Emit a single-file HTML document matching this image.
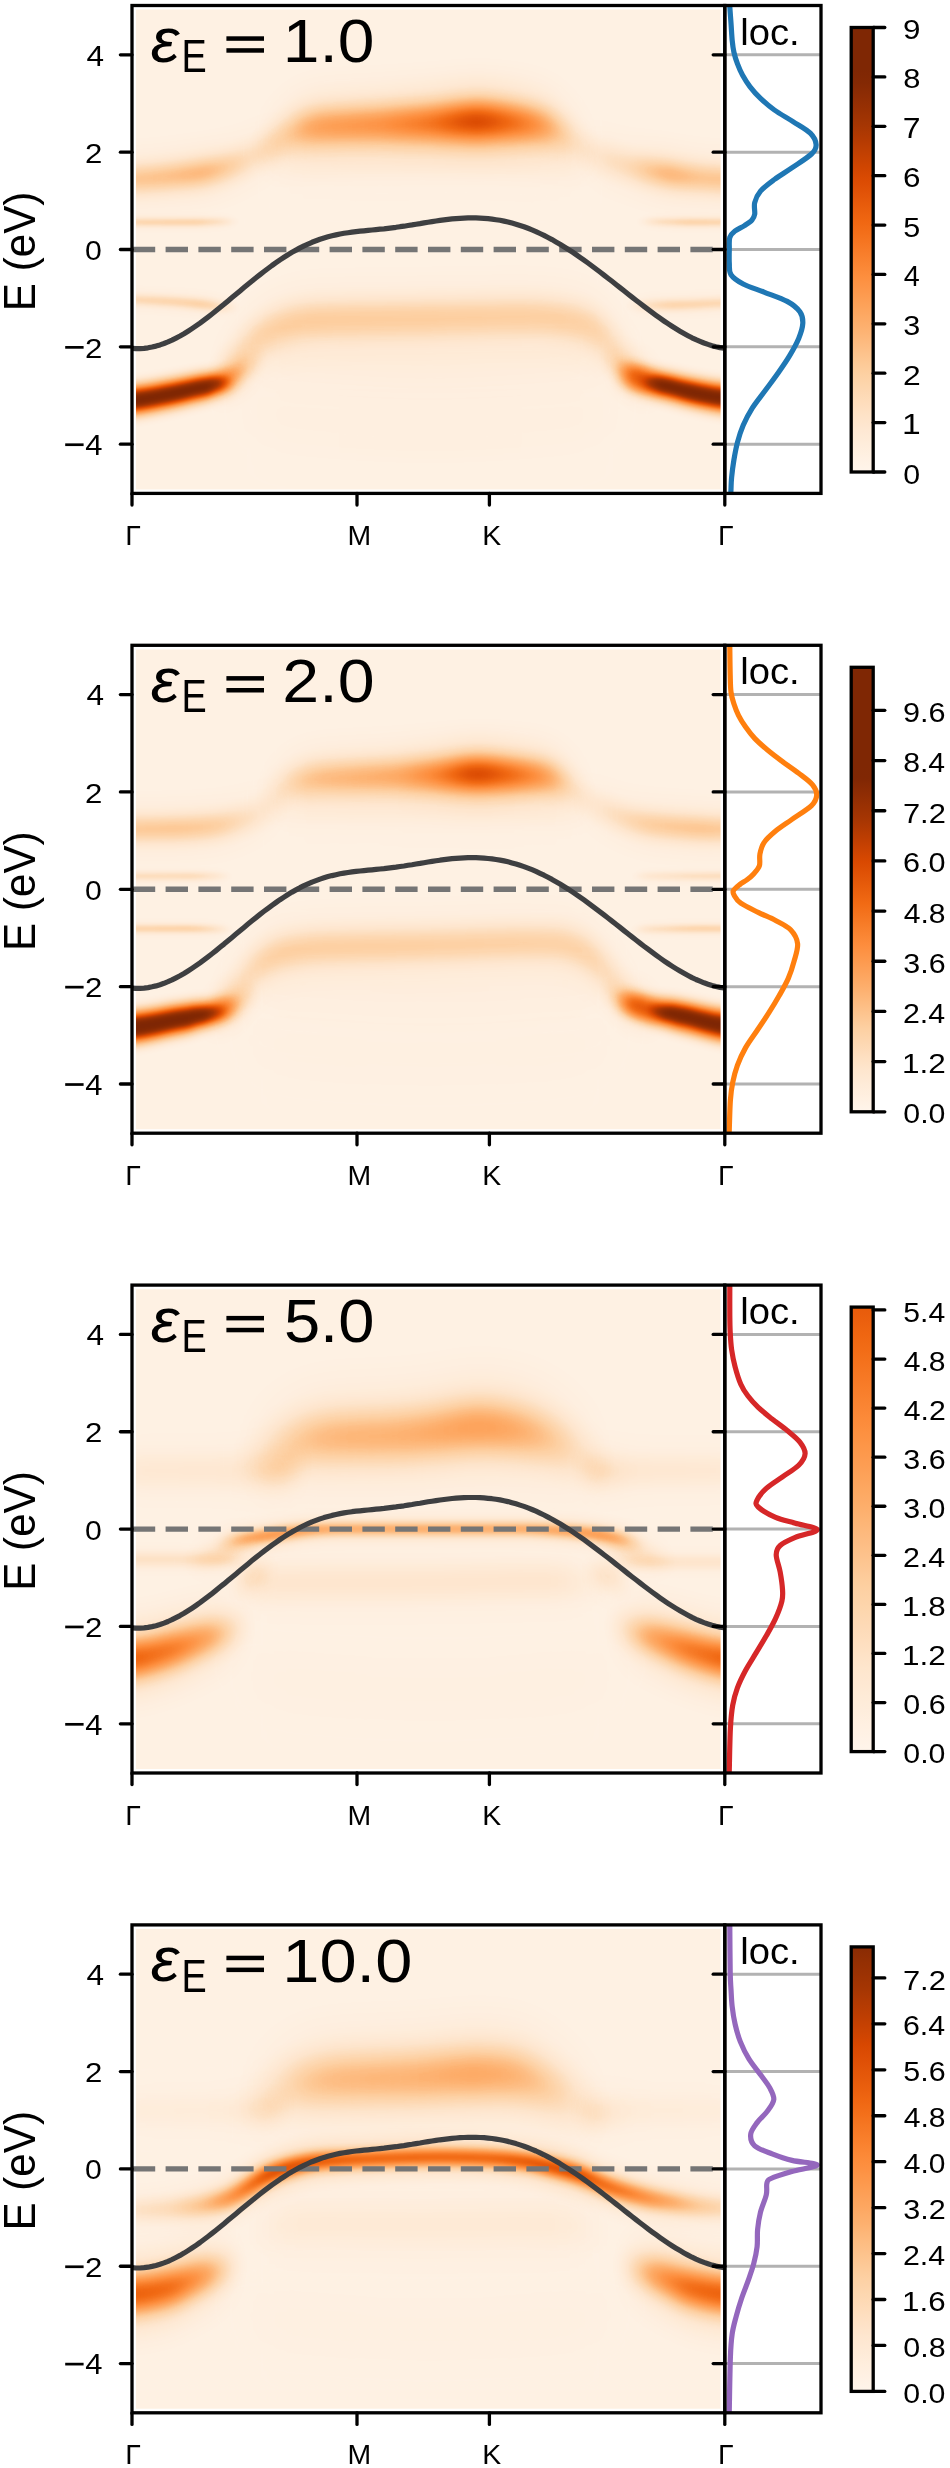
<!DOCTYPE html>
<html><head><meta charset="utf-8"><style>
html,body{margin:0;padding:0;background:#fff;}
svg{display:block;}
.w stop{stop-color:#fff;}
text{opacity:0.999;font-family:"Liberation Sans",sans-serif;fill:#000;font-kerning:none;}
</style></head><body>
<svg width="950" height="2468" viewBox="0 0 950 2468">
<defs><linearGradient class="w" id="g1" gradientUnits="userSpaceOnUse" x1="250" x2="610"><stop offset="0%" stop-opacity="0.000"/><stop offset="13.89%" stop-opacity="0.025"/><stop offset="63.89%" stop-opacity="0.029"/><stop offset="86.11%" stop-opacity="0.025"/><stop offset="100%" stop-opacity="0.000"/></linearGradient>
<linearGradient class="w" id="g2" gradientUnits="userSpaceOnUse" x1="250" x2="610"><stop offset="0%" stop-opacity="0.000"/><stop offset="13.89%" stop-opacity="0.050"/><stop offset="63.89%" stop-opacity="0.057"/><stop offset="86.11%" stop-opacity="0.050"/><stop offset="100%" stop-opacity="0.000"/></linearGradient>
<linearGradient class="w" id="g3" gradientUnits="userSpaceOnUse" x1="215" x2="645"><stop offset="0%" stop-opacity="0.000"/><stop offset="12.79%" stop-opacity="0.010"/><stop offset="50%" stop-opacity="0.010"/><stop offset="87.21%" stop-opacity="0.010"/><stop offset="100%" stop-opacity="0.000"/></linearGradient>
<linearGradient class="w" id="g4" gradientUnits="userSpaceOnUse" x1="215" x2="645"><stop offset="0%" stop-opacity="0.000"/><stop offset="12.79%" stop-opacity="0.020"/><stop offset="50%" stop-opacity="0.019"/><stop offset="87.21%" stop-opacity="0.020"/><stop offset="100%" stop-opacity="0.000"/></linearGradient>
<linearGradient class="w" id="g5" gradientUnits="userSpaceOnUse" x1="100" x2="292"><stop offset="0%" stop-opacity="0.163"/><stop offset="16.67%" stop-opacity="0.163"/><stop offset="36.46%" stop-opacity="0.177"/><stop offset="53.65%" stop-opacity="0.206"/><stop offset="66.67%" stop-opacity="0.137"/><stop offset="76.04%" stop-opacity="0.084"/><stop offset="88.54%" stop-opacity="0.049"/><stop offset="100%" stop-opacity="0.000"/></linearGradient>
<linearGradient class="w" id="g6" gradientUnits="userSpaceOnUse" x1="100" x2="292"><stop offset="0%" stop-opacity="0.310"/><stop offset="16.67%" stop-opacity="0.310"/><stop offset="36.46%" stop-opacity="0.336"/><stop offset="53.65%" stop-opacity="0.390"/><stop offset="66.67%" stop-opacity="0.263"/><stop offset="76.04%" stop-opacity="0.164"/><stop offset="88.54%" stop-opacity="0.098"/><stop offset="100%" stop-opacity="0.000"/></linearGradient>
<linearGradient class="w" id="g7" gradientUnits="userSpaceOnUse" x1="573" x2="760"><stop offset="0%" stop-opacity="0.000"/><stop offset="14.44%" stop-opacity="0.049"/><stop offset="30.48%" stop-opacity="0.085"/><stop offset="51.34%" stop-opacity="0.208"/><stop offset="67.91%" stop-opacity="0.165"/><stop offset="81.18%" stop-opacity="0.165"/><stop offset="100%" stop-opacity="0.165"/></linearGradient>
<linearGradient class="w" id="g8" gradientUnits="userSpaceOnUse" x1="573" x2="760"><stop offset="0%" stop-opacity="0.000"/><stop offset="14.44%" stop-opacity="0.099"/><stop offset="30.48%" stop-opacity="0.165"/><stop offset="51.34%" stop-opacity="0.393"/><stop offset="67.91%" stop-opacity="0.312"/><stop offset="81.18%" stop-opacity="0.312"/><stop offset="100%" stop-opacity="0.312"/></linearGradient>
<linearGradient class="w" id="g9" gradientUnits="userSpaceOnUse" x1="255" x2="595"><stop offset="0%" stop-opacity="0.000"/><stop offset="5.88%" stop-opacity="0.064"/><stop offset="11.76%" stop-opacity="0.146"/><stop offset="17.65%" stop-opacity="0.206"/><stop offset="36.76%" stop-opacity="0.237"/><stop offset="51.47%" stop-opacity="0.303"/><stop offset="65.29%" stop-opacity="0.444"/><stop offset="75%" stop-opacity="0.338"/><stop offset="83.82%" stop-opacity="0.244"/><stop offset="88.53%" stop-opacity="0.154"/><stop offset="94.12%" stop-opacity="0.068"/><stop offset="100%" stop-opacity="0.000"/></linearGradient>
<linearGradient class="w" id="g10" gradientUnits="userSpaceOnUse" x1="255" x2="595"><stop offset="0%" stop-opacity="0.000"/><stop offset="5.88%" stop-opacity="0.125"/><stop offset="11.76%" stop-opacity="0.286"/><stop offset="17.65%" stop-opacity="0.403"/><stop offset="36.76%" stop-opacity="0.464"/><stop offset="51.47%" stop-opacity="0.593"/><stop offset="65.29%" stop-opacity="0.868"/><stop offset="75%" stop-opacity="0.661"/><stop offset="83.82%" stop-opacity="0.474"/><stop offset="88.53%" stop-opacity="0.299"/><stop offset="94.12%" stop-opacity="0.131"/><stop offset="100%" stop-opacity="0.000"/></linearGradient>
<linearGradient class="w" id="g11" gradientUnits="userSpaceOnUse" x1="100" x2="238"><stop offset="0%" stop-opacity="0.099"/><stop offset="23.19%" stop-opacity="0.099"/><stop offset="68.84%" stop-opacity="0.110"/><stop offset="88.41%" stop-opacity="0.065"/><stop offset="100%" stop-opacity="0.000"/></linearGradient>
<linearGradient class="w" id="g12" gradientUnits="userSpaceOnUse" x1="100" x2="238"><stop offset="0%" stop-opacity="0.191"/><stop offset="23.19%" stop-opacity="0.191"/><stop offset="68.84%" stop-opacity="0.213"/><stop offset="88.41%" stop-opacity="0.126"/><stop offset="100%" stop-opacity="0.000"/></linearGradient>
<linearGradient class="w" id="g13" gradientUnits="userSpaceOnUse" x1="638" x2="760"><stop offset="0%" stop-opacity="0.000"/><stop offset="13.93%" stop-opacity="0.065"/><stop offset="42.62%" stop-opacity="0.110"/><stop offset="71.15%" stop-opacity="0.099"/><stop offset="100%" stop-opacity="0.099"/></linearGradient>
<linearGradient class="w" id="g14" gradientUnits="userSpaceOnUse" x1="638" x2="760"><stop offset="0%" stop-opacity="0.000"/><stop offset="13.93%" stop-opacity="0.126"/><stop offset="42.62%" stop-opacity="0.213"/><stop offset="71.15%" stop-opacity="0.191"/><stop offset="100%" stop-opacity="0.191"/></linearGradient>
<linearGradient class="w" id="g15" gradientUnits="userSpaceOnUse" x1="100" x2="238"><stop offset="0%" stop-opacity="0.098"/><stop offset="23.19%" stop-opacity="0.098"/><stop offset="57.97%" stop-opacity="0.106"/><stop offset="76.09%" stop-opacity="0.111"/><stop offset="88.41%" stop-opacity="0.067"/><stop offset="100%" stop-opacity="0.000"/></linearGradient>
<linearGradient class="w" id="g16" gradientUnits="userSpaceOnUse" x1="100" x2="238"><stop offset="0%" stop-opacity="0.188"/><stop offset="23.19%" stop-opacity="0.188"/><stop offset="57.97%" stop-opacity="0.204"/><stop offset="76.09%" stop-opacity="0.217"/><stop offset="88.41%" stop-opacity="0.132"/><stop offset="100%" stop-opacity="0.000"/></linearGradient>
<linearGradient class="w" id="g17" gradientUnits="userSpaceOnUse" x1="628" x2="760"><stop offset="0%" stop-opacity="0.000"/><stop offset="12.88%" stop-opacity="0.062"/><stop offset="31.82%" stop-opacity="0.100"/><stop offset="46.97%" stop-opacity="0.100"/><stop offset="73.33%" stop-opacity="0.098"/><stop offset="100%" stop-opacity="0.098"/></linearGradient>
<linearGradient class="w" id="g18" gradientUnits="userSpaceOnUse" x1="628" x2="760"><stop offset="0%" stop-opacity="0.000"/><stop offset="12.88%" stop-opacity="0.121"/><stop offset="31.82%" stop-opacity="0.195"/><stop offset="46.97%" stop-opacity="0.193"/><stop offset="73.33%" stop-opacity="0.188"/><stop offset="100%" stop-opacity="0.188"/></linearGradient>
<linearGradient class="w" id="g19" gradientUnits="userSpaceOnUse" x1="214" x2="645"><stop offset="0%" stop-opacity="0.000"/><stop offset="3.25%" stop-opacity="0.070"/><stop offset="6.03%" stop-opacity="0.095"/><stop offset="9.51%" stop-opacity="0.101"/><stop offset="15.31%" stop-opacity="0.112"/><stop offset="22.27%" stop-opacity="0.117"/><stop offset="47.8%" stop-opacity="0.117"/><stop offset="75.64%" stop-opacity="0.112"/><stop offset="84.92%" stop-opacity="0.106"/><stop offset="89.56%" stop-opacity="0.096"/><stop offset="93.04%" stop-opacity="0.090"/><stop offset="96.52%" stop-opacity="0.070"/><stop offset="100%" stop-opacity="0.000"/></linearGradient>
<linearGradient class="w" id="g20" gradientUnits="userSpaceOnUse" x1="214" x2="645"><stop offset="0%" stop-opacity="0.000"/><stop offset="3.25%" stop-opacity="0.134"/><stop offset="6.03%" stop-opacity="0.185"/><stop offset="9.51%" stop-opacity="0.196"/><stop offset="15.31%" stop-opacity="0.217"/><stop offset="22.27%" stop-opacity="0.228"/><stop offset="47.8%" stop-opacity="0.228"/><stop offset="75.64%" stop-opacity="0.217"/><stop offset="84.92%" stop-opacity="0.206"/><stop offset="89.56%" stop-opacity="0.188"/><stop offset="93.04%" stop-opacity="0.174"/><stop offset="96.52%" stop-opacity="0.134"/><stop offset="100%" stop-opacity="0.000"/></linearGradient>
<linearGradient class="w" id="g21" gradientUnits="userSpaceOnUse" x1="230" x2="630"><stop offset="0%" stop-opacity="0.000"/><stop offset="10%" stop-opacity="0.020"/><stop offset="50%" stop-opacity="0.019"/><stop offset="90%" stop-opacity="0.020"/><stop offset="100%" stop-opacity="0.000"/></linearGradient>
<linearGradient class="w" id="g22" gradientUnits="userSpaceOnUse" x1="230" x2="630"><stop offset="0%" stop-opacity="0.000"/><stop offset="10%" stop-opacity="0.040"/><stop offset="50%" stop-opacity="0.038"/><stop offset="90%" stop-opacity="0.040"/><stop offset="100%" stop-opacity="0.000"/></linearGradient>
<linearGradient class="w" id="g23" gradientUnits="userSpaceOnUse" x1="212" x2="262"><stop offset="0%" stop-opacity="0.000"/><stop offset="36%" stop-opacity="0.222"/><stop offset="72%" stop-opacity="0.078"/><stop offset="100%" stop-opacity="0.000"/></linearGradient>
<linearGradient class="w" id="g24" gradientUnits="userSpaceOnUse" x1="212" x2="262"><stop offset="0%" stop-opacity="0.000"/><stop offset="36%" stop-opacity="0.428"/><stop offset="72%" stop-opacity="0.153"/><stop offset="100%" stop-opacity="0.000"/></linearGradient>
<linearGradient class="w" id="g25" gradientUnits="userSpaceOnUse" x1="605" x2="658"><stop offset="0%" stop-opacity="0.000"/><stop offset="28.3%" stop-opacity="0.089"/><stop offset="66.04%" stop-opacity="0.256"/><stop offset="100%" stop-opacity="0.000"/></linearGradient>
<linearGradient class="w" id="g26" gradientUnits="userSpaceOnUse" x1="605" x2="658"><stop offset="0%" stop-opacity="0.000"/><stop offset="28.3%" stop-opacity="0.174"/><stop offset="66.04%" stop-opacity="0.492"/><stop offset="100%" stop-opacity="0.000"/></linearGradient>
<linearGradient class="w" id="g27" gradientUnits="userSpaceOnUse" x1="100" x2="240"><stop offset="0%" stop-opacity="0.593"/><stop offset="22.86%" stop-opacity="0.593"/><stop offset="50%" stop-opacity="0.595"/><stop offset="77.14%" stop-opacity="0.599"/><stop offset="87.14%" stop-opacity="0.454"/><stop offset="100%" stop-opacity="0.000"/></linearGradient>
<linearGradient class="w" id="g28" gradientUnits="userSpaceOnUse" x1="615" x2="760"><stop offset="0%" stop-opacity="0.000"/><stop offset="11.72%" stop-opacity="0.454"/><stop offset="27.59%" stop-opacity="0.599"/><stop offset="55.86%" stop-opacity="0.595"/><stop offset="75.72%" stop-opacity="0.593"/><stop offset="100%" stop-opacity="0.593"/></linearGradient>
<linearGradient class="w" id="g29" gradientUnits="userSpaceOnUse" x1="100" x2="232"><stop offset="0%" stop-opacity="1.000"/><stop offset="24.24%" stop-opacity="1.000"/><stop offset="53.03%" stop-opacity="1.000"/><stop offset="81.82%" stop-opacity="1.000"/><stop offset="90.91%" stop-opacity="0.735"/><stop offset="100%" stop-opacity="0.000"/></linearGradient>
<linearGradient class="w" id="g30" gradientUnits="userSpaceOnUse" x1="640" x2="760"><stop offset="0%" stop-opacity="0.000"/><stop offset="8.33%" stop-opacity="0.735"/><stop offset="16.67%" stop-opacity="1.000"/><stop offset="46.67%" stop-opacity="1.000"/><stop offset="70.67%" stop-opacity="1.000"/><stop offset="100%" stop-opacity="1.000"/></linearGradient>
<linearGradient class="w" id="g31" gradientUnits="userSpaceOnUse" x1="250" x2="610"><stop offset="0%" stop-opacity="0.000"/><stop offset="13.89%" stop-opacity="0.020"/><stop offset="63.89%" stop-opacity="0.024"/><stop offset="86.11%" stop-opacity="0.020"/><stop offset="100%" stop-opacity="0.000"/></linearGradient>
<linearGradient class="w" id="g32" gradientUnits="userSpaceOnUse" x1="250" x2="610"><stop offset="0%" stop-opacity="0.000"/><stop offset="13.89%" stop-opacity="0.040"/><stop offset="63.89%" stop-opacity="0.047"/><stop offset="86.11%" stop-opacity="0.040"/><stop offset="100%" stop-opacity="0.000"/></linearGradient>
<linearGradient class="w" id="g33" gradientUnits="userSpaceOnUse" x1="215" x2="645"><stop offset="0%" stop-opacity="0.000"/><stop offset="12.79%" stop-opacity="0.008"/><stop offset="50%" stop-opacity="0.007"/><stop offset="87.21%" stop-opacity="0.008"/><stop offset="100%" stop-opacity="0.000"/></linearGradient>
<linearGradient class="w" id="g34" gradientUnits="userSpaceOnUse" x1="215" x2="645"><stop offset="0%" stop-opacity="0.000"/><stop offset="12.79%" stop-opacity="0.015"/><stop offset="50%" stop-opacity="0.014"/><stop offset="87.21%" stop-opacity="0.015"/><stop offset="100%" stop-opacity="0.000"/></linearGradient>
<linearGradient class="w" id="g35" gradientUnits="userSpaceOnUse" x1="100" x2="292"><stop offset="0%" stop-opacity="0.151"/><stop offset="16.67%" stop-opacity="0.151"/><stop offset="41.67%" stop-opacity="0.158"/><stop offset="59.9%" stop-opacity="0.138"/><stop offset="72.92%" stop-opacity="0.079"/><stop offset="85.94%" stop-opacity="0.040"/><stop offset="100%" stop-opacity="0.000"/></linearGradient>
<linearGradient class="w" id="g36" gradientUnits="userSpaceOnUse" x1="100" x2="292"><stop offset="0%" stop-opacity="0.285"/><stop offset="16.67%" stop-opacity="0.285"/><stop offset="41.67%" stop-opacity="0.298"/><stop offset="59.9%" stop-opacity="0.261"/><stop offset="72.92%" stop-opacity="0.153"/><stop offset="85.94%" stop-opacity="0.081"/><stop offset="100%" stop-opacity="0.000"/></linearGradient>
<linearGradient class="w" id="g37" gradientUnits="userSpaceOnUse" x1="570" x2="760"><stop offset="0%" stop-opacity="0.000"/><stop offset="14.74%" stop-opacity="0.047"/><stop offset="28.95%" stop-opacity="0.086"/><stop offset="42.11%" stop-opacity="0.130"/><stop offset="68.42%" stop-opacity="0.163"/><stop offset="81.47%" stop-opacity="0.149"/><stop offset="100%" stop-opacity="0.149"/></linearGradient>
<linearGradient class="w" id="g38" gradientUnits="userSpaceOnUse" x1="570" x2="760"><stop offset="0%" stop-opacity="0.000"/><stop offset="14.74%" stop-opacity="0.093"/><stop offset="28.95%" stop-opacity="0.167"/><stop offset="42.11%" stop-opacity="0.249"/><stop offset="68.42%" stop-opacity="0.308"/><stop offset="81.47%" stop-opacity="0.282"/><stop offset="100%" stop-opacity="0.282"/></linearGradient>
<linearGradient class="w" id="g39" gradientUnits="userSpaceOnUse" x1="258" x2="590"><stop offset="0%" stop-opacity="0.000"/><stop offset="7.23%" stop-opacity="0.058"/><stop offset="12.65%" stop-opacity="0.120"/><stop offset="18.07%" stop-opacity="0.149"/><stop offset="42.77%" stop-opacity="0.192"/><stop offset="54.82%" stop-opacity="0.289"/><stop offset="65.66%" stop-opacity="0.461"/><stop offset="77.41%" stop-opacity="0.330"/><stop offset="87.95%" stop-opacity="0.210"/><stop offset="93.98%" stop-opacity="0.083"/><stop offset="100%" stop-opacity="0.000"/></linearGradient>
<linearGradient class="w" id="g40" gradientUnits="userSpaceOnUse" x1="258" x2="590"><stop offset="0%" stop-opacity="0.000"/><stop offset="7.23%" stop-opacity="0.114"/><stop offset="12.65%" stop-opacity="0.234"/><stop offset="18.07%" stop-opacity="0.291"/><stop offset="42.77%" stop-opacity="0.373"/><stop offset="54.82%" stop-opacity="0.562"/><stop offset="65.66%" stop-opacity="0.899"/><stop offset="77.41%" stop-opacity="0.644"/><stop offset="87.95%" stop-opacity="0.410"/><stop offset="93.98%" stop-opacity="0.161"/><stop offset="100%" stop-opacity="0.000"/></linearGradient>
<linearGradient class="w" id="g41" gradientUnits="userSpaceOnUse" x1="100" x2="232"><stop offset="0%" stop-opacity="0.076"/><stop offset="24.24%" stop-opacity="0.076"/><stop offset="71.97%" stop-opacity="0.082"/><stop offset="89.39%" stop-opacity="0.043"/><stop offset="100%" stop-opacity="0.000"/></linearGradient>
<linearGradient class="w" id="g42" gradientUnits="userSpaceOnUse" x1="100" x2="232"><stop offset="0%" stop-opacity="0.147"/><stop offset="24.24%" stop-opacity="0.147"/><stop offset="71.97%" stop-opacity="0.158"/><stop offset="89.39%" stop-opacity="0.083"/><stop offset="100%" stop-opacity="0.000"/></linearGradient>
<linearGradient class="w" id="g43" gradientUnits="userSpaceOnUse" x1="632" x2="760"><stop offset="0%" stop-opacity="0.000"/><stop offset="10.94%" stop-opacity="0.043"/><stop offset="45.31%" stop-opacity="0.070"/><stop offset="72.5%" stop-opacity="0.076"/><stop offset="100%" stop-opacity="0.076"/></linearGradient>
<linearGradient class="w" id="g44" gradientUnits="userSpaceOnUse" x1="632" x2="760"><stop offset="0%" stop-opacity="0.000"/><stop offset="10.94%" stop-opacity="0.083"/><stop offset="45.31%" stop-opacity="0.136"/><stop offset="72.5%" stop-opacity="0.147"/><stop offset="100%" stop-opacity="0.147"/></linearGradient>
<linearGradient class="w" id="g45" gradientUnits="userSpaceOnUse" x1="100" x2="232"><stop offset="0%" stop-opacity="0.104"/><stop offset="24.24%" stop-opacity="0.104"/><stop offset="71.97%" stop-opacity="0.110"/><stop offset="89.39%" stop-opacity="0.059"/><stop offset="100%" stop-opacity="0.000"/></linearGradient>
<linearGradient class="w" id="g46" gradientUnits="userSpaceOnUse" x1="100" x2="232"><stop offset="0%" stop-opacity="0.202"/><stop offset="24.24%" stop-opacity="0.202"/><stop offset="71.97%" stop-opacity="0.213"/><stop offset="89.39%" stop-opacity="0.115"/><stop offset="100%" stop-opacity="0.000"/></linearGradient>
<linearGradient class="w" id="g47" gradientUnits="userSpaceOnUse" x1="632" x2="760"><stop offset="0%" stop-opacity="0.000"/><stop offset="10.94%" stop-opacity="0.059"/><stop offset="45.31%" stop-opacity="0.104"/><stop offset="72.5%" stop-opacity="0.104"/><stop offset="100%" stop-opacity="0.104"/></linearGradient>
<linearGradient class="w" id="g48" gradientUnits="userSpaceOnUse" x1="632" x2="760"><stop offset="0%" stop-opacity="0.000"/><stop offset="10.94%" stop-opacity="0.115"/><stop offset="45.31%" stop-opacity="0.202"/><stop offset="72.5%" stop-opacity="0.202"/><stop offset="100%" stop-opacity="0.202"/></linearGradient>
<linearGradient class="w" id="g49" gradientUnits="userSpaceOnUse" x1="212" x2="640"><stop offset="0%" stop-opacity="0.000"/><stop offset="3.27%" stop-opacity="0.067"/><stop offset="6.54%" stop-opacity="0.090"/><stop offset="10.05%" stop-opacity="0.101"/><stop offset="14.72%" stop-opacity="0.112"/><stop offset="22.9%" stop-opacity="0.112"/><stop offset="48.6%" stop-opacity="0.112"/><stop offset="81.31%" stop-opacity="0.107"/><stop offset="88.32%" stop-opacity="0.107"/><stop offset="92.52%" stop-opacity="0.090"/><stop offset="95.79%" stop-opacity="0.072"/><stop offset="100%" stop-opacity="0.000"/></linearGradient>
<linearGradient class="w" id="g50" gradientUnits="userSpaceOnUse" x1="212" x2="640"><stop offset="0%" stop-opacity="0.000"/><stop offset="3.27%" stop-opacity="0.129"/><stop offset="6.54%" stop-opacity="0.176"/><stop offset="10.05%" stop-opacity="0.197"/><stop offset="14.72%" stop-opacity="0.219"/><stop offset="22.9%" stop-opacity="0.219"/><stop offset="48.6%" stop-opacity="0.219"/><stop offset="81.31%" stop-opacity="0.208"/><stop offset="88.32%" stop-opacity="0.208"/><stop offset="92.52%" stop-opacity="0.176"/><stop offset="95.79%" stop-opacity="0.140"/><stop offset="100%" stop-opacity="0.000"/></linearGradient>
<linearGradient class="w" id="g51" gradientUnits="userSpaceOnUse" x1="230" x2="630"><stop offset="0%" stop-opacity="0.000"/><stop offset="10%" stop-opacity="0.015"/><stop offset="50%" stop-opacity="0.014"/><stop offset="90%" stop-opacity="0.015"/><stop offset="100%" stop-opacity="0.000"/></linearGradient>
<linearGradient class="w" id="g52" gradientUnits="userSpaceOnUse" x1="230" x2="630"><stop offset="0%" stop-opacity="0.000"/><stop offset="10%" stop-opacity="0.030"/><stop offset="50%" stop-opacity="0.028"/><stop offset="90%" stop-opacity="0.030"/><stop offset="100%" stop-opacity="0.000"/></linearGradient>
<linearGradient class="w" id="g53" gradientUnits="userSpaceOnUse" x1="205" x2="256"><stop offset="0%" stop-opacity="0.000"/><stop offset="33.33%" stop-opacity="0.235"/><stop offset="68.63%" stop-opacity="0.089"/><stop offset="100%" stop-opacity="0.000"/></linearGradient>
<linearGradient class="w" id="g54" gradientUnits="userSpaceOnUse" x1="205" x2="256"><stop offset="0%" stop-opacity="0.000"/><stop offset="33.33%" stop-opacity="0.453"/><stop offset="68.63%" stop-opacity="0.174"/><stop offset="100%" stop-opacity="0.000"/></linearGradient>
<linearGradient class="w" id="g55" gradientUnits="userSpaceOnUse" x1="606" x2="660"><stop offset="0%" stop-opacity="0.000"/><stop offset="27.78%" stop-opacity="0.117"/><stop offset="62.96%" stop-opacity="0.256"/><stop offset="100%" stop-opacity="0.000"/></linearGradient>
<linearGradient class="w" id="g56" gradientUnits="userSpaceOnUse" x1="606" x2="660"><stop offset="0%" stop-opacity="0.000"/><stop offset="27.78%" stop-opacity="0.228"/><stop offset="62.96%" stop-opacity="0.492"/><stop offset="100%" stop-opacity="0.000"/></linearGradient>
<linearGradient class="w" id="g57" gradientUnits="userSpaceOnUse" x1="100" x2="240"><stop offset="0%" stop-opacity="0.611"/><stop offset="22.86%" stop-opacity="0.611"/><stop offset="63.57%" stop-opacity="0.614"/><stop offset="77.14%" stop-opacity="0.560"/><stop offset="87.14%" stop-opacity="0.409"/><stop offset="100%" stop-opacity="0.000"/></linearGradient>
<linearGradient class="w" id="g58" gradientUnits="userSpaceOnUse" x1="615" x2="760"><stop offset="0%" stop-opacity="0.000"/><stop offset="10.34%" stop-opacity="0.431"/><stop offset="27.59%" stop-opacity="0.581"/><stop offset="40.69%" stop-opacity="0.614"/><stop offset="75.72%" stop-opacity="0.611"/><stop offset="100%" stop-opacity="0.611"/></linearGradient>
<linearGradient class="w" id="g59" gradientUnits="userSpaceOnUse" x1="100" x2="228"><stop offset="0%" stop-opacity="1.000"/><stop offset="25%" stop-opacity="1.000"/><stop offset="69.53%" stop-opacity="1.000"/><stop offset="82.81%" stop-opacity="0.976"/><stop offset="90.62%" stop-opacity="0.643"/><stop offset="100%" stop-opacity="0.000"/></linearGradient>
<linearGradient class="w" id="g60" gradientUnits="userSpaceOnUse" x1="645" x2="760"><stop offset="0%" stop-opacity="0.000"/><stop offset="8.7%" stop-opacity="0.643"/><stop offset="17.39%" stop-opacity="0.976"/><stop offset="26.96%" stop-opacity="1.000"/><stop offset="69.39%" stop-opacity="1.000"/><stop offset="100%" stop-opacity="1.000"/></linearGradient>
<linearGradient class="w" id="g61" gradientUnits="userSpaceOnUse" x1="215" x2="645"><stop offset="0%" stop-opacity="0.000"/><stop offset="12.79%" stop-opacity="0.008"/><stop offset="50%" stop-opacity="0.007"/><stop offset="87.21%" stop-opacity="0.008"/><stop offset="100%" stop-opacity="0.000"/></linearGradient>
<linearGradient class="w" id="g62" gradientUnits="userSpaceOnUse" x1="215" x2="645"><stop offset="0%" stop-opacity="0.000"/><stop offset="12.79%" stop-opacity="0.015"/><stop offset="50%" stop-opacity="0.014"/><stop offset="87.21%" stop-opacity="0.015"/><stop offset="100%" stop-opacity="0.000"/></linearGradient>
<linearGradient class="w" id="g63" gradientUnits="userSpaceOnUse" x1="100" x2="305"><stop offset="0%" stop-opacity="0.037"/><stop offset="15.61%" stop-opacity="0.037"/><stop offset="68.29%" stop-opacity="0.043"/><stop offset="88.78%" stop-opacity="0.093"/><stop offset="100%" stop-opacity="0.000"/></linearGradient>
<linearGradient class="w" id="g64" gradientUnits="userSpaceOnUse" x1="100" x2="305"><stop offset="0%" stop-opacity="0.072"/><stop offset="15.61%" stop-opacity="0.072"/><stop offset="68.29%" stop-opacity="0.083"/><stop offset="88.78%" stop-opacity="0.180"/><stop offset="100%" stop-opacity="0.000"/></linearGradient>
<linearGradient class="w" id="g65" gradientUnits="userSpaceOnUse" x1="578" x2="760"><stop offset="0%" stop-opacity="0.000"/><stop offset="9.34%" stop-opacity="0.087"/><stop offset="28.57%" stop-opacity="0.043"/><stop offset="80.66%" stop-opacity="0.037"/><stop offset="100%" stop-opacity="0.037"/></linearGradient>
<linearGradient class="w" id="g66" gradientUnits="userSpaceOnUse" x1="578" x2="760"><stop offset="0%" stop-opacity="0.000"/><stop offset="9.34%" stop-opacity="0.170"/><stop offset="28.57%" stop-opacity="0.083"/><stop offset="80.66%" stop-opacity="0.073"/><stop offset="100%" stop-opacity="0.073"/></linearGradient>
<linearGradient class="w" id="g67" gradientUnits="userSpaceOnUse" x1="240" x2="605"><stop offset="0%" stop-opacity="0.000"/><stop offset="8.77%" stop-opacity="0.067"/><stop offset="16.44%" stop-opacity="0.138"/><stop offset="24.66%" stop-opacity="0.161"/><stop offset="43.84%" stop-opacity="0.173"/><stop offset="54.79%" stop-opacity="0.191"/><stop offset="64.38%" stop-opacity="0.215"/><stop offset="73.97%" stop-opacity="0.197"/><stop offset="82.19%" stop-opacity="0.161"/><stop offset="87.67%" stop-opacity="0.125"/><stop offset="93.7%" stop-opacity="0.069"/><stop offset="100%" stop-opacity="0.000"/></linearGradient>
<linearGradient class="w" id="g68" gradientUnits="userSpaceOnUse" x1="240" x2="605"><stop offset="0%" stop-opacity="0.000"/><stop offset="8.77%" stop-opacity="0.128"/><stop offset="16.44%" stop-opacity="0.267"/><stop offset="24.66%" stop-opacity="0.315"/><stop offset="43.84%" stop-opacity="0.338"/><stop offset="54.79%" stop-opacity="0.373"/><stop offset="64.38%" stop-opacity="0.420"/><stop offset="73.97%" stop-opacity="0.385"/><stop offset="82.19%" stop-opacity="0.313"/><stop offset="87.67%" stop-opacity="0.241"/><stop offset="93.7%" stop-opacity="0.133"/><stop offset="100%" stop-opacity="0.000"/></linearGradient>
<linearGradient class="w" id="g69" gradientUnits="userSpaceOnUse" x1="220" x2="640"><stop offset="0%" stop-opacity="0.000"/><stop offset="4.76%" stop-opacity="0.138"/><stop offset="10.71%" stop-opacity="0.239"/><stop offset="19.05%" stop-opacity="0.223"/><stop offset="26.19%" stop-opacity="0.213"/><stop offset="47.62%" stop-opacity="0.213"/><stop offset="73.81%" stop-opacity="0.213"/><stop offset="85.71%" stop-opacity="0.223"/><stop offset="90.48%" stop-opacity="0.239"/><stop offset="95.71%" stop-opacity="0.138"/><stop offset="100%" stop-opacity="0.000"/></linearGradient>
<linearGradient class="w" id="g70" gradientUnits="userSpaceOnUse" x1="220" x2="640"><stop offset="0%" stop-opacity="0.000"/><stop offset="4.76%" stop-opacity="0.275"/><stop offset="10.71%" stop-opacity="0.469"/><stop offset="19.05%" stop-opacity="0.432"/><stop offset="26.19%" stop-opacity="0.408"/><stop offset="47.62%" stop-opacity="0.408"/><stop offset="73.81%" stop-opacity="0.408"/><stop offset="85.71%" stop-opacity="0.432"/><stop offset="90.48%" stop-opacity="0.469"/><stop offset="95.71%" stop-opacity="0.275"/><stop offset="100%" stop-opacity="0.000"/></linearGradient>
<linearGradient class="w" id="g71" gradientUnits="userSpaceOnUse" x1="185" x2="258"><stop offset="0%" stop-opacity="0.000"/><stop offset="36.99%" stop-opacity="0.056"/><stop offset="72.6%" stop-opacity="0.084"/><stop offset="100%" stop-opacity="0.000"/></linearGradient>
<linearGradient class="w" id="g72" gradientUnits="userSpaceOnUse" x1="185" x2="258"><stop offset="0%" stop-opacity="0.000"/><stop offset="36.99%" stop-opacity="0.109"/><stop offset="72.6%" stop-opacity="0.161"/><stop offset="100%" stop-opacity="0.000"/></linearGradient>
<linearGradient class="w" id="g73" gradientUnits="userSpaceOnUse" x1="602" x2="675"><stop offset="0%" stop-opacity="0.000"/><stop offset="27.4%" stop-opacity="0.084"/><stop offset="63.01%" stop-opacity="0.056"/><stop offset="100%" stop-opacity="0.000"/></linearGradient>
<linearGradient class="w" id="g74" gradientUnits="userSpaceOnUse" x1="602" x2="675"><stop offset="0%" stop-opacity="0.000"/><stop offset="27.4%" stop-opacity="0.161"/><stop offset="63.01%" stop-opacity="0.109"/><stop offset="100%" stop-opacity="0.000"/></linearGradient>
<linearGradient class="w" id="g75" gradientUnits="userSpaceOnUse" x1="100" x2="246"><stop offset="0%" stop-opacity="0.065"/><stop offset="21.92%" stop-opacity="0.065"/><stop offset="87.67%" stop-opacity="0.065"/><stop offset="100%" stop-opacity="0.000"/></linearGradient>
<linearGradient class="w" id="g76" gradientUnits="userSpaceOnUse" x1="100" x2="246"><stop offset="0%" stop-opacity="0.125"/><stop offset="21.92%" stop-opacity="0.125"/><stop offset="87.67%" stop-opacity="0.125"/><stop offset="100%" stop-opacity="0.000"/></linearGradient>
<linearGradient class="w" id="g77" gradientUnits="userSpaceOnUse" x1="612" x2="760"><stop offset="0%" stop-opacity="0.000"/><stop offset="12.16%" stop-opacity="0.054"/><stop offset="76.22%" stop-opacity="0.054"/><stop offset="100%" stop-opacity="0.054"/></linearGradient>
<linearGradient class="w" id="g78" gradientUnits="userSpaceOnUse" x1="612" x2="760"><stop offset="0%" stop-opacity="0.000"/><stop offset="12.16%" stop-opacity="0.104"/><stop offset="76.22%" stop-opacity="0.104"/><stop offset="100%" stop-opacity="0.104"/></linearGradient>
<linearGradient class="w" id="g79" gradientUnits="userSpaceOnUse" x1="232" x2="272"><stop offset="0%" stop-opacity="0.000"/><stop offset="50%" stop-opacity="0.093"/><stop offset="100%" stop-opacity="0.000"/></linearGradient>
<linearGradient class="w" id="g80" gradientUnits="userSpaceOnUse" x1="232" x2="272"><stop offset="0%" stop-opacity="0.000"/><stop offset="50%" stop-opacity="0.179"/><stop offset="100%" stop-opacity="0.000"/></linearGradient>
<linearGradient class="w" id="g81" gradientUnits="userSpaceOnUse" x1="588" x2="628"><stop offset="0%" stop-opacity="0.000"/><stop offset="50%" stop-opacity="0.093"/><stop offset="100%" stop-opacity="0.000"/></linearGradient>
<linearGradient class="w" id="g82" gradientUnits="userSpaceOnUse" x1="588" x2="628"><stop offset="0%" stop-opacity="0.000"/><stop offset="50%" stop-opacity="0.179"/><stop offset="100%" stop-opacity="0.000"/></linearGradient>
<linearGradient class="w" id="g83" gradientUnits="userSpaceOnUse" x1="238" x2="612"><stop offset="0%" stop-opacity="0.000"/><stop offset="6.42%" stop-opacity="0.046"/><stop offset="48.66%" stop-opacity="0.046"/><stop offset="86.1%" stop-opacity="0.046"/><stop offset="100%" stop-opacity="0.000"/></linearGradient>
<linearGradient class="w" id="g84" gradientUnits="userSpaceOnUse" x1="238" x2="612"><stop offset="0%" stop-opacity="0.000"/><stop offset="6.42%" stop-opacity="0.090"/><stop offset="48.66%" stop-opacity="0.090"/><stop offset="86.1%" stop-opacity="0.090"/><stop offset="100%" stop-opacity="0.000"/></linearGradient>
<linearGradient class="w" id="g85" gradientUnits="userSpaceOnUse" x1="100" x2="250"><stop offset="0%" stop-opacity="0.348"/><stop offset="23.33%" stop-opacity="0.348"/><stop offset="50.67%" stop-opacity="0.294"/><stop offset="75.33%" stop-opacity="0.204"/><stop offset="86.67%" stop-opacity="0.100"/><stop offset="100%" stop-opacity="0.000"/></linearGradient>
<linearGradient class="w" id="g86" gradientUnits="userSpaceOnUse" x1="100" x2="250"><stop offset="0%" stop-opacity="0.683"/><stop offset="23.33%" stop-opacity="0.683"/><stop offset="50.67%" stop-opacity="0.576"/><stop offset="75.33%" stop-opacity="0.393"/><stop offset="86.67%" stop-opacity="0.192"/><stop offset="100%" stop-opacity="0.000"/></linearGradient>
<linearGradient class="w" id="g87" gradientUnits="userSpaceOnUse" x1="610" x2="760"><stop offset="0%" stop-opacity="0.000"/><stop offset="13.33%" stop-opacity="0.100"/><stop offset="24.67%" stop-opacity="0.204"/><stop offset="49.33%" stop-opacity="0.294"/><stop offset="76.53%" stop-opacity="0.348"/><stop offset="100%" stop-opacity="0.348"/></linearGradient>
<linearGradient class="w" id="g88" gradientUnits="userSpaceOnUse" x1="610" x2="760"><stop offset="0%" stop-opacity="0.000"/><stop offset="13.33%" stop-opacity="0.192"/><stop offset="24.67%" stop-opacity="0.393"/><stop offset="49.33%" stop-opacity="0.576"/><stop offset="76.53%" stop-opacity="0.683"/><stop offset="100%" stop-opacity="0.683"/></linearGradient>
<linearGradient class="w" id="g89" gradientUnits="userSpaceOnUse" x1="215" x2="645"><stop offset="0%" stop-opacity="0.000"/><stop offset="12.79%" stop-opacity="0.008"/><stop offset="50%" stop-opacity="0.007"/><stop offset="87.21%" stop-opacity="0.008"/><stop offset="100%" stop-opacity="0.000"/></linearGradient>
<linearGradient class="w" id="g90" gradientUnits="userSpaceOnUse" x1="215" x2="645"><stop offset="0%" stop-opacity="0.000"/><stop offset="12.79%" stop-opacity="0.015"/><stop offset="50%" stop-opacity="0.014"/><stop offset="87.21%" stop-opacity="0.015"/><stop offset="100%" stop-opacity="0.000"/></linearGradient>
<linearGradient class="w" id="g91" gradientUnits="userSpaceOnUse" x1="100" x2="292"><stop offset="0%" stop-opacity="0.021"/><stop offset="16.67%" stop-opacity="0.021"/><stop offset="67.71%" stop-opacity="0.027"/><stop offset="88.54%" stop-opacity="0.065"/><stop offset="100%" stop-opacity="0.000"/></linearGradient>
<linearGradient class="w" id="g92" gradientUnits="userSpaceOnUse" x1="100" x2="292"><stop offset="0%" stop-opacity="0.041"/><stop offset="16.67%" stop-opacity="0.041"/><stop offset="67.71%" stop-opacity="0.052"/><stop offset="88.54%" stop-opacity="0.126"/><stop offset="100%" stop-opacity="0.000"/></linearGradient>
<linearGradient class="w" id="g93" gradientUnits="userSpaceOnUse" x1="575" x2="760"><stop offset="0%" stop-opacity="0.000"/><stop offset="9.19%" stop-opacity="0.065"/><stop offset="29.73%" stop-opacity="0.027"/><stop offset="80.97%" stop-opacity="0.021"/><stop offset="100%" stop-opacity="0.021"/></linearGradient>
<linearGradient class="w" id="g94" gradientUnits="userSpaceOnUse" x1="575" x2="760"><stop offset="0%" stop-opacity="0.000"/><stop offset="9.19%" stop-opacity="0.126"/><stop offset="29.73%" stop-opacity="0.052"/><stop offset="80.97%" stop-opacity="0.041"/><stop offset="100%" stop-opacity="0.041"/></linearGradient>
<linearGradient class="w" id="g95" gradientUnits="userSpaceOnUse" x1="240" x2="605"><stop offset="0%" stop-opacity="0.000"/><stop offset="9.59%" stop-opacity="0.060"/><stop offset="16.44%" stop-opacity="0.124"/><stop offset="24.66%" stop-opacity="0.156"/><stop offset="49.32%" stop-opacity="0.174"/><stop offset="64.38%" stop-opacity="0.198"/><stop offset="76.71%" stop-opacity="0.174"/><stop offset="86.3%" stop-opacity="0.118"/><stop offset="93.15%" stop-opacity="0.057"/><stop offset="100%" stop-opacity="0.000"/></linearGradient>
<linearGradient class="w" id="g96" gradientUnits="userSpaceOnUse" x1="240" x2="605"><stop offset="0%" stop-opacity="0.000"/><stop offset="9.59%" stop-opacity="0.116"/><stop offset="16.44%" stop-opacity="0.242"/><stop offset="24.66%" stop-opacity="0.305"/><stop offset="49.32%" stop-opacity="0.339"/><stop offset="64.38%" stop-opacity="0.385"/><stop offset="76.71%" stop-opacity="0.339"/><stop offset="86.3%" stop-opacity="0.227"/><stop offset="93.15%" stop-opacity="0.109"/><stop offset="100%" stop-opacity="0.000"/></linearGradient>
<linearGradient class="w" id="g97" gradientUnits="userSpaceOnUse" x1="100" x2="760"><stop offset="0%" stop-opacity="0.050"/><stop offset="4.85%" stop-opacity="0.050"/><stop offset="10.61%" stop-opacity="0.065"/><stop offset="15.91%" stop-opacity="0.120"/><stop offset="19.7%" stop-opacity="0.213"/><stop offset="22.73%" stop-opacity="0.364"/><stop offset="25.15%" stop-opacity="0.567"/><stop offset="28.79%" stop-opacity="0.565"/><stop offset="32.58%" stop-opacity="0.545"/><stop offset="39.39%" stop-opacity="0.482"/><stop offset="50%" stop-opacity="0.482"/><stop offset="59.09%" stop-opacity="0.482"/><stop offset="65.15%" stop-opacity="0.545"/><stop offset="69.7%" stop-opacity="0.608"/><stop offset="72.73%" stop-opacity="0.527"/><stop offset="75.76%" stop-opacity="0.384"/><stop offset="78.79%" stop-opacity="0.306"/><stop offset="83.48%" stop-opacity="0.215"/><stop offset="90.61%" stop-opacity="0.108"/><stop offset="94.67%" stop-opacity="0.078"/><stop offset="100%" stop-opacity="0.078"/></linearGradient>
<linearGradient class="w" id="g98" gradientUnits="userSpaceOnUse" x1="100" x2="760"><stop offset="0%" stop-opacity="0.100"/><stop offset="4.85%" stop-opacity="0.100"/><stop offset="10.61%" stop-opacity="0.132"/><stop offset="15.91%" stop-opacity="0.244"/><stop offset="19.7%" stop-opacity="0.426"/><stop offset="22.73%" stop-opacity="0.706"/><stop offset="25.15%" stop-opacity="1.000"/><stop offset="28.79%" stop-opacity="1.000"/><stop offset="32.58%" stop-opacity="1.000"/><stop offset="39.39%" stop-opacity="0.901"/><stop offset="50%" stop-opacity="0.901"/><stop offset="59.09%" stop-opacity="0.901"/><stop offset="65.15%" stop-opacity="1.000"/><stop offset="69.7%" stop-opacity="1.000"/><stop offset="72.73%" stop-opacity="0.998"/><stop offset="75.76%" stop-opacity="0.738"/><stop offset="78.79%" stop-opacity="0.597"/><stop offset="83.48%" stop-opacity="0.427"/><stop offset="90.61%" stop-opacity="0.216"/><stop offset="94.67%" stop-opacity="0.157"/><stop offset="100%" stop-opacity="0.157"/></linearGradient>
<linearGradient class="w" id="g99" gradientUnits="userSpaceOnUse" x1="250" x2="610"><stop offset="0%" stop-opacity="0.000"/><stop offset="8.33%" stop-opacity="0.031"/><stop offset="47.22%" stop-opacity="0.031"/><stop offset="88.89%" stop-opacity="0.031"/><stop offset="100%" stop-opacity="0.000"/></linearGradient>
<linearGradient class="w" id="g100" gradientUnits="userSpaceOnUse" x1="250" x2="610"><stop offset="0%" stop-opacity="0.000"/><stop offset="8.33%" stop-opacity="0.060"/><stop offset="47.22%" stop-opacity="0.060"/><stop offset="88.89%" stop-opacity="0.060"/><stop offset="100%" stop-opacity="0.000"/></linearGradient>
<linearGradient class="w" id="g101" gradientUnits="userSpaceOnUse" x1="100" x2="240"><stop offset="0%" stop-opacity="0.353"/><stop offset="25%" stop-opacity="0.353"/><stop offset="52.14%" stop-opacity="0.325"/><stop offset="75.71%" stop-opacity="0.227"/><stop offset="87.14%" stop-opacity="0.128"/><stop offset="100%" stop-opacity="0.000"/></linearGradient>
<linearGradient class="w" id="g102" gradientUnits="userSpaceOnUse" x1="100" x2="240"><stop offset="0%" stop-opacity="0.691"/><stop offset="25%" stop-opacity="0.691"/><stop offset="52.14%" stop-opacity="0.637"/><stop offset="75.71%" stop-opacity="0.438"/><stop offset="87.14%" stop-opacity="0.243"/><stop offset="100%" stop-opacity="0.000"/></linearGradient>
<linearGradient class="w" id="g103" gradientUnits="userSpaceOnUse" x1="620" x2="760"><stop offset="0%" stop-opacity="0.000"/><stop offset="12.86%" stop-opacity="0.128"/><stop offset="24.29%" stop-opacity="0.227"/><stop offset="47.86%" stop-opacity="0.325"/><stop offset="74.86%" stop-opacity="0.353"/><stop offset="100%" stop-opacity="0.353"/></linearGradient>
<linearGradient class="w" id="g104" gradientUnits="userSpaceOnUse" x1="620" x2="760"><stop offset="0%" stop-opacity="0.000"/><stop offset="12.86%" stop-opacity="0.243"/><stop offset="24.29%" stop-opacity="0.438"/><stop offset="47.86%" stop-opacity="0.637"/><stop offset="74.86%" stop-opacity="0.691"/><stop offset="100%" stop-opacity="0.691"/></linearGradient>
<linearGradient id="cb0" x1="0" y1="1" x2="0" y2="0"><stop offset="0%" stop-color="#fff5eb"/><stop offset="3.12%" stop-color="#fff1e3"/><stop offset="6.25%" stop-color="#feeddb"/><stop offset="9.38%" stop-color="#fee8d3"/><stop offset="12.5%" stop-color="#fee3c8"/><stop offset="15.62%" stop-color="#feddbc"/><stop offset="18.75%" stop-color="#fdd7b0"/><stop offset="21.88%" stop-color="#fdd1a3"/><stop offset="25%" stop-color="#fdc894"/><stop offset="28.12%" stop-color="#fdbe85"/><stop offset="31.25%" stop-color="#fdb475"/><stop offset="34.38%" stop-color="#fdab67"/><stop offset="37.5%" stop-color="#fda259"/><stop offset="40.62%" stop-color="#fd984c"/><stop offset="43.75%" stop-color="#fd8f3f"/><stop offset="46.88%" stop-color="#fa8533"/><stop offset="50%" stop-color="#f77b28"/><stop offset="53.12%" stop-color="#f4711c"/><stop offset="56.25%" stop-color="#f06712"/><stop offset="59.38%" stop-color="#e95e0d"/><stop offset="62.5%" stop-color="#e25408"/><stop offset="65.62%" stop-color="#db4b03"/><stop offset="68.75%" stop-color="#cf4501"/><stop offset="71.88%" stop-color="#c14002"/><stop offset="75%" stop-color="#b33a02"/><stop offset="78.12%" stop-color="#a53603"/><stop offset="81.25%" stop-color="#9a3103"/><stop offset="84.38%" stop-color="#8f2d04"/><stop offset="87.5%" stop-color="#842904"/><stop offset="90.62%" stop-color="#7f2704"/><stop offset="93.75%" stop-color="#7f2704"/><stop offset="96.88%" stop-color="#7f2704"/><stop offset="100%" stop-color="#7f2704"/></linearGradient>
<linearGradient id="cb1" x1="0" y1="1" x2="0" y2="0"><stop offset="0%" stop-color="#fff5eb"/><stop offset="3.12%" stop-color="#fff0e1"/><stop offset="6.25%" stop-color="#feebd8"/><stop offset="9.38%" stop-color="#fee6ce"/><stop offset="12.5%" stop-color="#fedfc0"/><stop offset="15.62%" stop-color="#fdd7b1"/><stop offset="18.75%" stop-color="#fdd0a2"/><stop offset="21.88%" stop-color="#fdc590"/><stop offset="25%" stop-color="#fdba7e"/><stop offset="28.12%" stop-color="#fdae6c"/><stop offset="31.25%" stop-color="#fda35c"/><stop offset="34.38%" stop-color="#fd984c"/><stop offset="37.5%" stop-color="#fd8d3d"/><stop offset="40.62%" stop-color="#f9822f"/><stop offset="43.75%" stop-color="#f57621"/><stop offset="46.88%" stop-color="#f16a14"/><stop offset="50%" stop-color="#e95f0d"/><stop offset="53.12%" stop-color="#e15407"/><stop offset="56.25%" stop-color="#d94901"/><stop offset="59.38%" stop-color="#c94202"/><stop offset="62.5%" stop-color="#b83c02"/><stop offset="65.62%" stop-color="#a73603"/><stop offset="68.75%" stop-color="#9a3103"/><stop offset="71.88%" stop-color="#8d2c04"/><stop offset="75%" stop-color="#802704"/><stop offset="78.12%" stop-color="#7f2704"/><stop offset="81.25%" stop-color="#7f2704"/><stop offset="84.38%" stop-color="#7f2704"/><stop offset="87.5%" stop-color="#7f2704"/><stop offset="90.62%" stop-color="#7f2704"/><stop offset="93.75%" stop-color="#7f2704"/><stop offset="96.88%" stop-color="#7f2704"/><stop offset="100%" stop-color="#7f2704"/></linearGradient>
<linearGradient id="cb2" x1="0" y1="1" x2="0" y2="0"><stop offset="0%" stop-color="#fff5eb"/><stop offset="3.12%" stop-color="#fff2e6"/><stop offset="6.25%" stop-color="#fff0e1"/><stop offset="9.38%" stop-color="#feeddc"/><stop offset="12.5%" stop-color="#feebd7"/><stop offset="15.62%" stop-color="#fee8d2"/><stop offset="18.75%" stop-color="#fee6cd"/><stop offset="21.88%" stop-color="#fee2c6"/><stop offset="25%" stop-color="#fedebe"/><stop offset="28.12%" stop-color="#fddab7"/><stop offset="31.25%" stop-color="#fdd7af"/><stop offset="34.38%" stop-color="#fdd3a8"/><stop offset="37.5%" stop-color="#fdcfa0"/><stop offset="40.62%" stop-color="#fdc997"/><stop offset="43.75%" stop-color="#fdc38d"/><stop offset="46.88%" stop-color="#fdbd84"/><stop offset="50%" stop-color="#fdb87b"/><stop offset="53.12%" stop-color="#fdb271"/><stop offset="56.25%" stop-color="#fdac68"/><stop offset="59.38%" stop-color="#fda760"/><stop offset="62.5%" stop-color="#fda158"/><stop offset="65.62%" stop-color="#fd9b50"/><stop offset="68.75%" stop-color="#fd9648"/><stop offset="71.88%" stop-color="#fd9040"/><stop offset="75%" stop-color="#fc8a39"/><stop offset="78.12%" stop-color="#fa8432"/><stop offset="81.25%" stop-color="#f87e2b"/><stop offset="84.38%" stop-color="#f67824"/><stop offset="87.5%" stop-color="#f4721d"/><stop offset="90.62%" stop-color="#f26c16"/><stop offset="93.75%" stop-color="#ef6611"/><stop offset="96.88%" stop-color="#eb600e"/><stop offset="100%" stop-color="#e75b0b"/></linearGradient>
<linearGradient id="cb3" x1="0" y1="1" x2="0" y2="0"><stop offset="0%" stop-color="#fff5eb"/><stop offset="3.12%" stop-color="#fff1e4"/><stop offset="6.25%" stop-color="#ffeedd"/><stop offset="9.38%" stop-color="#feead6"/><stop offset="12.5%" stop-color="#fee6cf"/><stop offset="15.62%" stop-color="#fee1c5"/><stop offset="18.75%" stop-color="#fedcba"/><stop offset="21.88%" stop-color="#fdd7b0"/><stop offset="25%" stop-color="#fdd1a5"/><stop offset="28.12%" stop-color="#fdca98"/><stop offset="31.25%" stop-color="#fdc28b"/><stop offset="34.38%" stop-color="#fdba7e"/><stop offset="37.5%" stop-color="#fdb170"/><stop offset="40.62%" stop-color="#fda964"/><stop offset="43.75%" stop-color="#fda159"/><stop offset="46.88%" stop-color="#fd994d"/><stop offset="50%" stop-color="#fd9142"/><stop offset="53.12%" stop-color="#fc8937"/><stop offset="56.25%" stop-color="#f9802d"/><stop offset="59.38%" stop-color="#f67824"/><stop offset="62.5%" stop-color="#f36f1a"/><stop offset="65.62%" stop-color="#ef6612"/><stop offset="68.75%" stop-color="#e95e0d"/><stop offset="71.88%" stop-color="#e35609"/><stop offset="75%" stop-color="#de4e05"/><stop offset="78.12%" stop-color="#d74701"/><stop offset="81.25%" stop-color="#ca4302"/><stop offset="84.38%" stop-color="#be3e02"/><stop offset="87.5%" stop-color="#b23a03"/><stop offset="90.62%" stop-color="#a53603"/><stop offset="93.75%" stop-color="#9c3203"/><stop offset="96.88%" stop-color="#932f03"/><stop offset="100%" stop-color="#892b04"/></linearGradient>
<filter id="cmap" filterUnits="userSpaceOnUse" x="128" y="1.5" width="600.8" height="495.9" color-interpolation-filters="sRGB"><feComponentTransfer><feFuncR type="table" tableValues="1.0000 0.9961 0.9922 0.9922 0.9922 0.9451 0.8510 0.6510 0.4980"/><feFuncG type="table" tableValues="0.9608 0.9020 0.8157 0.6824 0.5529 0.4118 0.2824 0.2118 0.1529"/><feFuncB type="table" tableValues="0.9216 0.8078 0.6353 0.4196 0.2353 0.0745 0.0039 0.0118 0.0157"/></feComponentTransfer></filter>
<clipPath id="clipAx"><rect x="136" y="9.6" width="584.6" height="479.8"/></clipPath>
<clipPath id="clipLoc"><rect x="724.8" y="5.5" width="96.2" height="487.9"/></clipPath>
<filter id="b18p2_31p2" filterUnits="userSpaceOnUse" x="40" y="-120" width="820" height="740" color-interpolation-filters="sRGB"><feGaussianBlur stdDeviation="18.2 31.2"/></filter>
<filter id="b14_15p6" filterUnits="userSpaceOnUse" x="40" y="-120" width="820" height="740" color-interpolation-filters="sRGB"><feGaussianBlur stdDeviation="14 15.6"/></filter>
<filter id="b26_46p2" filterUnits="userSpaceOnUse" x="40" y="-120" width="820" height="740" color-interpolation-filters="sRGB"><feGaussianBlur stdDeviation="26 46.2"/></filter>
<filter id="b20_23p1" filterUnits="userSpaceOnUse" x="40" y="-120" width="820" height="740" color-interpolation-filters="sRGB"><feGaussianBlur stdDeviation="20 23.1"/></filter>
<filter id="b10p4_17p2" filterUnits="userSpaceOnUse" x="40" y="-120" width="820" height="740" color-interpolation-filters="sRGB"><feGaussianBlur stdDeviation="10.4 17.2"/></filter>
<filter id="b8_8p6" filterUnits="userSpaceOnUse" x="40" y="-120" width="820" height="740" color-interpolation-filters="sRGB"><feGaussianBlur stdDeviation="8 8.6"/></filter>
<filter id="b9p1_17p4" filterUnits="userSpaceOnUse" x="40" y="-120" width="820" height="740" color-interpolation-filters="sRGB"><feGaussianBlur stdDeviation="9.1 17.4"/></filter>
<filter id="b7_8p7" filterUnits="userSpaceOnUse" x="40" y="-120" width="820" height="740" color-interpolation-filters="sRGB"><feGaussianBlur stdDeviation="7 8.7"/></filter>
<filter id="b11p7_22p3" filterUnits="userSpaceOnUse" x="40" y="-120" width="820" height="740" color-interpolation-filters="sRGB"><feGaussianBlur stdDeviation="11.7 22.3"/></filter>
<filter id="b9_11p2" filterUnits="userSpaceOnUse" x="40" y="-120" width="820" height="740" color-interpolation-filters="sRGB"><feGaussianBlur stdDeviation="9 11.2"/></filter>
<filter id="b6p5_4p8" filterUnits="userSpaceOnUse" x="40" y="-120" width="820" height="740" color-interpolation-filters="sRGB"><feGaussianBlur stdDeviation="6.5 4.8"/></filter>
<filter id="b5_2p4" filterUnits="userSpaceOnUse" x="40" y="-120" width="820" height="740" color-interpolation-filters="sRGB"><feGaussianBlur stdDeviation="5 2.4"/></filter>
<filter id="b7p8_6p4" filterUnits="userSpaceOnUse" x="40" y="-120" width="820" height="740" color-interpolation-filters="sRGB"><feGaussianBlur stdDeviation="7.8 6.4"/></filter>
<filter id="b6_3p2" filterUnits="userSpaceOnUse" x="40" y="-120" width="820" height="740" color-interpolation-filters="sRGB"><feGaussianBlur stdDeviation="6 3.2"/></filter>
<filter id="b11p7_21p5" filterUnits="userSpaceOnUse" x="40" y="-120" width="820" height="740" color-interpolation-filters="sRGB"><feGaussianBlur stdDeviation="11.7 21.5"/></filter>
<filter id="b9_10p7" filterUnits="userSpaceOnUse" x="40" y="-120" width="820" height="740" color-interpolation-filters="sRGB"><feGaussianBlur stdDeviation="9 10.7"/></filter>
<filter id="b20p8_37p2" filterUnits="userSpaceOnUse" x="40" y="-120" width="820" height="740" color-interpolation-filters="sRGB"><feGaussianBlur stdDeviation="20.8 37.2"/></filter>
<filter id="b16_18p6" filterUnits="userSpaceOnUse" x="40" y="-120" width="820" height="740" color-interpolation-filters="sRGB"><feGaussianBlur stdDeviation="16 18.6"/></filter>
<filter id="b9p1_14p2" filterUnits="userSpaceOnUse" x="40" y="-120" width="820" height="740" color-interpolation-filters="sRGB"><feGaussianBlur stdDeviation="9.1 14.2"/></filter>
<filter id="b7_7p1" filterUnits="userSpaceOnUse" x="40" y="-120" width="820" height="740" color-interpolation-filters="sRGB"><feGaussianBlur stdDeviation="7 7.1"/></filter>
<filter id="b6_6" filterUnits="userSpaceOnUse" x="40" y="-120" width="820" height="740" color-interpolation-filters="sRGB"><feGaussianBlur stdDeviation="6 6"/></filter>
<filter id="b3p5_3p2" filterUnits="userSpaceOnUse" x="40" y="-120" width="820" height="740" color-interpolation-filters="sRGB"><feGaussianBlur stdDeviation="3.5 3.2"/></filter>
<filter id="b10p4_16p5" filterUnits="userSpaceOnUse" x="40" y="-120" width="820" height="740" color-interpolation-filters="sRGB"><feGaussianBlur stdDeviation="10.4 16.5"/></filter>
<filter id="b8_8p2" filterUnits="userSpaceOnUse" x="40" y="-120" width="820" height="740" color-interpolation-filters="sRGB"><feGaussianBlur stdDeviation="8 8.2"/></filter>
<filter id="b9p1_16p3" filterUnits="userSpaceOnUse" x="40" y="-120" width="820" height="740" color-interpolation-filters="sRGB"><feGaussianBlur stdDeviation="9.1 16.3"/></filter>
<filter id="b7_8p1" filterUnits="userSpaceOnUse" x="40" y="-120" width="820" height="740" color-interpolation-filters="sRGB"><feGaussianBlur stdDeviation="7 8.1"/></filter>
<filter id="b11p7_19p9" filterUnits="userSpaceOnUse" x="40" y="-120" width="820" height="740" color-interpolation-filters="sRGB"><feGaussianBlur stdDeviation="11.7 19.9"/></filter>
<filter id="b9_10" filterUnits="userSpaceOnUse" x="40" y="-120" width="820" height="740" color-interpolation-filters="sRGB"><feGaussianBlur stdDeviation="9 10"/></filter>
<filter id="b11p7_20p2" filterUnits="userSpaceOnUse" x="40" y="-120" width="820" height="740" color-interpolation-filters="sRGB"><feGaussianBlur stdDeviation="11.7 20.2"/></filter>
<filter id="b9_10p1" filterUnits="userSpaceOnUse" x="40" y="-120" width="820" height="740" color-interpolation-filters="sRGB"><feGaussianBlur stdDeviation="9 10.1"/></filter>
<filter id="b13_21" filterUnits="userSpaceOnUse" x="40" y="-120" width="820" height="740" color-interpolation-filters="sRGB"><feGaussianBlur stdDeviation="13 21"/></filter>
<filter id="b10_10p5" filterUnits="userSpaceOnUse" x="40" y="-120" width="820" height="740" color-interpolation-filters="sRGB"><feGaussianBlur stdDeviation="10 10.5"/></filter>
<filter id="b11p7_19p5" filterUnits="userSpaceOnUse" x="40" y="-120" width="820" height="740" color-interpolation-filters="sRGB"><feGaussianBlur stdDeviation="11.7 19.5"/></filter>
<filter id="b9_9p8" filterUnits="userSpaceOnUse" x="40" y="-120" width="820" height="740" color-interpolation-filters="sRGB"><feGaussianBlur stdDeviation="9 9.8"/></filter>
<filter id="b16p9_31" filterUnits="userSpaceOnUse" x="40" y="-120" width="820" height="740" color-interpolation-filters="sRGB"><feGaussianBlur stdDeviation="16.9 31"/></filter>
<filter id="b13_15p5" filterUnits="userSpaceOnUse" x="40" y="-120" width="820" height="740" color-interpolation-filters="sRGB"><feGaussianBlur stdDeviation="13 15.5"/></filter>
<filter id="b10p4_8p7" filterUnits="userSpaceOnUse" x="40" y="-120" width="820" height="740" color-interpolation-filters="sRGB"><feGaussianBlur stdDeviation="10.4 8.7"/></filter>
<filter id="b8_4p4" filterUnits="userSpaceOnUse" x="40" y="-120" width="820" height="740" color-interpolation-filters="sRGB"><feGaussianBlur stdDeviation="8 4.4"/></filter>
<filter id="b11p7_13p9" filterUnits="userSpaceOnUse" x="40" y="-120" width="820" height="740" color-interpolation-filters="sRGB"><feGaussianBlur stdDeviation="11.7 13.9"/></filter>
<filter id="b9_6p9" filterUnits="userSpaceOnUse" x="40" y="-120" width="820" height="740" color-interpolation-filters="sRGB"><feGaussianBlur stdDeviation="9 6.9"/></filter>
<filter id="b9p1_8p2" filterUnits="userSpaceOnUse" x="40" y="-120" width="820" height="740" color-interpolation-filters="sRGB"><feGaussianBlur stdDeviation="9.1 8.2"/></filter>
<filter id="b7_4p1" filterUnits="userSpaceOnUse" x="40" y="-120" width="820" height="740" color-interpolation-filters="sRGB"><feGaussianBlur stdDeviation="7 4.1"/></filter>
<filter id="b11p7_16p5" filterUnits="userSpaceOnUse" x="40" y="-120" width="820" height="740" color-interpolation-filters="sRGB"><feGaussianBlur stdDeviation="11.7 16.5"/></filter>
<filter id="b9_8p2" filterUnits="userSpaceOnUse" x="40" y="-120" width="820" height="740" color-interpolation-filters="sRGB"><feGaussianBlur stdDeviation="9 8.2"/></filter>
<filter id="b14p3_21p3" filterUnits="userSpaceOnUse" x="40" y="-120" width="820" height="740" color-interpolation-filters="sRGB"><feGaussianBlur stdDeviation="14.3 21.3"/></filter>
<filter id="b11_10p6" filterUnits="userSpaceOnUse" x="40" y="-120" width="820" height="740" color-interpolation-filters="sRGB"><feGaussianBlur stdDeviation="11 10.6"/></filter>
<filter id="b10p4_21p4" filterUnits="userSpaceOnUse" x="40" y="-120" width="820" height="740" color-interpolation-filters="sRGB"><feGaussianBlur stdDeviation="10.4 21.4"/></filter>
<filter id="b8_10p7" filterUnits="userSpaceOnUse" x="40" y="-120" width="820" height="740" color-interpolation-filters="sRGB"><feGaussianBlur stdDeviation="8 10.7"/></filter>
<filter id="b16p9_30p5" filterUnits="userSpaceOnUse" x="40" y="-120" width="820" height="740" color-interpolation-filters="sRGB"><feGaussianBlur stdDeviation="16.9 30.5"/></filter>
<filter id="b13_15p2" filterUnits="userSpaceOnUse" x="40" y="-120" width="820" height="740" color-interpolation-filters="sRGB"><feGaussianBlur stdDeviation="13 15.2"/></filter>
<filter id="b9p1_12" filterUnits="userSpaceOnUse" x="40" y="-120" width="820" height="740" color-interpolation-filters="sRGB"><feGaussianBlur stdDeviation="9.1 12"/></filter>
<filter id="b7_6" filterUnits="userSpaceOnUse" x="40" y="-120" width="820" height="740" color-interpolation-filters="sRGB"><feGaussianBlur stdDeviation="7 6"/></filter>
<filter id="b18p2_28p8" filterUnits="userSpaceOnUse" x="40" y="-120" width="820" height="740" color-interpolation-filters="sRGB"><feGaussianBlur stdDeviation="18.2 28.8"/></filter>
<filter id="b14_14p4" filterUnits="userSpaceOnUse" x="40" y="-120" width="820" height="740" color-interpolation-filters="sRGB"><feGaussianBlur stdDeviation="14 14.4"/></filter>
<filter id="b10p4_21p9" filterUnits="userSpaceOnUse" x="40" y="-120" width="820" height="740" color-interpolation-filters="sRGB"><feGaussianBlur stdDeviation="10.4 21.9"/></filter>
<filter id="b8_10p9" filterUnits="userSpaceOnUse" x="40" y="-120" width="820" height="740" color-interpolation-filters="sRGB"><feGaussianBlur stdDeviation="8 10.9"/></filter></defs>
<rect width="950" height="2468" fill="#fff"/>
<g transform="translate(0,0)">
<g clip-path="url(#clipAx)"><g filter="url(#cmap)">
<rect x="92" y="-34.5" width="672.8" height="567.9" fill="rgb(8,8,8)"/>
<path d="M250.0,135.4 254.0,134.8 258.0,134.1 262.0,133.4 266.0,132.7 270.0,131.9 274.0,131.1 278.0,130.3 282.0,129.4 286.0,128.6 290.0,127.8 294.0,126.9 298.0,126.1 302.0,125.7 306.0,125.5 310.0,125.3 314.0,125.1 318.0,125.0 322.0,124.8 326.0,124.6 330.0,124.4 334.0,124.2 338.0,124.0 342.0,123.8 346.0,123.6 350.0,123.4 354.0,123.2 358.0,123.0 362.0,122.8 366.0,122.6 370.0,122.4 374.0,122.1 378.0,121.9 382.0,121.7 386.0,121.5 390.0,121.3 394.0,121.2 398.0,121.0 402.0,120.8 406.0,120.6 410.0,120.4 414.0,120.2 418.0,120.1 422.0,119.9 426.0,119.8 430.0,119.6 434.0,119.5 438.0,119.3 442.0,119.2 446.0,119.1 450.0,119.0 454.0,118.9 458.0,118.8 462.0,118.7 466.0,118.6 470.0,118.6 474.0,118.5 478.0,118.5 482.0,118.6 486.0,118.8 490.0,119.1 494.0,119.4 498.0,119.7 502.0,120.1 506.0,120.6 510.0,121.0 514.0,121.5 518.0,122.0 522.0,122.5 526.0,123.1 530.0,123.6 534.0,124.2 538.0,124.8 542.0,125.4 546.0,126.0 550.0,126.6 554.0,127.3 558.0,127.9 562.0,128.8 566.0,130.1 570.0,131.5 574.0,132.9 578.0,134.4 582.0,136.0 586.0,137.5 590.0,139.0 594.0,140.4 598.0,141.8 602.0,143.1 606.0,144.2 610.0,145.1 610.0,188.3 606.0,188.2 602.0,187.8 598.0,187.3 594.0,186.7 590.0,186.0 586.0,185.3 582.0,184.5 578.0,183.8 574.0,183.0 570.0,182.3 566.0,181.7 562.0,181.2 558.0,180.8 554.0,180.4 550.0,180.0 546.0,179.7 542.0,179.3 538.0,178.9 534.0,178.6 530.0,178.2 526.0,177.9 522.0,177.6 518.0,177.3 514.0,177.0 510.0,176.8 506.0,176.6 502.0,176.4 498.0,176.3 494.0,176.1 490.0,176.1 486.0,176.0 482.0,176.0 478.0,176.0 474.0,176.0 470.0,175.9 466.0,175.9 462.0,175.8 458.0,175.8 454.0,175.8 450.0,175.8 446.0,175.8 442.0,175.8 438.0,175.8 434.0,175.8 430.0,175.9 426.0,175.9 422.0,176.0 418.0,176.0 414.0,176.1 410.0,176.1 406.0,176.2 402.0,176.3 398.0,176.4 394.0,176.5 390.0,176.5 386.0,176.6 382.0,176.7 378.0,176.8 374.0,176.9 370.0,177.0 366.0,177.1 362.0,177.2 358.0,177.3 354.0,177.4 350.0,177.5 346.0,177.6 342.0,177.7 338.0,177.8 334.0,177.9 330.0,178.0 326.0,178.1 322.0,178.2 318.0,178.2 314.0,178.3 310.0,178.4 306.0,178.5 302.0,178.5 298.0,178.5 294.0,178.6 290.0,178.6 286.0,178.7 282.0,178.8 278.0,178.8 274.0,178.9 270.0,178.9 266.0,178.9 262.0,178.9 258.0,178.9 254.0,178.8 250.0,178.6Z" fill="url(#g1)" filter="url(#b18p2_31p2)"/><path d="M250.0,142.6 254.0,142.1 258.0,141.6 262.0,141.0 266.0,140.4 270.0,139.7 274.0,139.1 278.0,138.4 282.0,137.6 286.0,136.9 290.0,136.2 294.0,135.5 298.0,134.9 302.0,134.5 306.0,134.3 310.0,134.2 314.0,134.0 318.0,133.8 322.0,133.7 326.0,133.5 330.0,133.3 334.0,133.1 338.0,133.0 342.0,132.8 346.0,132.6 350.0,132.4 354.0,132.2 358.0,132.0 362.0,131.8 366.0,131.7 370.0,131.5 374.0,131.3 378.0,131.1 382.0,130.9 386.0,130.7 390.0,130.5 394.0,130.4 398.0,130.2 402.0,130.0 406.0,129.9 410.0,129.7 414.0,129.5 418.0,129.4 422.0,129.3 426.0,129.1 430.0,129.0 434.0,128.9 438.0,128.7 442.0,128.6 446.0,128.5 450.0,128.4 454.0,128.4 458.0,128.3 462.0,128.2 466.0,128.2 470.0,128.1 474.0,128.1 478.0,128.1 482.0,128.1 486.0,128.3 490.0,128.6 494.0,128.8 498.0,129.2 502.0,129.5 506.0,129.9 510.0,130.3 514.0,130.7 518.0,131.2 522.0,131.7 526.0,132.2 530.0,132.7 534.0,133.3 538.0,133.8 542.0,134.4 546.0,135.0 550.0,135.5 554.0,136.1 558.0,136.7 562.0,137.5 566.0,138.7 570.0,139.9 574.0,141.3 578.0,142.7 582.0,144.1 586.0,145.5 590.0,146.8 594.0,148.2 598.0,149.4 602.0,150.5 606.0,151.5 610.0,152.3 610.0,181.1 606.0,180.8 602.0,180.3 598.0,179.7 594.0,179.0 590.0,178.2 586.0,177.3 582.0,176.4 578.0,175.5 574.0,174.7 570.0,173.9 566.0,173.1 562.0,172.5 558.0,172.0 554.0,171.6 550.0,171.1 546.0,170.7 542.0,170.3 538.0,169.9 534.0,169.5 530.0,169.1 526.0,168.8 522.0,168.4 518.0,168.1 514.0,167.8 510.0,167.5 506.0,167.3 502.0,167.0 498.0,166.8 494.0,166.7 490.0,166.6 486.0,166.5 482.0,166.5 478.0,166.4 474.0,166.4 470.0,166.4 466.0,166.3 462.0,166.3 458.0,166.3 454.0,166.3 450.0,166.3 446.0,166.3 442.0,166.4 438.0,166.4 434.0,166.4 430.0,166.5 426.0,166.6 422.0,166.6 418.0,166.7 414.0,166.8 410.0,166.9 406.0,166.9 402.0,167.0 398.0,167.1 394.0,167.2 390.0,167.3 386.0,167.5 382.0,167.6 378.0,167.7 374.0,167.8 370.0,167.9 366.0,168.0 362.0,168.1 358.0,168.3 354.0,168.4 350.0,168.5 346.0,168.6 342.0,168.7 338.0,168.8 334.0,168.9 330.0,169.1 326.0,169.2 322.0,169.3 318.0,169.4 314.0,169.5 310.0,169.5 306.0,169.6 302.0,169.7 298.0,169.8 294.0,170.0 290.0,170.2 286.0,170.3 282.0,170.5 278.0,170.7 274.0,170.9 270.0,171.1 266.0,171.2 262.0,171.3 258.0,171.4 254.0,171.4 250.0,171.4Z" fill="url(#g2)" filter="url(#b14_15p6)"/>
<path d="M215.0,357.1 219.0,357.8 223.0,358.7 226.9,360.0 230.9,361.4 234.9,363.0 238.9,364.6 242.9,366.4 246.9,368.2 250.8,369.9 254.8,371.6 258.8,373.2 262.8,374.6 266.8,375.8 270.7,376.7 274.7,377.0 278.7,377.4 282.7,377.7 286.7,378.1 290.6,378.4 294.6,378.7 298.6,379.1 302.6,379.4 306.6,379.7 310.6,380.0 314.5,380.3 318.5,380.5 322.5,380.8 326.5,381.1 330.5,381.3 334.4,381.6 338.4,381.8 342.4,382.0 346.4,382.2 350.4,382.4 354.4,382.6 358.3,382.8 362.3,383.0 366.3,383.1 370.3,383.3 374.3,383.4 378.2,383.5 382.2,383.6 386.2,383.7 390.2,383.8 394.2,383.9 398.1,384.0 402.1,384.0 406.1,384.0 410.1,384.1 414.1,384.1 418.1,384.1 422.0,384.0 426.0,384.0 430.0,383.9 434.0,384.0 438.0,384.0 441.9,384.1 445.9,384.1 449.9,384.1 453.9,384.0 457.9,384.0 461.9,384.0 465.8,383.9 469.8,383.8 473.8,383.7 477.8,383.6 481.8,383.5 485.7,383.4 489.7,383.3 493.7,383.1 497.7,383.0 501.7,382.8 505.6,382.6 509.6,382.4 513.6,382.2 517.6,382.0 521.6,381.8 525.6,381.6 529.5,381.3 533.5,381.1 537.5,380.8 541.5,380.5 545.5,380.3 549.4,380.0 553.4,379.7 557.4,379.4 561.4,379.1 565.4,378.7 569.4,378.4 573.3,378.1 577.3,377.7 581.3,377.4 585.3,377.0 589.3,376.7 593.2,375.8 597.2,374.6 601.2,373.2 605.2,371.6 609.2,369.9 613.1,368.2 617.1,366.4 621.1,364.6 625.1,363.0 629.1,361.4 633.1,360.0 637.0,358.7 641.0,357.8 645.0,357.1 645.0,424.3 641.0,425.7 637.0,427.3 633.1,429.3 629.1,431.4 625.1,433.6 621.1,436.0 617.1,438.5 613.1,440.9 609.2,443.4 605.2,445.8 601.2,448.0 597.2,450.1 593.2,452.0 589.3,453.5 585.3,454.0 581.3,454.5 577.3,454.9 573.3,455.4 569.4,455.8 565.4,456.3 561.4,456.7 557.4,457.1 553.4,457.6 549.4,458.0 545.5,458.4 541.5,458.8 537.5,459.2 533.5,459.6 529.5,459.9 525.6,460.3 521.6,460.6 517.6,461.0 513.6,461.3 509.6,461.6 505.6,462.0 501.7,462.3 497.7,462.5 493.7,462.8 489.7,463.1 485.7,463.3 481.8,463.6 477.8,463.8 473.8,464.0 469.8,464.2 465.8,464.4 461.9,464.6 457.9,464.8 453.9,464.9 449.9,465.1 445.9,465.2 441.9,465.3 438.0,465.4 434.0,465.5 430.0,465.5 426.0,465.5 422.0,465.4 418.1,465.3 414.1,465.2 410.1,465.1 406.1,464.9 402.1,464.8 398.1,464.6 394.2,464.4 390.2,464.2 386.2,464.0 382.2,463.8 378.2,463.6 374.3,463.3 370.3,463.1 366.3,462.8 362.3,462.5 358.3,462.3 354.4,462.0 350.4,461.6 346.4,461.3 342.4,461.0 338.4,460.6 334.4,460.3 330.5,459.9 326.5,459.6 322.5,459.2 318.5,458.8 314.5,458.4 310.6,458.0 306.6,457.6 302.6,457.1 298.6,456.7 294.6,456.3 290.6,455.8 286.7,455.4 282.7,454.9 278.7,454.5 274.7,454.0 270.7,453.5 266.8,452.0 262.8,450.1 258.8,448.0 254.8,445.8 250.8,443.4 246.9,440.9 242.9,438.5 238.9,436.0 234.9,433.6 230.9,431.4 226.9,429.3 223.0,427.3 219.0,425.7 215.0,424.3Z" fill="url(#g3)" filter="url(#b26_46p2)"/><path d="M215.0,368.3 219.0,369.1 223.0,370.2 226.9,371.5 230.9,373.0 234.9,374.7 238.9,376.5 242.9,378.4 246.9,380.3 250.8,382.2 254.8,384.0 258.8,385.6 262.8,387.2 266.8,388.5 270.7,389.5 274.7,389.9 278.7,390.2 282.7,390.6 286.7,391.0 290.6,391.3 294.6,391.7 298.6,392.0 302.6,392.3 306.6,392.7 310.6,393.0 314.5,393.3 318.5,393.6 322.5,393.9 326.5,394.1 330.5,394.4 334.4,394.7 338.4,394.9 342.4,395.2 346.4,395.4 350.4,395.6 354.4,395.8 358.3,396.0 362.3,396.2 366.3,396.4 370.3,396.6 374.3,396.7 378.2,396.9 382.2,397.0 386.2,397.1 390.2,397.2 394.2,397.3 398.1,397.4 402.1,397.5 406.1,397.5 410.1,397.6 414.1,397.6 418.1,397.6 422.0,397.6 426.0,397.6 430.0,397.5 434.0,397.6 438.0,397.6 441.9,397.6 445.9,397.6 449.9,397.6 453.9,397.5 457.9,397.5 461.9,397.4 465.8,397.3 469.8,397.2 473.8,397.1 477.8,397.0 481.8,396.9 485.7,396.7 489.7,396.6 493.7,396.4 497.7,396.2 501.7,396.0 505.6,395.8 509.6,395.6 513.6,395.4 517.6,395.2 521.6,394.9 525.6,394.7 529.5,394.4 533.5,394.1 537.5,393.9 541.5,393.6 545.5,393.3 549.4,393.0 553.4,392.7 557.4,392.3 561.4,392.0 565.4,391.7 569.4,391.3 573.3,391.0 577.3,390.6 581.3,390.2 585.3,389.9 589.3,389.5 593.2,388.5 597.2,387.2 601.2,385.6 605.2,384.0 609.2,382.2 613.1,380.3 617.1,378.4 621.1,376.5 625.1,374.7 629.1,373.0 633.1,371.5 637.0,370.2 641.0,369.1 645.0,368.3 645.0,413.1 641.0,414.3 637.0,415.9 633.1,417.7 629.1,419.7 625.1,421.9 621.1,424.1 617.1,426.5 613.1,428.8 609.2,431.1 605.2,433.4 601.2,435.5 597.2,437.5 593.2,439.3 589.3,440.7 585.3,441.2 581.3,441.6 577.3,442.1 573.3,442.5 569.4,442.9 565.4,443.4 561.4,443.8 557.4,444.2 553.4,444.6 549.4,445.0 545.5,445.4 541.5,445.7 537.5,446.1 533.5,446.5 529.5,446.8 525.6,447.2 521.6,447.5 517.6,447.8 513.6,448.1 509.6,448.4 505.6,448.7 501.7,449.0 497.7,449.3 493.7,449.5 489.7,449.8 485.7,450.0 481.8,450.2 477.8,450.4 473.8,450.6 469.8,450.8 465.8,451.0 461.9,451.2 457.9,451.3 453.9,451.4 449.9,451.6 445.9,451.7 441.9,451.8 438.0,451.8 434.0,451.9 430.0,451.9 426.0,451.9 422.0,451.8 418.1,451.8 414.1,451.7 410.1,451.6 406.1,451.4 402.1,451.3 398.1,451.2 394.2,451.0 390.2,450.8 386.2,450.6 382.2,450.4 378.2,450.2 374.3,450.0 370.3,449.8 366.3,449.5 362.3,449.3 358.3,449.0 354.4,448.7 350.4,448.4 346.4,448.1 342.4,447.8 338.4,447.5 334.4,447.2 330.5,446.8 326.5,446.5 322.5,446.1 318.5,445.7 314.5,445.4 310.6,445.0 306.6,444.6 302.6,444.2 298.6,443.8 294.6,443.4 290.6,442.9 286.7,442.5 282.7,442.1 278.7,441.6 274.7,441.2 270.7,440.7 266.8,439.3 262.8,437.5 258.8,435.5 254.8,433.4 250.8,431.1 246.9,428.8 242.9,426.5 238.9,424.1 234.9,421.9 230.9,419.7 226.9,417.7 223.0,415.9 219.0,414.3 215.0,413.1Z" fill="url(#g4)" filter="url(#b20_23p1)"/>
<path d="M100.0,168.0 104.0,168.0 108.0,168.1 112.0,168.1 116.0,168.2 120.0,168.2 124.0,168.2 128.0,168.1 132.0,168.0 136.0,167.8 140.0,167.6 144.0,167.3 148.0,167.0 152.0,166.7 156.0,166.4 160.0,166.0 164.0,165.6 168.0,165.3 172.0,164.9 176.0,164.5 180.0,164.0 184.0,163.6 188.0,163.1 192.0,162.7 196.0,162.2 200.0,161.6 204.0,160.9 208.0,159.9 212.0,158.9 216.0,157.7 220.0,156.6 224.0,155.4 228.0,154.1 232.0,152.3 236.0,150.5 240.0,148.5 244.0,146.3 248.0,143.9 252.0,141.4 256.0,138.8 260.0,136.1 264.0,133.3 268.0,130.6 272.0,128.0 276.0,125.3 280.0,122.5 284.0,119.9 288.0,117.6 292.0,115.9 292.0,154.3 288.0,155.6 284.0,157.4 280.0,159.6 276.0,162.0 272.0,164.2 268.0,166.0 264.0,167.5 260.0,169.1 256.0,170.6 252.0,172.0 248.0,173.3 244.0,174.7 240.0,176.1 236.0,177.3 232.0,178.3 228.0,179.3 224.0,180.2 220.0,181.0 216.0,181.8 212.0,182.5 208.0,183.2 204.0,183.8 200.0,184.4 196.0,185.0 192.0,185.5 188.0,185.9 184.0,186.4 180.0,186.8 176.0,187.3 172.0,187.7 168.0,188.1 164.0,188.4 160.0,188.8 156.0,189.2 152.0,189.5 148.0,189.8 144.0,190.1 140.0,190.4 136.0,190.6 132.0,190.8 128.0,190.9 124.0,191.0 120.0,191.0 116.0,191.0 112.0,190.9 108.0,190.9 104.0,190.8 100.0,190.8Z" fill="url(#g5)" filter="url(#b10p4_17p2)"/><path d="M100.0,171.8 104.0,171.8 108.0,171.9 112.0,171.9 116.0,172.0 120.0,172.0 124.0,172.0 128.0,171.9 132.0,171.8 136.0,171.6 140.0,171.4 144.0,171.1 148.0,170.8 152.0,170.5 156.0,170.2 160.0,169.8 164.0,169.4 168.0,169.1 172.0,168.7 176.0,168.3 180.0,167.8 184.0,167.4 188.0,166.9 192.0,166.5 196.0,166.0 200.0,165.4 204.0,164.8 208.0,163.8 212.0,162.8 216.0,161.7 220.0,160.6 224.0,159.5 228.0,158.3 232.0,156.6 236.0,154.9 240.0,153.1 244.0,151.0 248.0,148.8 252.0,146.5 256.0,144.1 260.0,141.6 264.0,139.0 268.0,136.5 272.0,134.0 276.0,131.4 280.0,128.7 284.0,126.1 288.0,123.9 292.0,122.3 292.0,147.9 288.0,149.2 284.0,151.1 280.0,153.4 276.0,155.8 272.0,158.2 268.0,160.1 264.0,161.8 260.0,163.6 256.0,165.3 252.0,166.9 248.0,168.4 244.0,169.9 240.0,171.5 236.0,172.8 232.0,174.0 228.0,175.1 224.0,176.1 220.0,176.9 216.0,177.8 212.0,178.6 208.0,179.3 204.0,180.0 200.0,180.6 196.0,181.2 192.0,181.7 188.0,182.1 184.0,182.6 180.0,183.0 176.0,183.5 172.0,183.9 168.0,184.3 164.0,184.6 160.0,185.0 156.0,185.4 152.0,185.7 148.0,186.0 144.0,186.3 140.0,186.6 136.0,186.8 132.0,187.0 128.0,187.1 124.0,187.2 120.0,187.2 116.0,187.2 112.0,187.1 108.0,187.1 104.0,187.0 100.0,187.0Z" fill="url(#g6)" filter="url(#b8_8p6)"/>
<path d="M573.0,125.6 577.0,127.0 581.0,128.8 584.9,130.8 588.9,133.1 592.9,135.4 596.9,137.5 600.9,139.4 604.8,141.3 608.8,143.2 612.8,145.0 616.8,146.8 620.7,148.5 624.7,150.2 628.7,151.8 632.7,153.1 636.7,154.3 640.6,155.4 644.6,156.5 648.6,157.6 652.6,158.7 656.6,159.7 660.5,160.7 664.5,161.6 668.5,162.5 672.5,163.2 676.4,163.9 680.4,164.4 684.4,164.9 688.4,165.4 692.4,165.8 696.3,166.2 700.3,166.6 704.3,167.0 708.3,167.3 712.3,167.5 716.2,167.7 720.2,167.9 724.2,168.0 728.2,168.1 732.1,168.1 736.1,168.1 740.1,168.1 744.1,168.1 748.1,168.1 752.0,168.0 756.0,168.0 760.0,168.0 760.0,190.8 756.0,190.8 752.0,190.8 748.1,190.9 744.1,190.9 740.1,190.9 736.1,190.9 732.1,190.9 728.2,190.9 724.2,190.8 720.2,190.7 716.2,190.5 712.3,190.3 708.3,190.1 704.3,189.8 700.3,189.4 696.3,189.0 692.4,188.6 688.4,188.2 684.4,187.7 680.4,187.2 676.4,186.7 672.5,186.0 668.5,185.4 664.5,185.1 660.5,184.8 656.6,184.4 652.6,184.0 648.6,183.6 644.6,183.1 640.6,182.6 636.7,182.1 632.7,181.5 628.7,180.9 624.7,180.2 620.7,179.5 616.8,178.7 612.8,177.9 608.8,177.1 604.8,176.2 600.9,175.2 596.9,173.8 592.9,172.0 588.9,170.1 584.9,168.2 581.0,166.5 577.0,165.0 573.0,164.0Z" fill="url(#g7)" filter="url(#b9p1_17p4)"/><path d="M573.0,132.0 577.0,133.3 581.0,135.0 584.9,137.1 588.9,139.3 592.9,141.5 596.9,143.5 600.9,145.4 604.8,147.1 608.8,148.8 612.8,150.5 616.8,152.1 620.7,153.7 624.7,155.2 628.7,156.7 632.7,157.9 636.7,158.9 640.6,159.9 644.6,161.0 648.6,161.9 652.6,162.9 656.6,163.8 660.5,164.7 664.5,165.5 668.5,166.3 672.5,167.0 676.4,167.7 680.4,168.2 684.4,168.7 688.4,169.2 692.4,169.6 696.3,170.0 700.3,170.4 704.3,170.8 708.3,171.1 712.3,171.3 716.2,171.5 720.2,171.7 724.2,171.8 728.2,171.9 732.1,171.9 736.1,171.9 740.1,171.9 744.1,171.9 748.1,171.9 752.0,171.8 756.0,171.8 760.0,171.8 760.0,187.0 756.0,187.0 752.0,187.0 748.1,187.1 744.1,187.1 740.1,187.1 736.1,187.1 732.1,187.1 728.2,187.1 724.2,187.0 720.2,186.9 716.2,186.7 712.3,186.5 708.3,186.3 704.3,186.0 700.3,185.6 696.3,185.2 692.4,184.8 688.4,184.4 684.4,183.9 680.4,183.4 676.4,182.9 672.5,182.2 668.5,181.6 664.5,181.2 660.5,180.8 656.6,180.3 652.6,179.8 648.6,179.2 644.6,178.7 640.6,178.1 636.7,177.4 632.7,176.8 628.7,176.1 624.7,175.2 620.7,174.3 616.8,173.4 612.8,172.4 608.8,171.4 604.8,170.4 600.9,169.2 596.9,167.7 592.9,165.9 588.9,163.9 584.9,162.0 581.0,160.2 577.0,158.7 573.0,157.6Z" fill="url(#g8)" filter="url(#b7_8p7)"/>
<path d="M255.0,135.3 259.0,133.6 263.0,131.3 267.0,128.6 271.0,125.9 275.0,123.4 279.0,121.2 283.0,119.0 287.0,116.8 291.0,114.8 295.0,113.1 299.0,111.8 303.0,110.7 307.0,109.8 311.0,109.0 315.0,108.2 319.0,108.0 323.0,107.8 327.0,107.6 331.0,107.4 335.0,107.3 339.0,107.1 343.0,107.0 347.0,106.8 351.0,106.7 355.0,106.5 359.0,106.4 363.0,106.3 367.0,106.2 371.0,106.1 375.0,105.9 379.0,105.8 383.0,105.7 387.0,105.5 391.0,105.4 395.0,105.3 399.0,105.2 403.0,105.1 407.0,104.9 411.0,104.8 415.0,104.7 419.0,104.6 423.0,104.5 427.0,104.4 431.0,104.3 435.0,104.2 439.0,104.0 443.0,103.9 447.0,103.7 451.0,103.5 455.0,103.4 459.0,103.3 463.0,103.1 467.0,103.0 471.0,102.9 475.0,102.9 479.0,102.9 483.0,102.9 487.0,102.9 491.0,103.0 495.0,103.1 499.0,103.3 503.0,103.5 507.0,103.7 511.0,103.9 515.0,104.3 519.0,104.7 523.0,105.1 527.0,105.6 531.0,106.1 535.0,106.6 539.0,107.2 543.0,108.2 547.0,109.2 551.0,110.5 555.0,112.3 559.0,114.5 563.0,117.1 567.0,120.0 571.0,122.9 575.0,125.6 579.0,128.1 583.0,130.6 587.0,133.0 591.0,135.0 595.0,136.5 595.0,167.7 591.0,166.7 587.0,165.1 583.0,163.3 579.0,161.2 575.0,159.2 571.0,156.8 567.0,154.1 563.0,151.5 559.0,149.1 555.0,147.2 551.0,145.7 547.0,144.7 543.0,143.9 539.0,143.3 535.0,142.8 531.0,142.5 527.0,142.1 523.0,141.8 519.0,141.5 515.0,141.3 511.0,141.1 507.0,140.9 503.0,140.7 499.0,140.5 495.0,140.3 491.0,140.2 487.0,140.1 483.0,140.1 479.0,140.1 475.0,140.1 471.0,140.1 467.0,140.2 463.0,140.3 459.0,140.5 455.0,140.6 451.0,140.7 447.0,140.9 443.0,141.1 439.0,141.2 435.0,141.4 431.0,141.5 427.0,141.6 423.0,141.7 419.0,141.8 415.0,141.9 411.0,142.0 407.0,142.1 403.0,142.3 399.0,142.4 395.0,142.5 391.0,142.6 387.0,142.7 383.0,142.9 379.0,143.0 375.0,143.1 371.0,143.3 367.0,143.4 363.0,143.5 359.0,143.6 355.0,143.7 351.0,143.9 347.0,144.0 343.0,144.2 339.0,144.3 335.0,144.5 331.0,144.6 327.0,144.8 323.0,145.0 319.0,145.2 315.0,145.4 311.0,146.2 307.0,147.0 303.0,147.9 299.0,149.0 295.0,150.3 291.0,151.8 287.0,153.6 283.0,155.5 279.0,157.5 275.0,159.4 271.0,161.4 267.0,163.7 263.0,165.9 259.0,167.7 255.0,168.9Z" fill="url(#g9)" filter="url(#b11p7_22p3)"/><path d="M255.0,140.9 259.0,139.3 263.0,137.1 267.0,134.5 271.0,131.8 275.0,129.4 279.0,127.3 283.0,125.1 287.0,123.0 291.0,121.0 295.0,119.3 299.0,118.0 303.0,116.9 307.0,116.0 311.0,115.2 315.0,114.4 319.0,114.2 323.0,114.0 327.0,113.8 331.0,113.6 335.0,113.5 339.0,113.3 343.0,113.2 347.0,113.0 351.0,112.9 355.0,112.7 359.0,112.6 363.0,112.5 367.0,112.4 371.0,112.3 375.0,112.1 379.0,112.0 383.0,111.9 387.0,111.7 391.0,111.6 395.0,111.5 399.0,111.4 403.0,111.3 407.0,111.1 411.0,111.0 415.0,110.9 419.0,110.8 423.0,110.7 427.0,110.6 431.0,110.5 435.0,110.4 439.0,110.2 443.0,110.1 447.0,109.9 451.0,109.7 455.0,109.6 459.0,109.5 463.0,109.3 467.0,109.2 471.0,109.1 475.0,109.1 479.0,109.1 483.0,109.1 487.0,109.1 491.0,109.2 495.0,109.3 499.0,109.5 503.0,109.7 507.0,109.9 511.0,110.1 515.0,110.5 519.0,110.8 523.0,111.2 527.0,111.7 531.0,112.2 535.0,112.7 539.0,113.2 543.0,114.1 547.0,115.1 551.0,116.4 555.0,118.1 559.0,120.2 563.0,122.8 567.0,125.7 571.0,128.6 575.0,131.2 579.0,133.6 583.0,136.1 587.0,138.3 591.0,140.3 595.0,141.7 595.0,162.5 591.0,161.4 587.0,159.8 583.0,157.8 579.0,155.7 575.0,153.6 571.0,151.2 567.0,148.4 563.0,145.7 559.0,143.3 555.0,141.4 551.0,139.8 547.0,138.8 543.0,138.0 539.0,137.3 535.0,136.8 531.0,136.4 527.0,136.0 523.0,135.7 519.0,135.4 515.0,135.1 511.0,134.9 507.0,134.7 503.0,134.5 499.0,134.3 495.0,134.1 491.0,134.0 487.0,133.9 483.0,133.9 479.0,133.9 475.0,133.9 471.0,133.9 467.0,134.0 463.0,134.1 459.0,134.3 455.0,134.4 451.0,134.5 447.0,134.7 443.0,134.9 439.0,135.0 435.0,135.2 431.0,135.3 427.0,135.4 423.0,135.5 419.0,135.6 415.0,135.7 411.0,135.8 407.0,135.9 403.0,136.1 399.0,136.2 395.0,136.3 391.0,136.4 387.0,136.5 383.0,136.7 379.0,136.8 375.0,136.9 371.0,137.1 367.0,137.2 363.0,137.3 359.0,137.4 355.0,137.5 351.0,137.7 347.0,137.8 343.0,138.0 339.0,138.1 335.0,138.3 331.0,138.4 327.0,138.6 323.0,138.8 319.0,139.0 315.0,139.2 311.0,140.0 307.0,140.8 303.0,141.7 299.0,142.8 295.0,144.1 291.0,145.6 287.0,147.4 283.0,149.4 279.0,151.4 275.0,153.4 271.0,155.5 267.0,157.8 263.0,160.1 259.0,162.0 255.0,163.3Z" fill="url(#g10)" filter="url(#b9_11p2)"/>
<path d="M100.0,218.4 103.9,218.4 107.9,218.4 111.8,218.4 115.8,218.4 119.7,218.4 123.7,218.4 127.6,218.4 131.5,218.4 135.5,218.4 139.4,218.4 143.4,218.4 147.3,218.4 151.3,218.4 155.2,218.4 159.1,218.4 163.1,218.4 167.0,218.4 171.0,218.4 174.9,218.4 178.9,218.4 182.8,218.4 186.7,218.4 190.7,218.4 194.6,218.4 198.6,218.4 202.5,218.3 206.5,218.2 210.4,218.1 214.3,218.0 218.3,218.0 222.2,217.9 226.2,217.9 230.1,217.9 234.1,217.9 238.0,217.9 238.0,225.6 234.1,225.6 230.1,225.6 226.2,225.6 222.2,225.6 218.3,225.6 214.3,225.7 210.4,225.8 206.5,225.9 202.5,226.0 198.6,226.0 194.6,226.1 190.7,226.1 186.7,226.1 182.8,226.1 178.9,226.1 174.9,226.1 171.0,226.1 167.0,226.1 163.1,226.1 159.1,226.1 155.2,226.1 151.3,226.1 147.3,226.1 143.4,226.1 139.4,226.1 135.5,226.1 131.5,226.1 127.6,226.1 123.7,226.1 119.7,226.1 115.8,226.1 111.8,226.1 107.9,226.1 103.9,226.1 100.0,226.1Z" fill="url(#g11)" filter="url(#b6p5_4p8)"/><path d="M100.0,219.7 103.9,219.7 107.9,219.7 111.8,219.7 115.8,219.7 119.7,219.7 123.7,219.7 127.6,219.7 131.5,219.7 135.5,219.7 139.4,219.7 143.4,219.7 147.3,219.7 151.3,219.7 155.2,219.7 159.1,219.7 163.1,219.7 167.0,219.7 171.0,219.7 174.9,219.7 178.9,219.7 182.8,219.7 186.7,219.7 190.7,219.7 194.6,219.7 198.6,219.6 202.5,219.6 206.5,219.5 210.4,219.4 214.3,219.3 218.3,219.2 222.2,219.2 226.2,219.2 230.1,219.2 234.1,219.2 238.0,219.2 238.0,224.3 234.1,224.3 230.1,224.3 226.2,224.3 222.2,224.3 218.3,224.4 214.3,224.4 210.4,224.5 206.5,224.6 202.5,224.7 198.6,224.8 194.6,224.8 190.7,224.8 186.7,224.8 182.8,224.8 178.9,224.8 174.9,224.8 171.0,224.8 167.0,224.8 163.1,224.8 159.1,224.8 155.2,224.8 151.3,224.8 147.3,224.8 143.4,224.8 139.4,224.8 135.5,224.8 131.5,224.8 127.6,224.8 123.7,224.8 119.7,224.8 115.8,224.8 111.8,224.8 107.9,224.8 103.9,224.8 100.0,224.8Z" fill="url(#g12)" filter="url(#b5_2p4)"/>
<path d="M638.0,217.9 641.9,217.9 645.9,217.9 649.8,217.9 653.7,217.9 657.7,217.9 661.6,218.0 665.5,218.0 669.5,218.1 673.4,218.2 677.4,218.2 681.3,218.3 685.2,218.4 689.2,218.4 693.1,218.4 697.0,218.4 701.0,218.4 704.9,218.4 708.8,218.4 712.8,218.4 716.7,218.4 720.6,218.4 724.6,218.4 728.5,218.4 732.5,218.4 736.4,218.4 740.3,218.4 744.3,218.4 748.2,218.4 752.1,218.4 756.1,218.4 760.0,218.4 760.0,226.1 756.1,226.1 752.1,226.1 748.2,226.1 744.3,226.1 740.3,226.1 736.4,226.1 732.5,226.1 728.5,226.1 724.6,226.1 720.6,226.1 716.7,226.1 712.8,226.1 708.8,226.1 704.9,226.1 701.0,226.1 697.0,226.1 693.1,226.1 689.2,226.1 685.2,226.0 681.3,226.0 677.4,225.9 673.4,225.9 669.5,225.8 665.5,225.7 661.6,225.7 657.7,225.6 653.7,225.6 649.8,225.6 645.9,225.6 641.9,225.6 638.0,225.6Z" fill="url(#g13)" filter="url(#b6p5_4p8)"/><path d="M638.0,219.2 641.9,219.2 645.9,219.2 649.8,219.2 653.7,219.2 657.7,219.2 661.6,219.3 665.5,219.3 669.5,219.4 673.4,219.5 677.4,219.5 681.3,219.6 685.2,219.6 689.2,219.7 693.1,219.7 697.0,219.7 701.0,219.7 704.9,219.7 708.8,219.7 712.8,219.7 716.7,219.7 720.6,219.7 724.6,219.7 728.5,219.7 732.5,219.7 736.4,219.7 740.3,219.7 744.3,219.7 748.2,219.7 752.1,219.7 756.1,219.7 760.0,219.7 760.0,224.8 756.1,224.8 752.1,224.8 748.2,224.8 744.3,224.8 740.3,224.8 736.4,224.8 732.5,224.8 728.5,224.8 724.6,224.8 720.6,224.8 716.7,224.8 712.8,224.8 708.8,224.8 704.9,224.8 701.0,224.8 697.0,224.8 693.1,224.8 689.2,224.8 685.2,224.8 681.3,224.7 677.4,224.6 673.4,224.6 669.5,224.5 665.5,224.4 661.6,224.4 657.7,224.3 653.7,224.3 649.8,224.3 645.9,224.3 641.9,224.3 638.0,224.3Z" fill="url(#g14)" filter="url(#b5_2p4)"/>
<path d="M100.0,294.8 103.9,294.8 107.9,294.8 111.8,294.7 115.8,294.7 119.7,294.7 123.7,294.7 127.6,294.7 131.5,294.8 135.5,294.9 139.4,295.0 143.4,295.2 147.3,295.4 151.3,295.5 155.2,295.7 159.1,296.0 163.1,296.2 167.0,296.4 171.0,296.6 174.9,296.8 178.9,297.0 182.8,297.3 186.7,297.6 190.7,297.9 194.6,298.2 198.6,298.6 202.5,298.9 206.5,299.3 210.4,299.9 214.3,300.5 218.3,301.1 222.2,301.6 226.2,301.9 230.1,302.2 234.1,302.4 238.0,302.5 238.0,313.3 234.1,313.2 230.1,313.0 226.2,312.7 222.2,312.4 218.3,311.9 214.3,311.3 210.4,310.7 206.5,310.1 202.5,309.6 198.6,309.2 194.6,308.7 190.7,308.3 186.7,307.9 182.8,307.4 178.9,307.1 174.9,306.8 171.0,306.6 167.0,306.3 163.1,306.1 159.1,305.8 155.2,305.6 151.3,305.3 147.3,305.1 143.4,304.9 139.4,304.7 135.5,304.6 131.5,304.4 127.6,304.3 123.7,304.3 119.7,304.3 115.8,304.3 111.8,304.3 107.9,304.4 103.9,304.4 100.0,304.4Z" fill="url(#g15)" filter="url(#b7p8_6p4)"/><path d="M100.0,296.4 103.9,296.4 107.9,296.4 111.8,296.3 115.8,296.3 119.7,296.3 123.7,296.3 127.6,296.3 131.5,296.4 135.5,296.5 139.4,296.7 143.4,296.8 147.3,297.0 151.3,297.2 155.2,297.4 159.1,297.6 163.1,297.8 167.0,298.0 171.0,298.3 174.9,298.5 178.9,298.7 182.8,299.0 186.7,299.3 190.7,299.7 194.6,300.0 198.6,300.3 202.5,300.7 206.5,301.1 210.4,301.7 214.3,302.3 218.3,302.9 222.2,303.4 226.2,303.7 230.1,304.0 234.1,304.2 238.0,304.3 238.0,311.5 234.1,311.4 230.1,311.2 226.2,310.9 222.2,310.6 218.3,310.1 214.3,309.5 210.4,308.9 206.5,308.3 202.5,307.8 198.6,307.4 194.6,307.0 190.7,306.6 186.7,306.2 182.8,305.7 178.9,305.4 174.9,305.1 171.0,304.9 167.0,304.7 163.1,304.4 159.1,304.2 155.2,303.9 151.3,303.7 147.3,303.5 143.4,303.3 139.4,303.1 135.5,303.0 131.5,302.8 127.6,302.7 123.7,302.7 119.7,302.7 115.8,302.7 111.8,302.7 107.9,302.8 103.9,302.8 100.0,302.8Z" fill="url(#g16)" filter="url(#b6_3p2)"/>
<path d="M628.0,301.1 632.0,300.9 636.0,300.6 640.0,300.4 644.0,300.1 648.0,300.0 652.0,299.9 656.0,299.8 660.0,299.8 664.0,299.7 668.0,299.6 672.0,299.6 676.0,299.6 680.0,299.6 684.0,299.6 688.0,299.5 692.0,299.4 696.0,299.3 700.0,299.1 704.0,299.0 708.0,298.8 712.0,298.6 716.0,298.5 720.0,298.3 724.0,298.3 728.0,298.2 732.0,298.2 736.0,298.1 740.0,298.1 744.0,298.2 748.0,298.2 752.0,298.2 756.0,298.2 760.0,298.2 760.0,307.8 756.0,307.8 752.0,307.8 748.0,307.8 744.0,307.8 740.0,307.7 736.0,307.7 732.0,307.8 728.0,307.8 724.0,307.9 720.0,308.0 716.0,308.2 712.0,308.4 708.0,308.6 704.0,308.9 700.0,309.1 696.0,309.3 692.0,309.5 688.0,309.7 684.0,309.9 680.0,310.0 676.0,310.2 672.0,310.3 668.0,310.4 664.0,310.5 660.0,310.6 656.0,310.6 652.0,310.7 648.0,310.8 644.0,310.9 640.0,311.2 636.0,311.4 632.0,311.7 628.0,311.9Z" fill="url(#g17)" filter="url(#b7p8_6p4)"/><path d="M628.0,302.9 632.0,302.7 636.0,302.4 640.0,302.2 644.0,301.9 648.0,301.8 652.0,301.7 656.0,301.6 660.0,301.6 664.0,301.5 668.0,301.4 672.0,301.4 676.0,301.4 680.0,301.3 684.0,301.3 688.0,301.2 692.0,301.1 696.0,301.0 700.0,300.8 704.0,300.6 708.0,300.4 712.0,300.3 716.0,300.1 720.0,300.0 724.0,299.9 728.0,299.8 732.0,299.8 736.0,299.7 740.0,299.7 744.0,299.8 748.0,299.8 752.0,299.8 756.0,299.8 760.0,299.8 760.0,306.2 756.0,306.2 752.0,306.2 748.0,306.2 744.0,306.2 740.0,306.1 736.0,306.1 732.0,306.2 728.0,306.2 724.0,306.3 720.0,306.4 716.0,306.6 712.0,306.8 708.0,307.0 704.0,307.2 700.0,307.4 696.0,307.6 692.0,307.8 688.0,308.0 684.0,308.2 680.0,308.3 676.0,308.4 672.0,308.5 668.0,308.6 664.0,308.7 660.0,308.8 656.0,308.8 652.0,308.9 648.0,309.0 644.0,309.1 640.0,309.4 636.0,309.6 632.0,309.9 628.0,310.1Z" fill="url(#g18)" filter="url(#b6_3p2)"/>
<path d="M214.0,366.5 218.0,363.6 222.0,359.6 226.0,355.2 230.0,350.8 234.0,346.2 237.9,341.4 241.9,336.6 245.9,332.0 249.9,327.2 253.9,322.7 257.9,319.8 261.9,317.5 265.9,315.2 269.9,313.1 273.9,311.1 277.9,309.3 281.8,307.8 285.8,306.7 289.8,305.7 293.8,304.8 297.8,304.0 301.8,303.3 305.8,302.7 309.8,302.1 313.8,301.9 317.8,301.8 321.8,301.7 325.7,301.6 329.7,301.5 333.7,301.4 337.7,301.3 341.7,301.2 345.7,301.1 349.7,301.0 353.7,301.0 357.7,300.9 361.7,300.9 365.6,300.8 369.6,300.7 373.6,300.7 377.6,300.7 381.6,300.6 385.6,300.6 389.6,300.5 393.6,300.5 397.6,300.4 401.6,300.4 405.6,300.3 409.5,300.3 413.5,300.2 417.5,300.2 421.5,300.1 425.5,300.1 429.5,300.0 433.5,299.9 437.5,299.8 441.5,299.8 445.5,299.7 449.5,299.6 453.4,299.5 457.4,299.4 461.4,299.3 465.4,299.2 469.4,299.2 473.4,299.1 477.4,299.0 481.4,298.9 485.4,298.9 489.4,298.8 493.4,298.7 497.3,298.7 501.3,298.6 505.3,298.6 509.3,298.6 513.3,298.5 517.3,298.5 521.3,298.5 525.3,298.5 529.3,298.6 533.3,298.6 537.2,298.6 541.2,298.7 545.2,299.0 549.2,299.3 553.2,299.8 557.2,300.2 561.2,300.8 565.2,301.4 569.2,302.1 573.2,302.8 577.2,303.5 581.1,304.4 585.1,305.8 589.1,307.3 593.1,309.1 597.1,311.2 601.1,314.3 605.1,319.5 609.1,325.3 613.1,331.1 617.1,336.6 621.1,342.0 625.0,347.2 629.0,352.1 633.0,356.4 637.0,360.5 641.0,364.0 645.0,366.5 645.0,395.3 641.0,393.4 637.0,390.5 633.0,387.1 629.0,383.6 625.0,380.0 621.1,376.0 617.1,371.9 613.1,367.4 609.1,362.3 605.1,357.1 601.1,352.5 597.1,349.3 593.1,346.7 589.1,344.4 585.1,342.4 581.1,340.6 577.2,339.5 573.2,338.8 569.2,338.1 565.2,337.4 561.2,336.8 557.2,336.2 553.2,335.8 549.2,335.3 545.2,335.0 541.2,334.7 537.2,334.6 533.3,334.6 529.3,334.6 525.3,334.5 521.3,334.5 517.3,334.5 513.3,334.5 509.3,334.6 505.3,334.6 501.3,334.6 497.3,334.7 493.4,334.7 489.4,334.8 485.4,334.9 481.4,334.9 477.4,335.0 473.4,335.1 469.4,335.2 465.4,335.2 461.4,335.3 457.4,335.4 453.4,335.5 449.5,335.6 445.5,335.7 441.5,335.8 437.5,335.8 433.5,335.9 429.5,336.0 425.5,336.1 421.5,336.1 417.5,336.2 413.5,336.2 409.5,336.3 405.6,336.3 401.6,336.4 397.6,336.4 393.6,336.5 389.6,336.5 385.6,336.6 381.6,336.6 377.6,336.7 373.6,336.7 369.6,336.7 365.6,336.8 361.7,336.9 357.7,336.9 353.7,337.0 349.7,337.0 345.7,337.1 341.7,337.2 337.7,337.3 333.7,337.4 329.7,337.5 325.7,337.6 321.8,337.7 317.8,337.8 313.8,337.9 309.8,338.1 305.8,338.7 301.8,339.3 297.8,340.0 293.8,340.8 289.8,341.7 285.8,342.7 281.8,343.8 277.9,345.3 273.9,347.1 269.9,349.1 265.9,351.2 261.9,353.5 257.9,355.8 253.9,358.7 249.9,363.2 245.9,368.0 241.9,372.6 237.9,376.6 234.0,379.8 230.0,382.8 226.0,386.1 222.0,389.7 218.0,393.1 214.0,395.3Z" fill="url(#g19)" filter="url(#b11p7_21p5)"/><path d="M214.0,371.3 218.0,368.5 222.0,364.6 226.0,360.4 230.0,356.2 234.0,351.8 237.9,347.2 241.9,342.6 245.9,338.0 249.9,333.2 253.9,328.7 257.9,325.8 261.9,323.5 265.9,321.2 269.9,319.1 273.9,317.1 277.9,315.3 281.8,313.8 285.8,312.7 289.8,311.7 293.8,310.8 297.8,310.0 301.8,309.3 305.8,308.7 309.8,308.1 313.8,307.9 317.8,307.8 321.8,307.7 325.7,307.6 329.7,307.5 333.7,307.4 337.7,307.3 341.7,307.2 345.7,307.1 349.7,307.0 353.7,307.0 357.7,306.9 361.7,306.9 365.6,306.8 369.6,306.7 373.6,306.7 377.6,306.7 381.6,306.6 385.6,306.6 389.6,306.5 393.6,306.5 397.6,306.4 401.6,306.4 405.6,306.3 409.5,306.3 413.5,306.2 417.5,306.2 421.5,306.1 425.5,306.1 429.5,306.0 433.5,305.9 437.5,305.8 441.5,305.8 445.5,305.7 449.5,305.6 453.4,305.5 457.4,305.4 461.4,305.3 465.4,305.2 469.4,305.2 473.4,305.1 477.4,305.0 481.4,304.9 485.4,304.9 489.4,304.8 493.4,304.7 497.3,304.7 501.3,304.6 505.3,304.6 509.3,304.6 513.3,304.5 517.3,304.5 521.3,304.5 525.3,304.5 529.3,304.6 533.3,304.6 537.2,304.6 541.2,304.7 545.2,305.0 549.2,305.3 553.2,305.8 557.2,306.2 561.2,306.8 565.2,307.4 569.2,308.1 573.2,308.8 577.2,309.5 581.1,310.4 585.1,311.9 589.1,313.5 593.1,315.3 597.1,317.6 601.1,320.7 605.1,325.7 609.1,331.5 613.1,337.2 617.1,342.5 621.1,347.7 625.0,352.7 629.0,357.3 633.0,361.5 637.0,365.5 641.0,368.9 645.0,371.3 645.0,390.5 641.0,388.5 637.0,385.5 633.0,382.0 629.0,378.3 625.0,374.5 621.1,370.4 617.1,366.0 613.1,361.4 609.1,356.1 605.1,350.8 601.1,346.1 597.1,342.9 593.1,340.4 589.1,338.2 585.1,336.3 581.1,334.5 577.2,333.5 573.2,332.8 569.2,332.1 565.2,331.4 561.2,330.8 557.2,330.2 553.2,329.8 549.2,329.3 545.2,329.0 541.2,328.7 537.2,328.6 533.3,328.6 529.3,328.6 525.3,328.5 521.3,328.5 517.3,328.5 513.3,328.5 509.3,328.6 505.3,328.6 501.3,328.6 497.3,328.7 493.4,328.7 489.4,328.8 485.4,328.9 481.4,328.9 477.4,329.0 473.4,329.1 469.4,329.2 465.4,329.2 461.4,329.3 457.4,329.4 453.4,329.5 449.5,329.6 445.5,329.7 441.5,329.8 437.5,329.8 433.5,329.9 429.5,330.0 425.5,330.1 421.5,330.1 417.5,330.2 413.5,330.2 409.5,330.3 405.6,330.3 401.6,330.4 397.6,330.4 393.6,330.5 389.6,330.5 385.6,330.6 381.6,330.6 377.6,330.7 373.6,330.7 369.6,330.7 365.6,330.8 361.7,330.9 357.7,330.9 353.7,331.0 349.7,331.0 345.7,331.1 341.7,331.2 337.7,331.3 333.7,331.4 329.7,331.5 325.7,331.6 321.8,331.7 317.8,331.8 313.8,331.9 309.8,332.1 305.8,332.7 301.8,333.3 297.8,334.0 293.8,334.8 289.8,335.7 285.8,336.7 281.8,337.8 277.9,339.3 273.9,341.1 269.9,343.1 265.9,345.2 261.9,347.5 257.9,349.8 253.9,352.7 249.9,357.2 245.9,362.0 241.9,366.6 237.9,370.7 234.0,374.2 230.0,377.5 226.0,380.9 222.0,384.7 218.0,388.2 214.0,390.5Z" fill="url(#g20)" filter="url(#b9_10p7)"/>
<path d="M230.0,315.6 234.0,315.7 238.0,316.0 242.0,316.4 246.0,317.0 250.0,317.6 254.0,318.3 258.0,318.9 262.0,319.5 266.0,320.1 270.0,320.5 274.0,320.7 278.0,320.8 282.0,321.0 286.0,321.2 290.0,321.4 294.0,321.5 298.0,321.7 302.0,321.9 306.0,322.1 310.0,322.3 314.0,322.5 318.0,322.6 322.0,322.8 326.0,323.0 330.0,323.2 334.0,323.4 338.0,323.5 342.0,323.7 346.0,323.9 350.0,324.0 354.0,324.2 358.0,324.4 362.0,324.5 366.0,324.6 370.0,324.8 374.0,324.9 378.0,325.0 382.0,325.1 386.0,325.2 390.0,325.3 394.0,325.4 398.0,325.4 402.0,325.5 406.0,325.5 410.0,325.5 414.0,325.5 418.0,325.5 422.0,325.5 426.0,325.5 430.0,325.4 434.0,325.5 438.0,325.5 442.0,325.5 446.0,325.5 450.0,325.5 454.0,325.5 458.0,325.5 462.0,325.4 466.0,325.4 470.0,325.3 474.0,325.2 478.0,325.1 482.0,325.0 486.0,324.9 490.0,324.8 494.0,324.6 498.0,324.5 502.0,324.4 506.0,324.2 510.0,324.0 514.0,323.9 518.0,323.7 522.0,323.5 526.0,323.4 530.0,323.2 534.0,323.0 538.0,322.8 542.0,322.6 546.0,322.5 550.0,322.3 554.0,322.1 558.0,321.9 562.0,321.7 566.0,321.5 570.0,321.4 574.0,321.2 578.0,321.0 582.0,320.8 586.0,320.7 590.0,320.5 594.0,320.1 598.0,319.5 602.0,318.9 606.0,318.3 610.0,317.6 614.0,317.0 618.0,316.4 622.0,316.0 626.0,315.7 630.0,315.6 630.0,368.4 626.0,369.5 622.0,370.7 618.0,372.1 614.0,373.6 610.0,375.2 606.0,376.8 602.0,378.4 598.0,380.0 594.0,381.5 590.0,382.9 586.0,383.2 582.0,383.5 578.0,383.8 574.0,384.1 570.0,384.4 566.0,384.7 562.0,385.0 558.0,385.3 554.0,385.6 550.0,385.9 546.0,386.2 542.0,386.5 538.0,386.8 534.0,387.1 530.0,387.4 526.0,387.7 522.0,388.0 518.0,388.3 514.0,388.6 510.0,388.8 506.0,389.1 502.0,389.4 498.0,389.7 494.0,389.9 490.0,390.2 486.0,390.4 482.0,390.6 478.0,390.9 474.0,391.1 470.0,391.3 466.0,391.5 462.0,391.7 458.0,391.8 454.0,392.0 450.0,392.1 446.0,392.3 442.0,392.4 438.0,392.5 434.0,392.6 430.0,392.6 426.0,392.6 422.0,392.5 418.0,392.4 414.0,392.3 410.0,392.1 406.0,392.0 402.0,391.8 398.0,391.7 394.0,391.5 390.0,391.3 386.0,391.1 382.0,390.9 378.0,390.6 374.0,390.4 370.0,390.2 366.0,389.9 362.0,389.7 358.0,389.4 354.0,389.1 350.0,388.8 346.0,388.6 342.0,388.3 338.0,388.0 334.0,387.7 330.0,387.4 326.0,387.1 322.0,386.8 318.0,386.5 314.0,386.2 310.0,385.9 306.0,385.6 302.0,385.3 298.0,385.0 294.0,384.7 290.0,384.4 286.0,384.1 282.0,383.8 278.0,383.5 274.0,383.2 270.0,382.9 266.0,381.5 262.0,380.0 258.0,378.4 254.0,376.8 250.0,375.2 246.0,373.6 242.0,372.1 238.0,370.7 234.0,369.5 230.0,368.4Z" fill="url(#g21)" filter="url(#b20p8_37p2)"/><path d="M230.0,324.4 234.0,324.7 238.0,325.1 242.0,325.7 246.0,326.4 250.0,327.2 254.0,328.0 258.0,328.8 262.0,329.6 266.0,330.3 270.0,330.9 274.0,331.1 278.0,331.3 282.0,331.5 286.0,331.7 290.0,331.9 294.0,332.1 298.0,332.3 302.0,332.5 306.0,332.7 310.0,332.9 314.0,333.1 318.0,333.3 322.0,333.5 326.0,333.7 330.0,333.9 334.0,334.1 338.0,334.3 342.0,334.5 346.0,334.7 350.0,334.8 354.0,335.0 358.0,335.2 362.0,335.4 366.0,335.5 370.0,335.7 374.0,335.8 378.0,335.9 382.0,336.1 386.0,336.2 390.0,336.3 394.0,336.4 398.0,336.5 402.0,336.5 406.0,336.6 410.0,336.6 414.0,336.7 418.0,336.7 422.0,336.7 426.0,336.7 430.0,336.6 434.0,336.7 438.0,336.7 442.0,336.7 446.0,336.7 450.0,336.6 454.0,336.6 458.0,336.5 462.0,336.5 466.0,336.4 470.0,336.3 474.0,336.2 478.0,336.1 482.0,335.9 486.0,335.8 490.0,335.7 494.0,335.5 498.0,335.4 502.0,335.2 506.0,335.0 510.0,334.8 514.0,334.7 518.0,334.5 522.0,334.3 526.0,334.1 530.0,333.9 534.0,333.7 538.0,333.5 542.0,333.3 546.0,333.1 550.0,332.9 554.0,332.7 558.0,332.5 562.0,332.3 566.0,332.1 570.0,331.9 574.0,331.7 578.0,331.5 582.0,331.3 586.0,331.1 590.0,330.9 594.0,330.3 598.0,329.6 602.0,328.8 606.0,328.0 610.0,327.2 614.0,326.4 618.0,325.7 622.0,325.1 626.0,324.7 630.0,324.4 630.0,359.6 626.0,360.5 622.0,361.6 618.0,362.8 614.0,364.2 610.0,365.6 606.0,367.1 602.0,368.5 598.0,369.9 594.0,371.3 590.0,372.5 586.0,372.8 582.0,373.0 578.0,373.3 574.0,373.6 570.0,373.9 566.0,374.1 562.0,374.4 558.0,374.7 554.0,375.0 550.0,375.3 546.0,375.6 542.0,375.8 538.0,376.1 534.0,376.4 530.0,376.7 526.0,377.0 522.0,377.2 518.0,377.5 514.0,377.8 510.0,378.0 506.0,378.3 502.0,378.6 498.0,378.8 494.0,379.0 490.0,379.3 486.0,379.5 482.0,379.7 478.0,379.9 474.0,380.1 470.0,380.3 466.0,380.5 462.0,380.6 458.0,380.8 454.0,380.9 450.0,381.0 446.0,381.1 442.0,381.2 438.0,381.3 434.0,381.4 430.0,381.4 426.0,381.4 422.0,381.3 418.0,381.2 414.0,381.1 410.0,381.0 406.0,380.9 402.0,380.8 398.0,380.6 394.0,380.5 390.0,380.3 386.0,380.1 382.0,379.9 378.0,379.7 374.0,379.5 370.0,379.3 366.0,379.0 362.0,378.8 358.0,378.6 354.0,378.3 350.0,378.0 346.0,377.8 342.0,377.5 338.0,377.2 334.0,377.0 330.0,376.7 326.0,376.4 322.0,376.1 318.0,375.8 314.0,375.6 310.0,375.3 306.0,375.0 302.0,374.7 298.0,374.4 294.0,374.1 290.0,373.9 286.0,373.6 282.0,373.3 278.0,373.0 274.0,372.8 270.0,372.5 266.0,371.3 262.0,369.9 258.0,368.5 254.0,367.1 250.0,365.6 246.0,364.2 242.0,362.8 238.0,361.6 234.0,360.5 230.0,359.6Z" fill="url(#g22)" filter="url(#b16_18p6)"/>
<path d="M212.0,377.4 215.8,375.8 219.7,373.4 223.5,370.7 227.4,367.9 231.2,365.4 235.1,362.8 238.9,360.2 242.8,357.7 246.6,355.2 250.5,352.4 254.3,349.3 258.2,346.5 262.0,344.6 262.0,368.6 258.2,370.5 254.3,373.3 250.5,376.4 246.6,379.0 242.8,381.0 238.9,383.0 235.1,385.1 231.2,387.2 227.4,389.5 223.5,392.3 219.7,395.0 215.8,397.4 212.0,399.0Z" fill="url(#g23)" filter="url(#b9p1_14p2)"/><path d="M212.0,381.0 215.8,379.4 219.7,377.0 223.5,374.3 227.4,371.5 231.2,369.0 235.1,366.5 238.9,364.0 242.8,361.6 246.6,359.2 250.5,356.4 254.3,353.3 258.2,350.5 262.0,348.6 262.0,364.6 258.2,366.5 254.3,369.3 250.5,372.4 246.6,375.1 242.8,377.1 238.9,379.2 235.1,381.4 231.2,383.5 227.4,385.9 223.5,388.7 219.7,391.4 215.8,393.8 212.0,395.4Z" fill="url(#g24)" filter="url(#b7_7p1)"/>
<path d="M605.0,344.6 608.8,346.5 612.6,349.3 616.4,352.5 620.1,355.4 623.9,357.7 627.7,360.0 631.5,362.4 635.3,364.6 639.1,366.7 642.9,368.7 646.6,370.6 650.4,372.4 654.2,373.9 658.0,375.0 658.0,396.6 654.2,395.5 650.4,394.0 646.6,392.2 642.9,390.3 639.1,388.4 635.3,386.8 631.5,385.0 627.7,383.1 623.9,381.2 620.1,379.4 616.4,376.5 612.6,373.3 608.8,370.5 605.0,368.6Z" fill="url(#g25)" filter="url(#b9p1_14p2)"/><path d="M605.0,348.6 608.8,350.5 612.6,353.3 616.4,356.5 620.1,359.4 623.9,361.6 627.7,363.9 631.5,366.1 635.3,368.3 639.1,370.3 642.9,372.3 646.6,374.2 650.4,376.0 654.2,377.5 658.0,378.6 658.0,393.0 654.2,391.9 650.4,390.4 646.6,388.6 642.9,386.7 639.1,384.8 635.3,383.1 631.5,381.2 627.7,379.3 623.9,377.3 620.1,375.4 616.4,372.5 612.6,369.3 608.8,366.5 605.0,364.6Z" fill="url(#g26)" filter="url(#b7_7p1)"/>
<path d="M100.0,385.4 104.0,385.4 108.0,385.4 112.0,385.5 116.0,385.5 120.0,385.5 124.0,385.5 128.0,385.3 132.0,384.9 136.0,384.5 140.0,384.1 144.0,383.5 148.0,382.9 152.0,382.3 156.0,381.6 160.0,380.9 164.0,380.1 168.0,379.4 172.0,378.8 176.0,378.0 180.0,377.3 184.0,376.5 188.0,375.7 192.0,374.9 196.0,374.2 200.0,373.5 204.0,372.8 208.0,372.3 212.0,371.6 216.0,371.2 220.0,371.0 224.0,370.9 228.0,370.8 232.0,370.7 236.0,370.7 240.0,371.0 240.0,389.0 236.0,390.1 232.0,391.4 228.0,392.8 224.0,394.2 220.0,395.6 216.0,396.9 212.0,398.4 208.0,400.3 204.0,401.0 200.0,401.9 196.0,402.8 192.0,403.8 188.0,404.8 184.0,405.8 180.0,406.8 176.0,407.7 172.0,408.6 168.0,409.5 164.0,410.3 160.0,411.1 156.0,412.0 152.0,412.8 148.0,413.5 144.0,414.2 140.0,414.9 136.0,415.4 132.0,415.9 128.0,416.3 124.0,416.5 120.0,416.5 116.0,416.5 112.0,416.5 108.0,416.4 104.0,416.4 100.0,416.4Z" fill="url(#g27)" filter="url(#b6_6)"/>
<path d="M615.0,366.1 618.9,365.8 622.8,365.7 626.8,365.7 630.7,365.9 634.6,366.3 638.5,366.8 642.4,367.4 646.4,368.0 650.3,368.8 654.2,369.7 658.1,370.4 662.0,371.1 665.9,371.9 669.9,372.8 673.8,373.7 677.7,374.5 681.6,375.4 685.5,376.2 689.5,377.0 693.4,377.7 697.3,378.4 701.2,379.2 705.1,380.0 709.1,380.6 713.0,381.2 716.9,381.7 720.8,382.1 724.7,382.5 728.6,382.7 732.6,382.9 736.5,383.0 740.4,383.0 744.3,383.0 748.2,383.0 752.2,383.0 756.1,383.0 760.0,383.0 760.0,414.0 756.1,414.0 752.2,414.0 748.2,414.0 744.3,414.0 740.4,414.0 736.5,414.0 732.6,413.9 728.6,413.7 724.7,413.5 720.8,413.0 716.9,412.4 713.0,411.8 709.1,411.1 705.1,410.3 701.2,409.4 697.3,408.4 693.4,407.6 689.5,406.7 685.5,405.7 681.6,404.7 677.7,403.6 673.8,402.6 669.9,401.5 665.9,400.5 662.0,399.5 658.1,398.5 654.2,397.5 650.3,396.0 646.4,394.5 642.4,393.2 638.5,391.9 634.6,390.8 630.7,389.4 626.8,387.9 622.8,386.5 618.9,385.2 615.0,384.1Z" fill="url(#g28)" filter="url(#b6_6)"/>
<path d="M100.0,392.6 104.0,392.6 108.0,392.7 112.0,392.8 116.0,392.8 120.0,392.8 124.0,392.7 128.0,392.5 132.0,392.2 136.0,391.8 140.0,391.3 144.0,390.7 148.0,390.1 152.0,389.4 156.0,388.7 160.0,387.9 164.0,387.2 168.0,386.4 172.0,385.7 176.0,385.0 180.0,384.1 184.0,383.3 188.0,382.4 192.0,381.6 196.0,380.8 200.0,380.0 204.0,379.4 208.0,378.8 212.0,377.9 216.0,377.6 220.0,377.4 224.0,377.1 228.0,376.9 232.0,376.9 232.0,384.9 228.0,386.2 224.0,387.8 220.0,389.4 216.0,390.6 212.0,391.9 208.0,393.8 204.0,394.5 200.0,395.2 196.0,396.1 192.0,397.0 188.0,398.0 184.0,398.9 180.0,399.9 176.0,400.8 172.0,401.7 168.0,402.5 164.0,403.3 160.0,404.1 156.0,404.9 152.0,405.6 148.0,406.4 144.0,407.1 140.0,407.7 136.0,408.2 132.0,408.7 128.0,409.0 124.0,409.2 120.0,409.3 116.0,409.3 112.0,409.3 108.0,409.2 104.0,409.1 100.0,409.1Z" fill="url(#g29)" filter="url(#b3p5_3p2)"/>
<path d="M640.0,376.9 644.0,376.8 648.0,376.9 652.0,376.9 656.0,376.7 660.0,377.3 664.0,377.9 668.0,378.6 672.0,379.5 676.0,380.4 680.0,381.4 684.0,382.4 688.0,383.3 692.0,384.1 696.0,384.9 700.0,385.7 704.0,386.6 708.0,387.3 712.0,388.0 716.0,388.7 720.0,389.2 724.0,389.6 728.0,389.9 732.0,390.1 736.0,390.2 740.0,390.3 744.0,390.3 748.0,390.2 752.0,390.2 756.0,390.2 760.0,390.2 760.0,406.7 756.0,406.7 752.0,406.7 748.0,406.7 744.0,406.8 740.0,406.8 736.0,406.7 732.0,406.6 728.0,406.4 724.0,406.1 720.0,405.7 716.0,405.2 712.0,404.5 708.0,403.8 704.0,403.1 700.0,402.2 696.0,401.4 692.0,400.5 688.0,399.5 684.0,398.4 680.0,397.2 676.0,396.1 672.0,395.0 668.0,394.0 664.0,393.1 660.0,392.3 656.0,390.5 652.0,389.5 648.0,388.1 644.0,386.4 640.0,384.9Z" fill="url(#g30)" filter="url(#b3p5_3p2)"/>
</g></g>
<line x1="132" y1="249.5" x2="724.8" y2="249.5" stroke="#757575" stroke-width="5.4" stroke-dasharray="22.4 10.4" stroke-dashoffset="-0.8"/>
<path d="M132.0,348.3 136.0,348.6 140.0,348.6 144.0,348.3 148.0,347.8 152.0,347.0 156.0,346.1 160.0,344.9 164.0,343.5 168.0,341.9 172.0,340.1 176.0,338.1 180.0,336.0 184.0,333.7 188.0,331.2 192.0,328.6 196.0,325.9 200.0,323.1 204.0,320.1 208.0,317.1 212.0,314.0 216.0,310.8 220.0,307.5 224.0,304.3 228.0,300.9 232.0,297.6 236.0,294.3 240.0,290.9 244.0,287.6 248.0,284.3 252.0,281.0 256.0,277.8 260.0,274.6 264.0,271.5 268.0,268.5 272.0,265.5 276.0,262.7 280.0,259.9 284.0,257.3 288.0,254.7 292.0,252.3 296.0,250.1 300.0,247.9 304.0,245.9 308.0,244.1 312.0,242.3 316.0,240.8 320.0,239.3 324.0,238.0 328.0,236.8 332.0,235.8 336.0,234.9 340.0,234.0 344.0,233.3 348.0,232.7 352.0,232.1 356.0,231.6 360.0,231.2 364.0,230.8 368.0,230.4 372.0,230.0 376.0,229.6 380.0,229.2 384.0,228.8 388.0,228.3 392.0,227.8 396.0,227.3 400.0,226.7 404.0,226.2 408.0,225.5 412.0,224.9 416.0,224.2 420.0,223.6 424.0,222.9 428.0,222.2 432.0,221.6 436.0,221.0 440.0,220.4 444.0,219.9 448.0,219.4 452.0,218.9 456.0,218.6 460.0,218.3 464.0,218.1 468.0,217.9 472.0,217.9 476.0,217.9 480.0,218.1 484.0,218.3 488.0,218.7 492.0,219.1 496.0,219.7 500.0,220.3 504.0,221.1 508.0,222.0 512.0,223.1 516.0,224.2 520.0,225.5 524.0,226.8 528.0,228.3 532.0,229.9 536.0,231.6 540.0,233.5 544.0,235.4 548.0,237.5 552.0,239.6 556.0,241.9 560.0,244.2 564.0,246.7 568.0,249.2 572.0,251.8 576.0,254.5 580.0,257.3 584.0,260.1 588.0,263.0 592.0,266.0 596.0,269.0 600.0,272.0 604.0,275.1 608.0,278.2 612.0,281.3 616.0,284.5 620.0,287.6 624.0,290.8 628.0,294.0 632.0,297.1 636.0,300.2 640.0,303.3 644.0,306.4 648.0,309.4 652.0,312.4 656.0,315.3 660.0,318.2 664.0,321.0 668.0,323.7 672.0,326.3 676.0,328.8 680.0,331.2 684.0,333.5 688.0,335.7 692.0,337.8 696.0,339.7 700.0,341.4 704.0,343.0 708.0,344.4 712.0,345.7 716.0,346.7 720.0,347.6 724.0,348.2 724.8,348.3" fill="none" stroke="#3e3f41" stroke-width="5.2" stroke-linejoin="round"/>
<line x1="724.8" y1="54.78" x2="821" y2="54.78" stroke="#b2b2b2" stroke-width="3"/>
<line x1="724.8" y1="152.14" x2="821" y2="152.14" stroke="#b2b2b2" stroke-width="3"/>
<line x1="724.8" y1="249.5" x2="821" y2="249.5" stroke="#b2b2b2" stroke-width="3"/>
<line x1="724.8" y1="346.86" x2="821" y2="346.86" stroke="#b2b2b2" stroke-width="3"/>
<line x1="724.8" y1="444.22" x2="821" y2="444.22" stroke="#b2b2b2" stroke-width="3"/>
<path d="M729.7,5.5 C729.72,5.73 729.58,3.95 729.8,6.9 C730.02,9.85 730.6,17.6 731,23.2 C731.4,28.8 731.72,35.68 732.2,40.5 C732.68,45.32 733.03,48.23 733.9,52.1 C734.77,55.97 735.95,59.83 737.4,63.7 C738.85,67.57 740.48,71.45 742.6,75.3 C744.72,79.15 747.12,82.95 750.1,86.8 C753.08,90.65 756.45,94.53 760.5,98.4 C764.55,102.27 768.98,106.13 774.4,110 C779.82,113.87 787.02,117.73 793,121.6 C798.98,125.47 806.45,129.35 810.3,133.2 C814.15,137.05 815.9,141.23 816.1,144.7 C816.3,148.17 815.55,150.13 811.5,154 C807.45,157.87 797.98,163.65 791.8,167.9 C785.62,172.15 779.62,175.63 774.4,179.5 C769.18,183.37 763.78,187.25 760.5,191.1 C757.22,194.95 755.67,198.75 754.7,202.6 C753.73,206.45 755.15,211.3 754.7,214.2 C754.25,217.1 753.7,218.1 752,220 C750.3,221.9 747.33,223.77 744.5,225.6 C741.67,227.43 737.45,229.03 735,231 C732.55,232.97 730.75,234.4 729.8,237.4 C728.85,240.4 729.38,244.7 729.3,249 C729.22,253.3 729.02,258.92 729.3,263.2 C729.58,267.48 728.68,271.23 731,274.7 C733.32,278.17 737.7,281.1 743.2,284 C748.7,286.9 756.67,289.2 764,292.1 C771.33,295 781.22,298.12 787.2,301.4 C793.18,304.68 797.3,308.13 799.9,311.8 C802.5,315.47 803,318.97 802.8,323.4 C802.6,327.83 800.92,333 798.7,338.4 C796.48,343.8 792.97,350 789.5,355.8 C786.03,361.6 781.95,367.42 777.9,373.2 C773.85,378.98 769.45,384.72 765.2,390.5 C760.95,396.28 756.07,402.1 752.4,407.9 C748.73,413.7 745.7,419.52 743.2,425.3 C740.7,431.08 738.95,436.82 737.4,442.6 C735.85,448.38 734.87,454.2 733.9,460 C732.93,465.8 732.08,472.57 731.6,477.4 C731.12,482.23 731.13,486.33 731,489 C730.87,491.67 730.83,492.67 730.8,493.4" fill="none" stroke="#1f77b4" stroke-width="5.2" stroke-linejoin="round" clip-path="url(#clipLoc)"/>
<text x="740.2" y="44.6" font-size="36.5" textLength="59.5" lengthAdjust="spacingAndGlyphs">loc.</text>
<rect x="132" y="5.5" width="592.8" height="487.9" fill="none" stroke="#000" stroke-width="3.3" stroke-linejoin="miter"/>
<rect x="724.8" y="5.5" width="96.2" height="487.9" fill="none" stroke="#000" stroke-width="3.3"/>
<line x1="120.4" y1="54.78" x2="132" y2="54.78" stroke="#000" stroke-width="3.3" stroke-linecap="round"/>
<line x1="713.2" y1="54.78" x2="724.8" y2="54.78" stroke="#000" stroke-width="3.3" stroke-linecap="round"/>
<line x1="120.4" y1="152.14" x2="132" y2="152.14" stroke="#000" stroke-width="3.3" stroke-linecap="round"/>
<line x1="713.2" y1="152.14" x2="724.8" y2="152.14" stroke="#000" stroke-width="3.3" stroke-linecap="round"/>
<line x1="120.4" y1="249.5" x2="132" y2="249.5" stroke="#000" stroke-width="3.3" stroke-linecap="round"/>
<line x1="713.2" y1="249.5" x2="724.8" y2="249.5" stroke="#000" stroke-width="3.3" stroke-linecap="round"/>
<line x1="120.4" y1="346.86" x2="132" y2="346.86" stroke="#000" stroke-width="3.3" stroke-linecap="round"/>
<line x1="713.2" y1="346.86" x2="724.8" y2="346.86" stroke="#000" stroke-width="3.3" stroke-linecap="round"/>
<line x1="120.4" y1="444.22" x2="132" y2="444.22" stroke="#000" stroke-width="3.3" stroke-linecap="round"/>
<line x1="713.2" y1="444.22" x2="724.8" y2="444.22" stroke="#000" stroke-width="3.3" stroke-linecap="round"/>
<line x1="132" y1="493.4" x2="132" y2="505" stroke="#000" stroke-width="3.3" stroke-linecap="round"/>
<line x1="357" y1="493.4" x2="357" y2="505" stroke="#000" stroke-width="3.3" stroke-linecap="round"/>
<line x1="489.4" y1="493.4" x2="489.4" y2="505" stroke="#000" stroke-width="3.3" stroke-linecap="round"/>
<line x1="724.8" y1="493.4" x2="724.8" y2="505" stroke="#000" stroke-width="3.3" stroke-linecap="round"/>
<text transform="translate(86.48,65.53) scale(1.1020,1)" font-size="28.63">4</text>
<text transform="translate(84.93,162.89) scale(1.1048,1)" font-size="28.21">2</text>
<text transform="translate(85.12,259.98) scale(1.0826,1)" font-size="27.82">0</text>
<text transform="translate(84.93,357.61) scale(1.1048,1)" font-size="28.21">2</text>
<rect x="65.2" y="346.01" width="18.4" height="2.7" fill="#000"/>
<text transform="translate(85.29,454.97) scale(1.0812,1)" font-size="28.63">4</text>
<rect x="65.2" y="443.37" width="18.4" height="2.7" fill="#000"/>
<text font-size="28.4" text-anchor="middle"><tspan x="133" y="545">Γ</tspan><tspan x="359.3" y="545">M</tspan><tspan x="491.8" y="545">K</tspan><tspan x="725.7" y="545">Γ</tspan></text>
<text transform="translate(150.73,62.09) scale(1.0349,1)" font-size="62.48" font-style="italic">ε</text><text transform="translate(181.6,72.3) scale(0.8261,1)" font-size="45.79">E</text><rect x="226.4" y="36.3" width="37.6" height="4.5"/><rect x="226.4" y="48.2" width="37.6" height="4.5"/><text transform="translate(282.78,62.1) scale(1.0663,1)" font-size="61.86">1.0</text>
<rect x="851.2" y="27.5" width="22" height="444.5" fill="url(#cb0)"/>
<rect x="851.2" y="27.5" width="22" height="444.5" fill="none" stroke="#000" stroke-width="3.3"/>
<line x1="873.2" y1="472" x2="884.8" y2="472" stroke="#000" stroke-width="3.3" stroke-linecap="round"/>
<text transform="translate(903.32,483.58) scale(1.0902,1)" font-size="27.82">0</text>
<line x1="873.2" y1="422.61" x2="884.8" y2="422.61" stroke="#000" stroke-width="3.3" stroke-linecap="round"/>
<text transform="translate(901.94,434.46) scale(1.1745,1)" font-size="28.63">1</text>
<line x1="873.2" y1="373.22" x2="884.8" y2="373.22" stroke="#000" stroke-width="3.3" stroke-linecap="round"/>
<text transform="translate(902.9,385.07) scale(1.1281,1)" font-size="28.21">2</text>
<line x1="873.2" y1="323.83" x2="884.8" y2="323.83" stroke="#000" stroke-width="3.3" stroke-linecap="round"/>
<text transform="translate(903.34,335.41) scale(1.0991,1)" font-size="27.82">3</text>
<line x1="873.2" y1="274.44" x2="884.8" y2="274.44" stroke="#000" stroke-width="3.3" stroke-linecap="round"/>
<text transform="translate(903.84,286.29) scale(1.0049,1)" font-size="28.63">4</text>
<line x1="873.2" y1="225.06" x2="884.8" y2="225.06" stroke="#000" stroke-width="3.3" stroke-linecap="round"/>
<text transform="translate(903.28,236.63) scale(1.0832,1)" font-size="28.23">5</text>
<line x1="873.2" y1="175.67" x2="884.8" y2="175.67" stroke="#000" stroke-width="3.3" stroke-linecap="round"/>
<text transform="translate(902.9,187.24) scale(1.1294,1)" font-size="27.82">6</text>
<line x1="873.2" y1="126.28" x2="884.8" y2="126.28" stroke="#000" stroke-width="3.3" stroke-linecap="round"/>
<text transform="translate(902.86,138.13) scale(1.1139,1)" font-size="28.63">7</text>
<line x1="873.2" y1="76.89" x2="884.8" y2="76.89" stroke="#000" stroke-width="3.3" stroke-linecap="round"/>
<text transform="translate(903.16,88.47) scale(1.1106,1)" font-size="27.82">8</text>
<line x1="873.2" y1="27.5" x2="884.8" y2="27.5" stroke="#000" stroke-width="3.3" stroke-linecap="round"/>
<text transform="translate(903.03,39.08) scale(1.1282,1)" font-size="27.82">9</text>
<text transform="translate(34.6,251.4) rotate(-90)" font-size="45" text-anchor="middle" textLength="119.5" lengthAdjust="spacingAndGlyphs">E (eV)</text>
</g>
<g transform="translate(0,639.8)">
<g clip-path="url(#clipAx)"><g filter="url(#cmap)">
<rect x="92" y="-34.5" width="672.8" height="567.9" fill="rgb(8,8,8)"/>
<path d="M250.0,145.1 254.0,144.5 258.0,143.8 262.0,143.1 266.0,142.3 270.0,141.5 274.0,140.7 278.0,139.8 282.0,139.0 286.0,138.1 290.0,137.3 294.0,136.6 298.0,135.8 302.0,135.4 306.0,135.3 310.0,135.1 314.0,135.0 318.0,134.9 322.0,134.7 326.0,134.6 330.0,134.4 334.0,134.3 338.0,134.2 342.0,134.0 346.0,133.9 350.0,133.8 354.0,133.6 358.0,133.5 362.0,133.3 366.0,133.2 370.0,133.1 374.0,133.0 378.0,132.8 382.0,132.7 386.0,132.6 390.0,132.5 394.0,132.3 398.0,132.2 402.0,132.1 406.0,132.0 410.0,131.9 414.0,131.8 418.0,131.7 422.0,131.6 426.0,131.5 430.0,131.4 434.0,131.3 438.0,131.2 442.0,131.1 446.0,131.1 450.0,131.0 454.0,130.9 458.0,130.9 462.0,130.8 466.0,130.8 470.0,130.7 474.0,130.7 478.0,130.7 482.0,130.7 486.0,130.9 490.0,131.2 494.0,131.4 498.0,131.6 502.0,131.9 506.0,132.2 510.0,132.5 514.0,132.8 518.0,133.2 522.0,133.5 526.0,133.9 530.0,134.3 534.0,134.7 538.0,135.2 542.0,135.6 546.0,136.1 550.0,136.6 554.0,137.1 558.0,137.6 562.0,138.5 566.0,139.7 570.0,141.0 574.0,142.5 578.0,144.0 582.0,145.5 586.0,147.1 590.0,148.6 594.0,150.1 598.0,151.5 602.0,152.8 606.0,153.9 610.0,154.9 610.0,198.1 606.0,197.9 602.0,197.5 598.0,197.0 594.0,196.4 590.0,195.7 586.0,194.9 582.0,194.1 578.0,193.3 574.0,192.6 570.0,191.9 566.0,191.3 562.0,190.9 558.0,190.6 554.0,190.3 550.0,190.0 546.0,189.8 542.0,189.5 538.0,189.3 534.0,189.1 530.0,188.9 526.0,188.8 522.0,188.6 518.0,188.5 514.0,188.4 510.0,188.3 506.0,188.2 502.0,188.2 498.0,188.2 494.0,188.1 490.0,188.2 486.0,188.2 482.0,188.2 478.0,188.2 474.0,188.1 470.0,188.1 466.0,188.0 462.0,187.9 458.0,187.9 454.0,187.8 450.0,187.8 446.0,187.8 442.0,187.7 438.0,187.7 434.0,187.7 430.0,187.7 426.0,187.6 422.0,187.6 418.0,187.6 414.0,187.6 410.0,187.6 406.0,187.6 402.0,187.6 398.0,187.6 394.0,187.6 390.0,187.7 386.0,187.7 382.0,187.7 378.0,187.7 374.0,187.7 370.0,187.7 366.0,187.8 362.0,187.8 358.0,187.8 354.0,187.9 350.0,187.9 346.0,187.9 342.0,187.9 338.0,188.0 334.0,188.0 330.0,188.0 326.0,188.1 322.0,188.1 318.0,188.1 314.0,188.2 310.0,188.2 306.0,188.2 302.0,188.3 298.0,188.2 294.0,188.2 290.0,188.2 286.0,188.3 282.0,188.3 278.0,188.4 274.0,188.5 270.0,188.6 266.0,188.6 262.0,188.6 258.0,188.6 254.0,188.5 250.0,188.3Z" fill="url(#g31)" filter="url(#b18p2_31p2)"/><path d="M250.0,152.3 254.0,151.9 258.0,151.3 262.0,150.7 266.0,150.0 270.0,149.4 274.0,148.6 278.0,147.9 282.0,147.2 286.0,146.5 290.0,145.8 294.0,145.2 298.0,144.6 302.0,144.2 306.0,144.1 310.0,144.0 314.0,143.9 318.0,143.7 322.0,143.6 326.0,143.5 330.0,143.4 334.0,143.3 338.0,143.1 342.0,143.0 346.0,142.9 350.0,142.8 354.0,142.7 358.0,142.5 362.0,142.4 366.0,142.3 370.0,142.2 374.0,142.1 378.0,142.0 382.0,141.9 386.0,141.8 390.0,141.7 394.0,141.5 398.0,141.4 402.0,141.4 406.0,141.3 410.0,141.2 414.0,141.1 418.0,141.0 422.0,140.9 426.0,140.8 430.0,140.8 434.0,140.7 438.0,140.6 442.0,140.6 446.0,140.5 450.0,140.5 454.0,140.4 458.0,140.4 462.0,140.3 466.0,140.3 470.0,140.3 474.0,140.3 478.0,140.2 482.0,140.3 486.0,140.5 490.0,140.7 494.0,140.8 498.0,141.1 502.0,141.3 506.0,141.5 510.0,141.8 514.0,142.1 518.0,142.4 522.0,142.7 526.0,143.1 530.0,143.4 534.0,143.8 538.0,144.2 542.0,144.6 546.0,145.1 550.0,145.5 554.0,146.0 558.0,146.5 562.0,147.2 566.0,148.3 570.0,149.5 574.0,150.8 578.0,152.2 582.0,153.6 586.0,155.1 590.0,156.5 594.0,157.8 598.0,159.1 602.0,160.2 606.0,161.2 610.0,162.1 610.0,190.9 606.0,190.6 602.0,190.1 598.0,189.4 594.0,188.7 590.0,187.8 586.0,186.9 582.0,186.0 578.0,185.1 574.0,184.2 570.0,183.4 566.0,182.7 562.0,182.1 558.0,181.7 554.0,181.4 550.0,181.1 546.0,180.8 542.0,180.5 538.0,180.3 534.0,180.0 530.0,179.8 526.0,179.6 522.0,179.4 518.0,179.3 514.0,179.1 510.0,179.0 506.0,178.9 502.0,178.8 498.0,178.7 494.0,178.7 490.0,178.7 486.0,178.6 482.0,178.6 478.0,178.6 474.0,178.6 470.0,178.5 466.0,178.5 462.0,178.4 458.0,178.4 454.0,178.4 450.0,178.3 446.0,178.3 442.0,178.3 438.0,178.3 434.0,178.3 430.0,178.3 426.0,178.3 422.0,178.3 418.0,178.3 414.0,178.3 410.0,178.3 406.0,178.3 402.0,178.4 398.0,178.4 394.0,178.4 390.0,178.5 386.0,178.5 382.0,178.5 378.0,178.6 374.0,178.6 370.0,178.6 366.0,178.7 362.0,178.7 358.0,178.8 354.0,178.8 350.0,178.9 346.0,178.9 342.0,179.0 338.0,179.0 334.0,179.1 330.0,179.1 326.0,179.2 322.0,179.2 318.0,179.3 314.0,179.3 310.0,179.4 306.0,179.4 302.0,179.5 298.0,179.5 294.0,179.6 290.0,179.7 286.0,179.9 282.0,180.1 278.0,180.3 274.0,180.5 270.0,180.7 266.0,180.9 262.0,181.0 258.0,181.1 254.0,181.2 250.0,181.1Z" fill="url(#g32)" filter="url(#b14_15p6)"/>
<path d="M215.0,347.3 219.0,348.0 223.0,349.0 226.9,350.2 230.9,351.7 234.9,353.2 238.9,354.9 242.9,356.7 246.9,358.4 250.8,360.2 254.8,361.9 258.8,363.4 262.8,364.9 266.8,366.1 270.7,366.9 274.7,367.3 278.7,367.7 282.7,368.0 286.7,368.3 290.6,368.7 294.6,369.0 298.6,369.3 302.6,369.6 306.6,369.9 310.6,370.2 314.5,370.5 318.5,370.8 322.5,371.1 326.5,371.3 330.5,371.6 334.4,371.8 338.4,372.1 342.4,372.3 346.4,372.5 350.4,372.7 354.4,372.9 358.3,373.1 362.3,373.2 366.3,373.4 370.3,373.5 374.3,373.7 378.2,373.8 382.2,373.9 386.2,374.0 390.2,374.1 394.2,374.2 398.1,374.2 402.1,374.3 406.1,374.3 410.1,374.3 414.1,374.3 418.1,374.3 422.0,374.3 426.0,374.3 430.0,374.2 434.0,374.3 438.0,374.3 441.9,374.3 445.9,374.3 449.9,374.3 453.9,374.3 457.9,374.3 461.9,374.2 465.8,374.2 469.8,374.1 473.8,374.0 477.8,373.9 481.8,373.8 485.7,373.7 489.7,373.5 493.7,373.4 497.7,373.2 501.7,373.1 505.6,372.9 509.6,372.7 513.6,372.5 517.6,372.3 521.6,372.1 525.6,371.8 529.5,371.6 533.5,371.3 537.5,371.1 541.5,370.8 545.5,370.5 549.4,370.2 553.4,369.9 557.4,369.6 561.4,369.3 565.4,369.0 569.4,368.7 573.3,368.3 577.3,368.0 581.3,367.7 585.3,367.3 589.3,366.9 593.2,366.1 597.2,364.9 601.2,363.4 605.2,361.9 609.2,360.2 613.1,358.4 617.1,356.7 621.1,354.9 625.1,353.2 629.1,351.7 633.1,350.2 637.0,349.0 641.0,348.0 645.0,347.3 645.0,414.5 641.0,415.9 637.0,417.6 633.1,419.5 629.1,421.6 625.1,423.9 621.1,426.3 617.1,428.7 613.1,431.2 609.2,433.6 605.2,436.0 601.2,438.3 597.2,440.4 593.2,442.3 589.3,443.8 585.3,444.2 581.3,444.7 577.3,445.2 573.3,445.6 569.4,446.1 565.4,446.5 561.4,447.0 557.4,447.4 553.4,447.8 549.4,448.3 545.5,448.7 541.5,449.1 537.5,449.4 533.5,449.8 529.5,450.2 525.6,450.6 521.6,450.9 517.6,451.3 513.6,451.6 509.6,451.9 505.6,452.2 501.7,452.5 497.7,452.8 493.7,453.1 489.7,453.3 485.7,453.6 481.8,453.8 477.8,454.1 473.8,454.3 469.8,454.5 465.8,454.7 461.9,454.9 457.9,455.0 453.9,455.2 449.9,455.3 445.9,455.5 441.9,455.6 438.0,455.7 434.0,455.7 430.0,455.8 426.0,455.7 422.0,455.7 418.1,455.6 414.1,455.5 410.1,455.3 406.1,455.2 402.1,455.0 398.1,454.9 394.2,454.7 390.2,454.5 386.2,454.3 382.2,454.1 378.2,453.8 374.3,453.6 370.3,453.3 366.3,453.1 362.3,452.8 358.3,452.5 354.4,452.2 350.4,451.9 346.4,451.6 342.4,451.3 338.4,450.9 334.4,450.6 330.5,450.2 326.5,449.8 322.5,449.4 318.5,449.1 314.5,448.7 310.6,448.3 306.6,447.8 302.6,447.4 298.6,447.0 294.6,446.5 290.6,446.1 286.7,445.6 282.7,445.2 278.7,444.7 274.7,444.2 270.7,443.8 266.8,442.3 262.8,440.4 258.8,438.3 254.8,436.0 250.8,433.6 246.9,431.2 242.9,428.7 238.9,426.3 234.9,423.9 230.9,421.6 226.9,419.5 223.0,417.6 219.0,415.9 215.0,414.5Z" fill="url(#g33)" filter="url(#b26_46p2)"/><path d="M215.0,358.5 219.0,359.3 223.0,360.4 226.9,361.8 230.9,363.3 234.9,365.0 238.9,366.8 242.9,368.7 246.9,370.6 250.8,372.4 254.8,374.2 258.8,375.9 262.8,377.4 266.8,378.8 270.7,379.7 274.7,380.1 278.7,380.5 282.7,380.9 286.7,381.2 290.6,381.6 294.6,381.9 298.6,382.3 302.6,382.6 306.6,382.9 310.6,383.2 314.5,383.5 318.5,383.8 322.5,384.1 326.5,384.4 330.5,384.7 334.4,384.9 338.4,385.2 342.4,385.4 346.4,385.7 350.4,385.9 354.4,386.1 358.3,386.3 362.3,386.5 366.3,386.7 370.3,386.8 374.3,387.0 378.2,387.1 382.2,387.3 386.2,387.4 390.2,387.5 394.2,387.6 398.1,387.7 402.1,387.7 406.1,387.8 410.1,387.8 414.1,387.9 418.1,387.9 422.0,387.9 426.0,387.8 430.0,387.8 434.0,387.8 438.0,387.9 441.9,387.9 445.9,387.9 449.9,387.8 453.9,387.8 457.9,387.7 461.9,387.7 465.8,387.6 469.8,387.5 473.8,387.4 477.8,387.3 481.8,387.1 485.7,387.0 489.7,386.8 493.7,386.7 497.7,386.5 501.7,386.3 505.6,386.1 509.6,385.9 513.6,385.7 517.6,385.4 521.6,385.2 525.6,384.9 529.5,384.7 533.5,384.4 537.5,384.1 541.5,383.8 545.5,383.5 549.4,383.2 553.4,382.9 557.4,382.6 561.4,382.3 565.4,381.9 569.4,381.6 573.3,381.2 577.3,380.9 581.3,380.5 585.3,380.1 589.3,379.7 593.2,378.8 597.2,377.4 601.2,375.9 605.2,374.2 609.2,372.4 613.1,370.6 617.1,368.7 621.1,366.8 625.1,365.0 629.1,363.3 633.1,361.8 637.0,360.4 641.0,359.3 645.0,358.5 645.0,403.3 641.0,404.6 637.0,406.2 633.1,408.0 629.1,410.0 625.1,412.1 621.1,414.4 617.1,416.7 613.1,419.1 609.2,421.4 605.2,423.7 601.2,425.8 597.2,427.8 593.2,429.6 589.3,431.0 585.3,431.4 581.3,431.9 577.3,432.3 573.3,432.8 569.4,433.2 565.4,433.6 561.4,434.0 557.4,434.5 553.4,434.9 549.4,435.2 545.5,435.6 541.5,436.0 537.5,436.4 533.5,436.7 529.5,437.1 525.6,437.4 521.6,437.8 517.6,438.1 513.6,438.4 509.6,438.7 505.6,439.0 501.7,439.3 497.7,439.5 493.7,439.8 489.7,440.0 485.7,440.3 481.8,440.5 477.8,440.7 473.8,440.9 469.8,441.1 465.8,441.3 461.9,441.4 457.9,441.6 453.9,441.7 449.9,441.8 445.9,441.9 441.9,442.0 438.0,442.1 434.0,442.2 430.0,442.2 426.0,442.2 422.0,442.1 418.1,442.0 414.1,441.9 410.1,441.8 406.1,441.7 402.1,441.6 398.1,441.4 394.2,441.3 390.2,441.1 386.2,440.9 382.2,440.7 378.2,440.5 374.3,440.3 370.3,440.0 366.3,439.8 362.3,439.5 358.3,439.3 354.4,439.0 350.4,438.7 346.4,438.4 342.4,438.1 338.4,437.8 334.4,437.4 330.5,437.1 326.5,436.7 322.5,436.4 318.5,436.0 314.5,435.6 310.6,435.2 306.6,434.9 302.6,434.5 298.6,434.0 294.6,433.6 290.6,433.2 286.7,432.8 282.7,432.3 278.7,431.9 274.7,431.4 270.7,431.0 266.8,429.6 262.8,427.8 258.8,425.8 254.8,423.7 250.8,421.4 246.9,419.1 242.9,416.7 238.9,414.4 234.9,412.1 230.9,410.0 226.9,408.0 223.0,406.2 219.0,404.6 215.0,403.3Z" fill="url(#g34)" filter="url(#b20_23p1)"/>
<path d="M100.0,178.6 104.0,178.6 108.0,178.6 112.0,178.6 116.0,178.6 120.0,178.6 124.0,178.6 128.0,178.6 132.0,178.6 136.0,178.6 140.0,178.5 144.0,178.5 148.0,178.5 152.0,178.4 156.0,178.4 160.0,178.3 164.0,178.2 168.0,178.2 172.0,178.1 176.0,178.0 180.0,177.9 184.0,177.6 188.0,177.3 192.0,177.1 196.0,176.8 200.0,176.4 204.0,176.1 208.0,175.7 212.0,175.2 216.0,174.6 220.0,173.4 224.0,172.3 228.0,171.0 232.0,169.6 236.0,168.1 240.0,166.6 244.0,164.8 248.0,163.0 252.0,161.1 256.0,159.1 260.0,156.9 264.0,154.5 268.0,152.1 272.0,149.4 276.0,146.5 280.0,143.5 284.0,140.7 288.0,138.3 292.0,136.6 292.0,172.6 288.0,174.0 284.0,176.0 280.0,178.4 276.0,181.0 272.0,183.6 268.0,186.0 264.0,187.8 260.0,189.3 256.0,190.5 252.0,191.6 248.0,192.5 244.0,193.4 240.0,194.2 236.0,195.0 232.0,195.7 228.0,196.3 224.0,196.8 220.0,197.2 216.0,197.5 212.0,197.9 208.0,198.2 204.0,198.5 200.0,198.7 196.0,198.9 192.0,199.1 188.0,199.2 184.0,199.3 180.0,199.5 176.0,199.6 172.0,199.7 168.0,199.8 164.0,199.8 160.0,199.9 156.0,200.0 152.0,200.0 148.0,200.1 144.0,200.1 140.0,200.1 136.0,200.2 132.0,200.2 128.0,200.2 124.0,200.2 120.0,200.2 116.0,200.2 112.0,200.2 108.0,200.2 104.0,200.2 100.0,200.2Z" fill="url(#g35)" filter="url(#b10p4_16p5)"/><path d="M100.0,182.2 104.0,182.2 108.0,182.2 112.0,182.2 116.0,182.2 120.0,182.2 124.0,182.2 128.0,182.2 132.0,182.2 136.0,182.2 140.0,182.1 144.0,182.1 148.0,182.1 152.0,182.0 156.0,182.0 160.0,181.9 164.0,181.8 168.0,181.8 172.0,181.7 176.0,181.6 180.0,181.5 184.0,181.2 188.0,181.0 192.0,180.7 196.0,180.5 200.0,180.2 204.0,179.8 208.0,179.4 212.0,179.0 216.0,178.4 220.0,177.4 224.0,176.3 228.0,175.2 232.0,174.0 236.0,172.6 240.0,171.2 244.0,169.6 248.0,167.9 252.0,166.2 256.0,164.3 260.0,162.3 264.0,160.0 268.0,157.8 272.0,155.1 276.0,152.2 280.0,149.3 284.0,146.6 288.0,144.3 292.0,142.6 292.0,166.6 288.0,168.0 284.0,170.1 280.0,172.6 276.0,175.3 272.0,177.9 268.0,180.3 264.0,182.3 260.0,183.9 256.0,185.3 252.0,186.5 248.0,187.6 244.0,188.6 240.0,189.6 236.0,190.5 232.0,191.3 228.0,192.1 224.0,192.7 220.0,193.2 216.0,193.7 212.0,194.1 208.0,194.5 204.0,194.8 200.0,195.0 196.0,195.2 192.0,195.4 188.0,195.6 184.0,195.7 180.0,195.9 176.0,196.0 172.0,196.1 168.0,196.2 164.0,196.2 160.0,196.3 156.0,196.4 152.0,196.4 148.0,196.5 144.0,196.5 140.0,196.5 136.0,196.6 132.0,196.6 128.0,196.6 124.0,196.6 120.0,196.6 116.0,196.6 112.0,196.6 108.0,196.6 104.0,196.6 100.0,196.6Z" fill="url(#g36)" filter="url(#b8_8p2)"/>
<path d="M570.0,134.1 574.0,135.9 577.9,138.1 581.9,140.7 585.8,143.5 589.8,146.3 593.8,149.0 597.7,151.5 601.7,153.8 605.6,156.0 609.6,158.2 613.5,160.3 617.5,162.3 621.5,164.2 625.4,165.9 629.4,167.3 633.3,168.6 637.3,169.7 641.2,170.7 645.2,171.6 649.2,172.6 653.1,173.1 657.1,173.6 661.0,174.1 665.0,174.5 669.0,175.0 672.9,175.4 676.9,175.8 680.8,176.2 684.8,176.6 688.8,177.0 692.7,177.3 696.7,177.6 700.6,177.9 704.6,178.2 708.5,178.4 712.5,178.5 716.5,178.5 720.4,178.5 724.4,178.6 728.3,178.6 732.3,178.6 736.2,178.6 740.2,178.6 744.2,178.6 748.1,178.6 752.1,178.6 756.0,178.6 760.0,178.6 760.0,200.2 756.0,200.2 752.1,200.2 748.1,200.2 744.2,200.2 740.2,200.2 736.2,200.2 732.3,200.2 728.3,200.2 724.4,200.2 720.4,200.1 716.5,200.1 712.5,200.1 708.5,200.0 704.6,199.8 700.6,199.5 696.7,199.4 692.7,199.2 688.8,199.1 684.8,198.9 680.8,198.7 676.9,198.5 672.9,198.3 669.0,198.1 665.0,197.8 661.0,197.5 657.1,197.3 653.1,197.0 649.2,196.6 645.2,196.1 641.2,195.5 637.3,194.9 633.3,194.2 629.4,193.3 625.4,192.2 621.5,191.2 617.5,190.1 613.5,188.8 609.6,187.4 605.6,185.9 601.7,184.3 597.7,182.7 593.8,180.9 589.8,178.9 585.8,176.7 581.9,174.6 577.9,172.7 574.0,171.2 570.0,170.1Z" fill="url(#g37)" filter="url(#b9p1_16p3)"/><path d="M570.0,140.1 574.0,141.7 577.9,143.9 581.9,146.3 585.8,149.0 589.8,151.7 593.8,154.3 597.7,156.7 601.7,158.9 605.6,161.0 609.6,163.1 613.5,165.1 617.5,166.9 621.5,168.7 625.4,170.3 629.4,171.6 633.3,172.8 637.3,173.9 641.2,174.8 645.2,175.7 649.2,176.6 653.1,177.1 657.1,177.5 661.0,178.0 665.0,178.4 669.0,178.8 672.9,179.2 676.9,179.6 680.8,180.0 684.8,180.3 688.8,180.6 692.7,181.0 696.7,181.2 700.6,181.5 704.6,181.8 708.5,182.0 712.5,182.1 716.5,182.1 720.4,182.1 724.4,182.2 728.3,182.2 732.3,182.2 736.2,182.2 740.2,182.2 744.2,182.2 748.1,182.2 752.1,182.2 756.0,182.2 760.0,182.2 760.0,196.6 756.0,196.6 752.1,196.6 748.1,196.6 744.2,196.6 740.2,196.6 736.2,196.6 732.3,196.6 728.3,196.6 724.4,196.6 720.4,196.5 716.5,196.5 712.5,196.5 708.5,196.4 704.6,196.2 700.6,195.9 696.7,195.7 692.7,195.6 688.8,195.4 684.8,195.2 680.8,195.0 676.9,194.7 672.9,194.5 669.0,194.2 665.0,193.9 661.0,193.6 657.1,193.3 653.1,193.0 649.2,192.6 645.2,192.0 641.2,191.4 637.3,190.7 633.3,189.9 629.4,189.0 625.4,187.8 621.5,186.7 617.5,185.4 613.5,184.0 609.6,182.5 605.6,180.9 601.7,179.2 597.7,177.5 593.8,175.6 589.8,173.5 585.8,171.2 581.9,169.0 577.9,167.0 574.0,165.3 570.0,164.1Z" fill="url(#g38)" filter="url(#b7_8p1)"/>
<path d="M258.0,143.8 262.0,142.3 266.0,140.3 270.0,137.8 274.0,135.3 278.0,133.0 282.0,131.1 286.0,129.3 290.0,127.9 294.0,126.7 298.0,125.7 302.0,124.8 306.0,124.0 310.0,123.4 314.0,122.9 318.0,122.3 322.0,122.2 326.0,122.0 330.0,121.9 334.0,121.8 338.0,121.6 342.0,121.5 346.0,121.4 350.0,121.3 354.0,121.1 358.0,121.0 362.0,120.9 366.0,120.8 370.0,120.6 374.0,120.5 378.0,120.4 382.0,120.3 386.0,120.2 390.0,120.1 394.0,120.0 398.0,119.9 402.0,119.8 406.0,119.7 410.0,119.5 414.0,119.4 418.0,119.3 422.0,119.3 426.0,119.2 430.0,119.1 434.0,119.0 438.0,118.9 442.0,118.8 446.0,118.7 450.0,118.6 454.0,118.4 458.0,118.3 462.0,118.2 466.0,118.1 470.0,118.0 474.0,117.9 478.0,117.9 482.0,118.0 486.0,118.0 490.0,118.1 494.0,118.2 498.0,118.3 502.0,118.4 506.0,118.5 510.0,118.7 514.0,118.9 518.0,119.0 522.0,119.2 526.0,119.3 530.0,119.5 534.0,119.6 538.0,119.9 542.0,120.3 546.0,120.7 550.0,121.3 554.0,122.9 558.0,124.8 562.0,127.0 566.0,129.3 570.0,131.7 574.0,134.4 578.0,137.4 582.0,140.5 586.0,143.1 590.0,145.0 590.0,173.8 586.0,172.4 582.0,170.2 578.0,167.7 574.0,165.1 570.0,162.9 566.0,160.8 562.0,158.7 558.0,156.7 554.0,155.1 550.0,153.7 546.0,153.1 542.0,152.7 538.0,152.3 534.0,152.0 530.0,151.9 526.0,151.7 522.0,151.6 518.0,151.4 514.0,151.3 510.0,151.1 506.0,150.9 502.0,150.8 498.0,150.7 494.0,150.6 490.0,150.5 486.0,150.4 482.0,150.4 478.0,150.3 474.0,150.3 470.0,150.4 466.0,150.5 462.0,150.6 458.0,150.7 454.0,150.8 450.0,151.0 446.0,151.1 442.0,151.2 438.0,151.3 434.0,151.4 430.0,151.5 426.0,151.6 422.0,151.7 418.0,151.7 414.0,151.8 410.0,151.9 406.0,152.1 402.0,152.2 398.0,152.3 394.0,152.4 390.0,152.5 386.0,152.6 382.0,152.7 378.0,152.8 374.0,152.9 370.0,153.0 366.0,153.2 362.0,153.3 358.0,153.4 354.0,153.5 350.0,153.7 346.0,153.8 342.0,153.9 338.0,154.0 334.0,154.2 330.0,154.3 326.0,154.4 322.0,154.6 318.0,154.7 314.0,155.3 310.0,155.8 306.0,156.4 302.0,157.2 298.0,158.1 294.0,159.1 290.0,160.3 286.0,161.7 282.0,163.5 278.0,165.2 274.0,167.3 270.0,169.6 266.0,171.9 262.0,173.7 258.0,175.0Z" fill="url(#g39)" filter="url(#b11p7_19p9)"/><path d="M258.0,149.0 262.0,147.6 266.0,145.5 270.0,143.1 274.0,140.6 278.0,138.3 282.0,136.5 286.0,134.7 290.0,133.3 294.0,132.1 298.0,131.1 302.0,130.2 306.0,129.4 310.0,128.8 314.0,128.3 318.0,127.7 322.0,127.6 326.0,127.4 330.0,127.3 334.0,127.2 338.0,127.0 342.0,126.9 346.0,126.8 350.0,126.7 354.0,126.5 358.0,126.4 362.0,126.3 366.0,126.2 370.0,126.0 374.0,125.9 378.0,125.8 382.0,125.7 386.0,125.6 390.0,125.5 394.0,125.4 398.0,125.3 402.0,125.2 406.0,125.1 410.0,124.9 414.0,124.8 418.0,124.7 422.0,124.7 426.0,124.6 430.0,124.5 434.0,124.4 438.0,124.3 442.0,124.2 446.0,124.1 450.0,124.0 454.0,123.8 458.0,123.7 462.0,123.6 466.0,123.5 470.0,123.4 474.0,123.3 478.0,123.3 482.0,123.4 486.0,123.4 490.0,123.5 494.0,123.6 498.0,123.7 502.0,123.8 506.0,123.9 510.0,124.1 514.0,124.3 518.0,124.4 522.0,124.6 526.0,124.7 530.0,124.9 534.0,125.0 538.0,125.3 542.0,125.7 546.0,126.1 550.0,126.7 554.0,128.3 558.0,130.1 562.0,132.3 566.0,134.6 570.0,136.9 574.0,139.5 578.0,142.5 582.0,145.4 586.0,148.0 590.0,149.8 590.0,169.0 586.0,167.5 582.0,165.3 578.0,162.6 574.0,160.0 570.0,157.7 566.0,155.5 562.0,153.4 558.0,151.4 554.0,149.7 550.0,148.3 546.0,147.7 542.0,147.3 538.0,146.9 534.0,146.6 530.0,146.5 526.0,146.3 522.0,146.2 518.0,146.0 514.0,145.9 510.0,145.7 506.0,145.5 502.0,145.4 498.0,145.3 494.0,145.2 490.0,145.1 486.0,145.0 482.0,145.0 478.0,144.9 474.0,144.9 470.0,145.0 466.0,145.1 462.0,145.2 458.0,145.3 454.0,145.4 450.0,145.6 446.0,145.7 442.0,145.8 438.0,145.9 434.0,146.0 430.0,146.1 426.0,146.2 422.0,146.3 418.0,146.3 414.0,146.4 410.0,146.5 406.0,146.7 402.0,146.8 398.0,146.9 394.0,147.0 390.0,147.1 386.0,147.2 382.0,147.3 378.0,147.4 374.0,147.5 370.0,147.6 366.0,147.8 362.0,147.9 358.0,148.0 354.0,148.1 350.0,148.3 346.0,148.4 342.0,148.5 338.0,148.6 334.0,148.8 330.0,148.9 326.0,149.0 322.0,149.2 318.0,149.3 314.0,149.9 310.0,150.4 306.0,151.0 302.0,151.8 298.0,152.7 294.0,153.7 290.0,154.9 286.0,156.3 282.0,158.1 278.0,159.8 274.0,162.0 270.0,164.3 266.0,166.6 262.0,168.5 258.0,169.8Z" fill="url(#g40)" filter="url(#b9_10)"/>
<path d="M100.0,232.5 104.0,232.5 108.0,232.5 112.0,232.5 116.0,232.5 120.0,232.5 124.0,232.5 128.0,232.5 132.0,232.5 136.0,232.5 140.0,232.5 144.0,232.5 148.0,232.5 152.0,232.5 156.0,232.5 160.0,232.5 164.0,232.5 168.0,232.5 172.0,232.5 176.0,232.5 180.0,232.5 184.0,232.5 188.0,232.5 192.0,232.5 196.0,232.5 200.0,232.5 204.0,232.5 208.0,232.5 212.0,232.5 216.0,232.5 220.0,232.5 224.0,232.5 228.0,232.5 232.0,232.5 232.0,240.2 228.0,240.2 224.0,240.2 220.0,240.2 216.0,240.2 212.0,240.2 208.0,240.2 204.0,240.2 200.0,240.2 196.0,240.2 192.0,240.2 188.0,240.2 184.0,240.2 180.0,240.2 176.0,240.2 172.0,240.2 168.0,240.2 164.0,240.2 160.0,240.2 156.0,240.2 152.0,240.2 148.0,240.2 144.0,240.2 140.0,240.2 136.0,240.2 132.0,240.2 128.0,240.2 124.0,240.2 120.0,240.2 116.0,240.2 112.0,240.2 108.0,240.2 104.0,240.2 100.0,240.2Z" fill="url(#g41)" filter="url(#b6p5_4p8)"/><path d="M100.0,233.8 104.0,233.8 108.0,233.8 112.0,233.8 116.0,233.8 120.0,233.8 124.0,233.8 128.0,233.8 132.0,233.8 136.0,233.8 140.0,233.8 144.0,233.8 148.0,233.8 152.0,233.8 156.0,233.8 160.0,233.8 164.0,233.8 168.0,233.8 172.0,233.8 176.0,233.8 180.0,233.8 184.0,233.8 188.0,233.8 192.0,233.8 196.0,233.8 200.0,233.8 204.0,233.8 208.0,233.8 212.0,233.8 216.0,233.8 220.0,233.8 224.0,233.8 228.0,233.8 232.0,233.8 232.0,238.9 228.0,238.9 224.0,238.9 220.0,238.9 216.0,238.9 212.0,238.9 208.0,238.9 204.0,238.9 200.0,238.9 196.0,238.9 192.0,238.9 188.0,238.9 184.0,238.9 180.0,238.9 176.0,238.9 172.0,238.9 168.0,238.9 164.0,238.9 160.0,238.9 156.0,238.9 152.0,238.9 148.0,238.9 144.0,238.9 140.0,238.9 136.0,238.9 132.0,238.9 128.0,238.9 124.0,238.9 120.0,238.9 116.0,238.9 112.0,238.9 108.0,238.9 104.0,238.9 100.0,238.9Z" fill="url(#g42)" filter="url(#b5_2p4)"/>
<path d="M632.0,232.5 636.0,232.5 640.0,232.5 644.0,232.5 648.0,232.5 652.0,232.5 656.0,232.5 660.0,232.5 664.0,232.5 668.0,232.5 672.0,232.5 676.0,232.5 680.0,232.5 684.0,232.5 688.0,232.5 692.0,232.5 696.0,232.5 700.0,232.5 704.0,232.5 708.0,232.5 712.0,232.5 716.0,232.5 720.0,232.5 724.0,232.5 728.0,232.5 732.0,232.5 736.0,232.5 740.0,232.5 744.0,232.5 748.0,232.5 752.0,232.5 756.0,232.5 760.0,232.5 760.0,240.2 756.0,240.2 752.0,240.2 748.0,240.2 744.0,240.2 740.0,240.2 736.0,240.2 732.0,240.2 728.0,240.2 724.0,240.2 720.0,240.2 716.0,240.2 712.0,240.2 708.0,240.2 704.0,240.2 700.0,240.2 696.0,240.2 692.0,240.2 688.0,240.2 684.0,240.2 680.0,240.2 676.0,240.2 672.0,240.2 668.0,240.2 664.0,240.2 660.0,240.2 656.0,240.2 652.0,240.2 648.0,240.2 644.0,240.2 640.0,240.2 636.0,240.2 632.0,240.2Z" fill="url(#g43)" filter="url(#b6p5_4p8)"/><path d="M632.0,233.8 636.0,233.8 640.0,233.8 644.0,233.8 648.0,233.8 652.0,233.8 656.0,233.8 660.0,233.8 664.0,233.8 668.0,233.8 672.0,233.8 676.0,233.8 680.0,233.8 684.0,233.8 688.0,233.8 692.0,233.8 696.0,233.8 700.0,233.8 704.0,233.8 708.0,233.8 712.0,233.8 716.0,233.8 720.0,233.8 724.0,233.8 728.0,233.8 732.0,233.8 736.0,233.8 740.0,233.8 744.0,233.8 748.0,233.8 752.0,233.8 756.0,233.8 760.0,233.8 760.0,238.9 756.0,238.9 752.0,238.9 748.0,238.9 744.0,238.9 740.0,238.9 736.0,238.9 732.0,238.9 728.0,238.9 724.0,238.9 720.0,238.9 716.0,238.9 712.0,238.9 708.0,238.9 704.0,238.9 700.0,238.9 696.0,238.9 692.0,238.9 688.0,238.9 684.0,238.9 680.0,238.9 676.0,238.9 672.0,238.9 668.0,238.9 664.0,238.9 660.0,238.9 656.0,238.9 652.0,238.9 648.0,238.9 644.0,238.9 640.0,238.9 636.0,238.9 632.0,238.9Z" fill="url(#g44)" filter="url(#b5_2p4)"/>
<path d="M100.0,285.1 104.0,285.1 108.0,285.1 112.0,285.1 116.0,285.1 120.0,285.1 124.0,285.1 128.0,285.1 132.0,285.1 136.0,285.1 140.0,285.1 144.0,285.1 148.0,285.1 152.0,285.1 156.0,285.1 160.0,285.1 164.0,285.1 168.0,285.1 172.0,285.1 176.0,285.1 180.0,285.1 184.0,285.1 188.0,285.1 192.0,285.1 196.0,285.1 200.0,285.2 204.0,285.2 208.0,285.3 212.0,285.4 216.0,285.5 220.0,285.7 224.0,285.8 228.0,286.0 232.0,286.1 232.0,293.7 228.0,293.6 224.0,293.5 220.0,293.3 216.0,293.2 212.0,293.1 208.0,293.0 204.0,292.9 200.0,292.8 196.0,292.8 192.0,292.8 188.0,292.7 184.0,292.7 180.0,292.7 176.0,292.7 172.0,292.7 168.0,292.7 164.0,292.7 160.0,292.7 156.0,292.7 152.0,292.8 148.0,292.8 144.0,292.8 140.0,292.8 136.0,292.8 132.0,292.8 128.0,292.8 124.0,292.8 120.0,292.8 116.0,292.8 112.0,292.8 108.0,292.8 104.0,292.8 100.0,292.8Z" fill="url(#g45)" filter="url(#b6p5_4p8)"/><path d="M100.0,286.4 104.0,286.4 108.0,286.4 112.0,286.4 116.0,286.4 120.0,286.4 124.0,286.4 128.0,286.4 132.0,286.4 136.0,286.4 140.0,286.4 144.0,286.4 148.0,286.4 152.0,286.4 156.0,286.3 160.0,286.3 164.0,286.3 168.0,286.3 172.0,286.3 176.0,286.3 180.0,286.3 184.0,286.3 188.0,286.3 192.0,286.4 196.0,286.4 200.0,286.4 204.0,286.5 208.0,286.6 212.0,286.7 216.0,286.8 220.0,286.9 224.0,287.1 228.0,287.2 232.0,287.3 232.0,292.5 228.0,292.4 224.0,292.2 220.0,292.1 216.0,291.9 212.0,291.8 208.0,291.7 204.0,291.6 200.0,291.6 196.0,291.5 192.0,291.5 188.0,291.5 184.0,291.5 180.0,291.5 176.0,291.5 172.0,291.5 168.0,291.5 164.0,291.5 160.0,291.5 156.0,291.5 152.0,291.5 148.0,291.5 144.0,291.5 140.0,291.5 136.0,291.5 132.0,291.5 128.0,291.5 124.0,291.5 120.0,291.5 116.0,291.5 112.0,291.5 108.0,291.5 104.0,291.5 100.0,291.5Z" fill="url(#g46)" filter="url(#b5_2p4)"/>
<path d="M632.0,286.1 636.0,286.0 640.0,285.8 644.0,285.7 648.0,285.6 652.0,285.5 656.0,285.5 660.0,285.4 664.0,285.4 668.0,285.3 672.0,285.3 676.0,285.2 680.0,285.2 684.0,285.1 688.0,285.1 692.0,285.1 696.0,285.1 700.0,285.1 704.0,285.1 708.0,285.1 712.0,285.1 716.0,285.1 720.0,285.1 724.0,285.1 728.0,285.1 732.0,285.1 736.0,285.1 740.0,285.1 744.0,285.1 748.0,285.1 752.0,285.1 756.0,285.1 760.0,285.1 760.0,292.8 756.0,292.8 752.0,292.8 748.0,292.8 744.0,292.8 740.0,292.8 736.0,292.8 732.0,292.8 728.0,292.8 724.0,292.8 720.0,292.8 716.0,292.8 712.0,292.7 708.0,292.7 704.0,292.7 700.0,292.7 696.0,292.7 692.0,292.8 688.0,292.8 684.0,292.8 680.0,292.8 676.0,292.9 672.0,292.9 668.0,293.0 664.0,293.0 660.0,293.1 656.0,293.1 652.0,293.2 648.0,293.2 644.0,293.3 640.0,293.5 636.0,293.6 632.0,293.7Z" fill="url(#g47)" filter="url(#b6p5_4p8)"/><path d="M632.0,287.3 636.0,287.2 640.0,287.1 644.0,286.9 648.0,286.8 652.0,286.8 656.0,286.7 660.0,286.7 664.0,286.6 668.0,286.6 672.0,286.5 676.0,286.5 680.0,286.4 684.0,286.4 688.0,286.4 692.0,286.4 696.0,286.3 700.0,286.3 704.0,286.3 708.0,286.3 712.0,286.3 716.0,286.4 720.0,286.4 724.0,286.4 728.0,286.4 732.0,286.4 736.0,286.4 740.0,286.4 744.0,286.4 748.0,286.4 752.0,286.4 756.0,286.4 760.0,286.4 760.0,291.5 756.0,291.5 752.0,291.5 748.0,291.5 744.0,291.5 740.0,291.5 736.0,291.5 732.0,291.5 728.0,291.5 724.0,291.5 720.0,291.5 716.0,291.5 712.0,291.5 708.0,291.5 704.0,291.5 700.0,291.5 696.0,291.5 692.0,291.5 688.0,291.5 684.0,291.5 680.0,291.6 676.0,291.6 672.0,291.7 668.0,291.7 664.0,291.8 660.0,291.8 656.0,291.9 652.0,291.9 648.0,292.0 644.0,292.1 640.0,292.2 636.0,292.4 632.0,292.5Z" fill="url(#g48)" filter="url(#b5_2p4)"/>
<path d="M212.0,359.2 216.0,356.4 220.0,352.4 224.0,348.0 228.0,343.8 232.0,339.5 236.0,335.0 240.0,330.1 244.0,325.1 248.0,319.5 252.0,314.2 256.0,309.8 260.0,306.7 264.0,303.9 268.0,301.3 272.0,299.0 276.0,297.2 280.0,296.1 284.0,295.2 288.0,294.4 292.0,293.7 296.0,293.0 300.0,292.4 304.0,291.9 308.0,291.4 312.0,291.0 316.0,290.9 320.0,290.7 324.0,290.6 328.0,290.5 332.0,290.4 336.0,290.3 340.0,290.2 344.0,290.1 348.0,290.0 352.0,289.9 356.0,289.8 360.0,289.7 364.0,289.7 368.0,289.6 372.0,289.5 376.0,289.5 380.0,289.4 384.0,289.3 388.0,289.3 392.0,289.2 396.0,289.1 400.0,289.1 404.0,289.0 408.0,288.9 412.0,288.8 416.0,288.8 420.0,288.7 424.0,288.6 428.0,288.5 432.0,288.4 436.0,288.3 440.0,288.2 444.0,288.1 448.0,288.0 452.0,287.9 456.0,287.7 460.0,287.6 464.0,287.5 468.0,287.3 472.0,287.2 476.0,287.1 480.0,286.9 484.0,286.8 488.0,286.7 492.0,286.6 496.0,286.4 500.0,286.3 504.0,286.2 508.0,286.2 512.0,286.1 516.0,286.0 520.0,285.9 524.0,285.9 528.0,285.9 532.0,285.9 536.0,285.9 540.0,285.9 544.0,285.9 548.0,286.0 552.0,286.0 556.0,286.1 560.0,286.2 564.0,287.0 568.0,288.0 572.0,289.3 576.0,290.8 580.0,292.5 584.0,294.4 588.0,296.4 592.0,299.3 596.0,303.7 600.0,308.5 604.0,313.4 608.0,317.9 612.0,323.3 616.0,328.5 620.0,333.6 624.0,338.2 628.0,342.8 632.0,347.4 636.0,351.5 640.0,354.4 640.0,383.2 636.0,380.8 632.0,377.3 628.0,373.2 624.0,369.2 620.0,365.1 616.0,360.7 612.0,356.3 608.0,351.5 604.0,347.0 600.0,342.1 596.0,337.3 592.0,332.9 588.0,330.0 584.0,328.0 580.0,326.1 576.0,324.4 572.0,322.9 568.0,321.6 564.0,320.6 560.0,319.8 556.0,319.7 552.0,319.6 548.0,319.6 544.0,319.5 540.0,319.5 536.0,319.5 532.0,319.5 528.0,319.5 524.0,319.5 520.0,319.5 516.0,319.6 512.0,319.7 508.0,319.8 504.0,319.8 500.0,319.9 496.0,320.0 492.0,320.2 488.0,320.3 484.0,320.4 480.0,320.5 476.0,320.7 472.0,320.8 468.0,320.9 464.0,321.1 460.0,321.2 456.0,321.3 452.0,321.5 448.0,321.6 444.0,321.7 440.0,321.8 436.0,321.9 432.0,322.0 428.0,322.1 424.0,322.2 420.0,322.3 416.0,322.4 412.0,322.4 408.0,322.5 404.0,322.6 400.0,322.7 396.0,322.7 392.0,322.8 388.0,322.9 384.0,322.9 380.0,323.0 376.0,323.1 372.0,323.1 368.0,323.2 364.0,323.3 360.0,323.3 356.0,323.4 352.0,323.5 348.0,323.6 344.0,323.7 340.0,323.8 336.0,323.9 332.0,324.0 328.0,324.1 324.0,324.2 320.0,324.3 316.0,324.5 312.0,324.6 308.0,325.0 304.0,325.5 300.0,326.0 296.0,326.6 292.0,327.3 288.0,328.0 284.0,328.8 280.0,329.7 276.0,330.8 272.0,332.6 268.0,334.9 264.0,337.5 260.0,340.3 256.0,343.4 252.0,347.8 248.0,353.1 244.0,358.7 240.0,363.7 236.0,367.9 232.0,371.7 228.0,375.3 224.0,378.9 220.0,382.6 216.0,385.9 212.0,388.0Z" fill="url(#g49)" filter="url(#b11p7_20p2)"/><path d="M212.0,364.0 216.0,361.3 220.0,357.4 224.0,353.2 228.0,349.0 232.0,344.9 236.0,340.5 240.0,335.7 244.0,330.7 248.0,325.1 252.0,319.8 256.0,315.4 260.0,312.3 264.0,309.5 268.0,306.9 272.0,304.6 276.0,302.8 280.0,301.7 284.0,300.8 288.0,300.0 292.0,299.3 296.0,298.6 300.0,298.0 304.0,297.5 308.0,297.0 312.0,296.6 316.0,296.5 320.0,296.3 324.0,296.2 328.0,296.1 332.0,296.0 336.0,295.9 340.0,295.8 344.0,295.7 348.0,295.6 352.0,295.5 356.0,295.4 360.0,295.3 364.0,295.3 368.0,295.2 372.0,295.1 376.0,295.1 380.0,295.0 384.0,294.9 388.0,294.9 392.0,294.8 396.0,294.7 400.0,294.7 404.0,294.6 408.0,294.5 412.0,294.4 416.0,294.4 420.0,294.3 424.0,294.2 428.0,294.1 432.0,294.0 436.0,293.9 440.0,293.8 444.0,293.7 448.0,293.6 452.0,293.5 456.0,293.3 460.0,293.2 464.0,293.1 468.0,292.9 472.0,292.8 476.0,292.7 480.0,292.5 484.0,292.4 488.0,292.3 492.0,292.2 496.0,292.0 500.0,291.9 504.0,291.8 508.0,291.8 512.0,291.7 516.0,291.6 520.0,291.5 524.0,291.5 528.0,291.5 532.0,291.5 536.0,291.5 540.0,291.5 544.0,291.5 548.0,291.6 552.0,291.6 556.0,291.7 560.0,291.8 564.0,292.6 568.0,293.6 572.0,294.9 576.0,296.4 580.0,298.1 584.0,300.0 588.0,302.0 592.0,304.9 596.0,309.3 600.0,314.1 604.0,319.0 608.0,323.5 612.0,328.8 616.0,333.9 620.0,338.8 624.0,343.4 628.0,347.9 632.0,352.4 636.0,356.3 640.0,359.2 640.0,378.4 636.0,375.9 632.0,372.3 628.0,368.2 624.0,364.0 620.0,359.8 616.0,355.3 612.0,350.8 608.0,345.9 604.0,341.4 600.0,336.5 596.0,331.7 592.0,327.3 588.0,324.4 584.0,322.4 580.0,320.5 576.0,318.8 572.0,317.3 568.0,316.0 564.0,315.0 560.0,314.2 556.0,314.1 552.0,314.0 548.0,314.0 544.0,313.9 540.0,313.9 536.0,313.9 532.0,313.9 528.0,313.9 524.0,313.9 520.0,313.9 516.0,314.0 512.0,314.1 508.0,314.2 504.0,314.2 500.0,314.3 496.0,314.4 492.0,314.6 488.0,314.7 484.0,314.8 480.0,314.9 476.0,315.1 472.0,315.2 468.0,315.3 464.0,315.5 460.0,315.6 456.0,315.7 452.0,315.9 448.0,316.0 444.0,316.1 440.0,316.2 436.0,316.3 432.0,316.4 428.0,316.5 424.0,316.6 420.0,316.7 416.0,316.8 412.0,316.8 408.0,316.9 404.0,317.0 400.0,317.1 396.0,317.1 392.0,317.2 388.0,317.3 384.0,317.3 380.0,317.4 376.0,317.5 372.0,317.5 368.0,317.6 364.0,317.7 360.0,317.7 356.0,317.8 352.0,317.9 348.0,318.0 344.0,318.1 340.0,318.2 336.0,318.3 332.0,318.4 328.0,318.5 324.0,318.6 320.0,318.7 316.0,318.9 312.0,319.0 308.0,319.4 304.0,319.9 300.0,320.4 296.0,321.0 292.0,321.7 288.0,322.4 284.0,323.2 280.0,324.1 276.0,325.2 272.0,327.0 268.0,329.3 264.0,331.9 260.0,334.7 256.0,337.8 252.0,342.2 248.0,347.5 244.0,353.1 240.0,358.1 236.0,362.4 232.0,366.4 228.0,370.1 224.0,373.7 220.0,377.5 216.0,380.9 212.0,383.2Z" fill="url(#g50)" filter="url(#b9_10p1)"/>
<path d="M230.0,305.9 234.0,306.0 238.0,306.3 242.0,306.7 246.0,307.2 250.0,307.9 254.0,308.5 258.0,309.2 262.0,309.8 266.0,310.4 270.0,310.8 274.0,310.9 278.0,311.1 282.0,311.3 286.0,311.4 290.0,311.6 294.0,311.8 298.0,312.0 302.0,312.2 306.0,312.3 310.0,312.5 314.0,312.7 318.0,312.9 322.0,313.1 326.0,313.3 330.0,313.5 334.0,313.6 338.0,313.8 342.0,314.0 346.0,314.1 350.0,314.3 354.0,314.5 358.0,314.6 362.0,314.8 366.0,314.9 370.0,315.0 374.0,315.2 378.0,315.3 382.0,315.4 386.0,315.5 390.0,315.6 394.0,315.6 398.0,315.7 402.0,315.7 406.0,315.8 410.0,315.8 414.0,315.8 418.0,315.8 422.0,315.8 426.0,315.7 430.0,315.7 434.0,315.7 438.0,315.8 442.0,315.8 446.0,315.8 450.0,315.8 454.0,315.8 458.0,315.7 462.0,315.7 466.0,315.6 470.0,315.6 474.0,315.5 478.0,315.4 482.0,315.3 486.0,315.2 490.0,315.0 494.0,314.9 498.0,314.8 502.0,314.6 506.0,314.5 510.0,314.3 514.0,314.1 518.0,314.0 522.0,313.8 526.0,313.6 530.0,313.5 534.0,313.3 538.0,313.1 542.0,312.9 546.0,312.7 550.0,312.5 554.0,312.3 558.0,312.2 562.0,312.0 566.0,311.8 570.0,311.6 574.0,311.4 578.0,311.3 582.0,311.1 586.0,310.9 590.0,310.8 594.0,310.4 598.0,309.8 602.0,309.2 606.0,308.5 610.0,307.9 614.0,307.2 618.0,306.7 622.0,306.3 626.0,306.0 630.0,305.9 630.0,358.7 626.0,359.7 622.0,361.0 618.0,362.4 614.0,363.9 610.0,365.5 606.0,367.1 602.0,368.7 598.0,370.3 594.0,371.8 590.0,373.2 586.0,373.5 582.0,373.7 578.0,374.0 574.0,374.3 570.0,374.6 566.0,374.9 562.0,375.2 558.0,375.5 554.0,375.8 550.0,376.1 546.0,376.4 542.0,376.7 538.0,377.0 534.0,377.3 530.0,377.7 526.0,377.9 522.0,378.2 518.0,378.5 514.0,378.8 510.0,379.1 506.0,379.4 502.0,379.7 498.0,379.9 494.0,380.2 490.0,380.4 486.0,380.7 482.0,380.9 478.0,381.1 474.0,381.3 470.0,381.6 466.0,381.7 462.0,381.9 458.0,382.1 454.0,382.3 450.0,382.4 446.0,382.5 442.0,382.6 438.0,382.7 434.0,382.8 430.0,382.9 426.0,382.8 422.0,382.7 418.0,382.6 414.0,382.5 410.0,382.4 406.0,382.3 402.0,382.1 398.0,381.9 394.0,381.7 390.0,381.6 386.0,381.3 382.0,381.1 378.0,380.9 374.0,380.7 370.0,380.4 366.0,380.2 362.0,379.9 358.0,379.7 354.0,379.4 350.0,379.1 346.0,378.8 342.0,378.5 338.0,378.2 334.0,377.9 330.0,377.7 326.0,377.3 322.0,377.0 318.0,376.7 314.0,376.4 310.0,376.1 306.0,375.8 302.0,375.5 298.0,375.2 294.0,374.9 290.0,374.6 286.0,374.3 282.0,374.0 278.0,373.7 274.0,373.5 270.0,373.2 266.0,371.8 262.0,370.3 258.0,368.7 254.0,367.1 250.0,365.5 246.0,363.9 242.0,362.4 238.0,361.0 234.0,359.7 230.0,358.7Z" fill="url(#g51)" filter="url(#b20p8_37p2)"/><path d="M230.0,314.7 234.0,314.9 238.0,315.4 242.0,316.0 246.0,316.7 250.0,317.5 254.0,318.3 258.0,319.1 262.0,319.9 266.0,320.6 270.0,321.2 274.0,321.4 278.0,321.5 282.0,321.7 286.0,321.9 290.0,322.1 294.0,322.3 298.0,322.5 302.0,322.7 306.0,322.9 310.0,323.1 314.0,323.3 318.0,323.5 322.0,323.7 326.0,323.9 330.0,324.2 334.0,324.3 338.0,324.5 342.0,324.7 346.0,324.9 350.0,325.1 354.0,325.3 358.0,325.5 362.0,325.6 366.0,325.8 370.0,325.9 374.0,326.1 378.0,326.2 382.0,326.3 386.0,326.4 390.0,326.6 394.0,326.6 398.0,326.7 402.0,326.8 406.0,326.9 410.0,326.9 414.0,326.9 418.0,326.9 422.0,326.9 426.0,326.9 430.0,326.9 434.0,326.9 438.0,326.9 442.0,326.9 446.0,326.9 450.0,326.9 454.0,326.9 458.0,326.8 462.0,326.7 466.0,326.6 470.0,326.6 474.0,326.4 478.0,326.3 482.0,326.2 486.0,326.1 490.0,325.9 494.0,325.8 498.0,325.6 502.0,325.5 506.0,325.3 510.0,325.1 514.0,324.9 518.0,324.7 522.0,324.5 526.0,324.3 530.0,324.2 534.0,323.9 538.0,323.7 542.0,323.5 546.0,323.3 550.0,323.1 554.0,322.9 558.0,322.7 562.0,322.5 566.0,322.3 570.0,322.1 574.0,321.9 578.0,321.7 582.0,321.5 586.0,321.4 590.0,321.2 594.0,320.6 598.0,319.9 602.0,319.1 606.0,318.3 610.0,317.5 614.0,316.7 618.0,316.0 622.0,315.4 626.0,314.9 630.0,314.7 630.0,349.9 626.0,350.8 622.0,351.9 618.0,353.1 614.0,354.4 610.0,355.9 606.0,357.3 602.0,358.8 598.0,360.2 594.0,361.6 590.0,362.8 586.0,363.0 582.0,363.3 578.0,363.6 574.0,363.8 570.0,364.1 566.0,364.4 562.0,364.7 558.0,365.0 554.0,365.2 550.0,365.5 546.0,365.8 542.0,366.1 538.0,366.4 534.0,366.7 530.0,367.0 526.0,367.2 522.0,367.5 518.0,367.8 514.0,368.0 510.0,368.3 506.0,368.6 502.0,368.8 498.0,369.1 494.0,369.3 490.0,369.5 486.0,369.8 482.0,370.0 478.0,370.2 474.0,370.4 470.0,370.6 466.0,370.7 462.0,370.9 458.0,371.0 454.0,371.2 450.0,371.3 446.0,371.4 442.0,371.5 438.0,371.6 434.0,371.6 430.0,371.7 426.0,371.6 422.0,371.6 418.0,371.5 414.0,371.4 410.0,371.3 406.0,371.2 402.0,371.0 398.0,370.9 394.0,370.7 390.0,370.6 386.0,370.4 382.0,370.2 378.0,370.0 374.0,369.8 370.0,369.5 366.0,369.3 362.0,369.1 358.0,368.8 354.0,368.6 350.0,368.3 346.0,368.0 342.0,367.8 338.0,367.5 334.0,367.2 330.0,367.0 326.0,366.7 322.0,366.4 318.0,366.1 314.0,365.8 310.0,365.5 306.0,365.2 302.0,365.0 298.0,364.7 294.0,364.4 290.0,364.1 286.0,363.8 282.0,363.6 278.0,363.3 274.0,363.0 270.0,362.8 266.0,361.6 262.0,360.2 258.0,358.8 254.0,357.3 250.0,355.9 246.0,354.4 242.0,353.1 238.0,351.9 234.0,350.8 230.0,349.9Z" fill="url(#g52)" filter="url(#b16_18p6)"/>
<path d="M205.0,367.7 208.9,366.1 212.8,363.7 216.8,361.1 220.7,358.7 224.6,356.6 228.5,354.8 232.5,353.1 236.4,351.3 240.3,349.3 244.2,346.8 248.2,344.0 252.1,341.5 256.0,339.7 256.0,363.7 252.1,365.5 248.2,368.0 244.2,370.8 240.3,373.3 236.4,374.8 232.5,376.1 228.5,377.3 224.6,378.6 220.7,380.3 216.8,382.7 212.8,385.3 208.9,387.7 205.0,389.3Z" fill="url(#g53)" filter="url(#b9p1_14p2)"/><path d="M205.0,371.3 208.9,369.7 212.8,367.3 216.8,364.7 220.7,362.3 224.6,360.3 228.5,358.5 232.5,356.9 236.4,355.2 240.3,353.3 244.2,350.8 248.2,348.0 252.1,345.5 256.0,343.7 256.0,359.7 252.1,361.5 248.2,364.0 244.2,366.8 240.3,369.3 236.4,370.9 232.5,372.2 228.5,373.5 224.6,374.9 220.7,376.7 216.8,379.1 212.8,381.7 208.9,384.1 205.0,385.7Z" fill="url(#g54)" filter="url(#b7_7p1)"/>
<path d="M606.0,337.3 609.9,339.5 613.7,342.7 617.6,346.0 621.4,348.7 625.3,350.6 629.1,352.1 633.0,353.6 636.9,355.1 640.7,356.8 644.6,358.6 648.4,360.5 652.3,362.4 656.1,364.1 660.0,365.3 660.0,386.9 656.1,385.7 652.3,384.0 648.4,382.1 644.6,380.2 640.7,378.4 636.9,377.1 633.0,376.1 629.1,375.1 625.3,374.0 621.4,372.7 617.6,370.0 613.7,366.7 609.9,363.5 606.0,361.3Z" fill="url(#g55)" filter="url(#b9p1_14p2)"/><path d="M606.0,341.3 609.9,343.5 613.7,346.7 617.6,350.0 621.4,352.7 625.3,354.5 629.1,356.0 633.0,357.3 636.9,358.8 640.7,360.4 644.6,362.2 648.4,364.1 652.3,366.0 656.1,367.7 660.0,368.9 660.0,383.3 656.1,382.1 652.3,380.4 648.4,378.5 644.6,376.6 640.7,374.8 636.9,373.4 633.0,372.3 629.1,371.3 625.3,370.1 621.4,368.7 617.6,366.0 613.7,362.7 609.9,359.5 606.0,357.3Z" fill="url(#g56)" filter="url(#b7_7p1)"/>
<path d="M100.0,371.2 104.0,371.3 108.0,371.4 112.0,371.5 116.0,371.6 120.0,371.6 124.0,371.5 128.0,371.3 132.0,370.8 136.0,370.4 140.0,370.0 144.0,369.5 148.0,368.9 152.0,368.3 156.0,367.6 160.0,366.9 164.0,366.2 168.0,365.5 172.0,364.8 176.0,364.2 180.0,363.6 184.0,363.1 188.0,362.6 192.0,361.9 196.0,361.3 200.0,361.0 204.0,360.9 208.0,360.6 212.0,360.4 216.0,360.3 220.0,360.2 224.0,360.2 228.0,360.3 232.0,360.3 236.0,360.5 240.0,360.8 240.0,376.8 236.0,377.8 232.0,379.0 228.0,380.3 224.0,381.6 220.0,382.9 216.0,384.4 212.0,386.0 208.0,387.6 204.0,388.7 200.0,389.7 196.0,390.9 192.0,392.2 188.0,393.7 184.0,394.3 180.0,395.1 176.0,395.9 172.0,396.7 168.0,397.6 164.0,398.5 160.0,399.5 156.0,400.4 152.0,401.3 148.0,402.1 144.0,402.9 140.0,403.6 136.0,404.2 132.0,404.8 128.0,405.3 124.0,405.5 120.0,405.6 116.0,405.6 112.0,405.5 108.0,405.4 104.0,405.3 100.0,405.2Z" fill="url(#g57)" filter="url(#b6_6)"/>
<path d="M615.0,352.5 618.9,352.4 622.8,352.5 626.8,352.9 630.7,353.5 634.6,354.0 638.5,354.7 642.4,355.5 646.4,356.3 650.3,357.0 654.2,357.6 658.1,358.1 662.0,358.3 665.9,358.5 669.9,358.8 673.8,359.5 677.7,360.1 681.6,360.7 685.5,361.4 689.5,362.2 693.4,363.1 697.3,363.9 701.2,364.8 705.1,365.7 709.1,366.5 713.0,367.2 716.9,367.9 720.8,368.4 724.7,368.8 728.6,369.3 732.6,369.6 736.5,369.7 740.4,369.7 744.3,369.7 748.2,369.5 752.2,369.4 756.1,369.3 760.0,369.3 760.0,403.3 756.1,403.3 752.2,403.4 748.2,403.5 744.3,403.7 740.4,403.7 736.5,403.7 732.6,403.6 728.6,403.3 724.7,402.8 720.8,402.2 716.9,401.4 713.0,400.5 709.1,399.5 705.1,398.5 701.2,397.4 697.3,396.3 693.4,395.2 689.5,394.1 685.5,393.1 681.6,392.2 677.7,391.3 673.8,390.5 669.9,388.9 665.9,387.8 662.0,386.8 658.1,385.8 654.2,384.4 650.3,383.1 646.4,381.6 642.4,380.0 638.5,378.5 634.6,377.0 630.7,375.6 626.8,373.6 622.8,371.7 618.9,369.9 615.0,368.5Z" fill="url(#g58)" filter="url(#b6_6)"/>
<path d="M100.0,378.7 104.0,378.8 108.0,378.9 112.0,379.0 116.0,379.1 120.0,379.1 124.0,379.0 128.0,378.8 132.0,378.3 136.0,377.9 140.0,377.5 144.0,376.9 148.0,376.3 152.0,375.6 156.0,374.9 160.0,374.2 164.0,373.4 168.0,372.7 172.0,371.9 176.0,371.3 180.0,370.6 184.0,370.1 188.0,369.6 192.0,368.8 196.0,368.2 200.0,367.9 204.0,367.7 208.0,367.4 212.0,367.2 216.0,367.2 220.0,367.3 224.0,367.4 228.0,367.7 228.0,374.7 224.0,375.7 220.0,376.9 216.0,378.2 212.0,379.4 208.0,380.8 204.0,382.1 200.0,383.0 196.0,384.0 192.0,385.3 188.0,386.7 184.0,387.3 180.0,388.0 176.0,388.7 172.0,389.5 168.0,390.4 164.0,391.3 160.0,392.2 156.0,393.1 152.0,393.9 148.0,394.7 144.0,395.5 140.0,396.2 136.0,396.8 132.0,397.3 128.0,397.8 124.0,398.0 120.0,398.1 116.0,398.1 112.0,398.0 108.0,397.9 104.0,397.8 100.0,397.7Z" fill="url(#g59)" filter="url(#b3p5_3p2)"/>
<path d="M645.0,365.8 649.0,365.6 652.9,365.7 656.9,365.8 660.9,366.0 664.8,366.1 668.8,366.1 672.8,366.2 676.7,367.2 680.7,367.7 684.7,368.4 688.6,369.2 692.6,370.1 696.6,371.1 700.5,372.1 704.5,373.0 708.4,374.0 712.4,374.9 716.4,375.6 720.3,376.3 724.3,376.8 728.3,377.3 732.2,377.6 736.2,377.7 740.2,377.8 744.1,377.7 748.1,377.5 752.1,377.4 756.0,377.3 760.0,377.3 760.0,395.3 756.0,395.3 752.1,395.4 748.1,395.5 744.1,395.7 740.2,395.8 736.2,395.7 732.2,395.6 728.3,395.3 724.3,394.7 720.3,394.1 716.4,393.3 712.4,392.3 708.4,391.3 704.5,390.2 700.5,389.1 696.6,387.9 692.6,386.8 688.6,385.8 684.7,384.8 680.7,383.9 676.7,383.2 672.8,381.6 668.8,380.8 664.8,380.1 660.9,378.7 656.9,377.4 652.9,375.9 649.0,374.2 645.0,372.8Z" fill="url(#g60)" filter="url(#b3p5_3p2)"/>
</g></g>
<line x1="132" y1="249.5" x2="724.8" y2="249.5" stroke="#757575" stroke-width="5.4" stroke-dasharray="22.4 10.4" stroke-dashoffset="-0.8"/>
<path d="M132.0,348.3 136.0,348.6 140.0,348.6 144.0,348.3 148.0,347.8 152.0,347.0 156.0,346.1 160.0,344.9 164.0,343.5 168.0,341.9 172.0,340.1 176.0,338.1 180.0,336.0 184.0,333.7 188.0,331.2 192.0,328.6 196.0,325.9 200.0,323.1 204.0,320.1 208.0,317.1 212.0,314.0 216.0,310.8 220.0,307.5 224.0,304.3 228.0,300.9 232.0,297.6 236.0,294.3 240.0,290.9 244.0,287.6 248.0,284.3 252.0,281.0 256.0,277.8 260.0,274.6 264.0,271.5 268.0,268.5 272.0,265.5 276.0,262.7 280.0,259.9 284.0,257.3 288.0,254.7 292.0,252.3 296.0,250.1 300.0,247.9 304.0,245.9 308.0,244.1 312.0,242.3 316.0,240.8 320.0,239.3 324.0,238.0 328.0,236.8 332.0,235.8 336.0,234.9 340.0,234.0 344.0,233.3 348.0,232.7 352.0,232.1 356.0,231.6 360.0,231.2 364.0,230.8 368.0,230.4 372.0,230.0 376.0,229.6 380.0,229.2 384.0,228.8 388.0,228.3 392.0,227.8 396.0,227.3 400.0,226.7 404.0,226.2 408.0,225.5 412.0,224.9 416.0,224.2 420.0,223.6 424.0,222.9 428.0,222.2 432.0,221.6 436.0,221.0 440.0,220.4 444.0,219.9 448.0,219.4 452.0,218.9 456.0,218.6 460.0,218.3 464.0,218.1 468.0,217.9 472.0,217.9 476.0,217.9 480.0,218.1 484.0,218.3 488.0,218.7 492.0,219.1 496.0,219.7 500.0,220.3 504.0,221.1 508.0,222.0 512.0,223.1 516.0,224.2 520.0,225.5 524.0,226.8 528.0,228.3 532.0,229.9 536.0,231.6 540.0,233.5 544.0,235.4 548.0,237.5 552.0,239.6 556.0,241.9 560.0,244.2 564.0,246.7 568.0,249.2 572.0,251.8 576.0,254.5 580.0,257.3 584.0,260.1 588.0,263.0 592.0,266.0 596.0,269.0 600.0,272.0 604.0,275.1 608.0,278.2 612.0,281.3 616.0,284.5 620.0,287.6 624.0,290.8 628.0,294.0 632.0,297.1 636.0,300.2 640.0,303.3 644.0,306.4 648.0,309.4 652.0,312.4 656.0,315.3 660.0,318.2 664.0,321.0 668.0,323.7 672.0,326.3 676.0,328.8 680.0,331.2 684.0,333.5 688.0,335.7 692.0,337.8 696.0,339.7 700.0,341.4 704.0,343.0 708.0,344.4 712.0,345.7 716.0,346.7 720.0,347.6 724.0,348.2 724.8,348.3" fill="none" stroke="#3e3f41" stroke-width="5.2" stroke-linejoin="round"/>
<line x1="724.8" y1="54.78" x2="821" y2="54.78" stroke="#b2b2b2" stroke-width="3"/>
<line x1="724.8" y1="152.14" x2="821" y2="152.14" stroke="#b2b2b2" stroke-width="3"/>
<line x1="724.8" y1="249.5" x2="821" y2="249.5" stroke="#b2b2b2" stroke-width="3"/>
<line x1="724.8" y1="346.86" x2="821" y2="346.86" stroke="#b2b2b2" stroke-width="3"/>
<line x1="724.8" y1="444.22" x2="821" y2="444.22" stroke="#b2b2b2" stroke-width="3"/>
<path d="M729.8,5.5 C729.8,5.77 729.73,2.2 729.8,7.1 C729.87,12 730,27.37 730.2,34.9 C730.4,42.43 730.38,47.47 731,52.3 C731.62,57.13 732.65,60.03 733.9,63.9 C735.15,67.77 736.57,71.65 738.5,75.5 C740.43,79.35 742.8,83.15 745.5,87 C748.2,90.85 751.03,94.73 754.7,98.6 C758.37,102.47 762.87,106.33 767.5,110.2 C772.13,114.07 777.3,117.93 782.5,121.8 C787.7,125.67 793.68,129.53 798.7,133.4 C803.72,137.27 809.6,141.33 812.6,145 C815.6,148.67 816.88,151.93 816.7,155.4 C816.52,158.87 815.65,161.75 811.5,165.8 C807.35,169.85 797.78,175.45 791.8,179.7 C785.82,183.95 780.23,187.45 775.6,191.3 C770.97,195.15 766.62,198.95 764,202.8 C761.38,206.65 760.67,210.53 759.9,214.4 C759.13,218.27 760.45,222.72 759.4,226 C758.35,229.28 755.67,231.77 753.6,234.1 C751.53,236.43 749.32,238.22 747,240 C744.68,241.78 741.98,242.97 739.7,244.8 C737.42,246.63 734.17,249.13 733.3,251 C732.43,252.87 733.25,253.93 734.5,256 C735.75,258.07 736.85,260.63 740.8,263.4 C744.75,266.17 752.4,269.72 758.2,272.6 C764,275.48 770.2,277.8 775.6,280.7 C781,283.6 786.93,286.13 790.6,290 C794.27,293.87 797.02,298.68 797.6,303.9 C798.18,309.12 795.65,315.52 794.1,321.3 C792.55,327.08 790.8,332.82 788.3,338.6 C785.8,344.38 782.38,350.2 779.1,356 C775.82,361.8 772.27,367.62 768.6,373.4 C764.93,379.18 760.95,384.92 757.1,390.7 C753.25,396.48 748.78,402.3 745.5,408.1 C742.22,413.9 739.53,419.72 737.4,425.5 C735.27,431.28 733.87,437.02 732.7,442.8 C731.53,448.58 730.97,452.47 730.4,460.2 C729.83,467.93 729.5,483.67 729.3,489.2 C729.1,494.73 729.22,492.7 729.2,493.4" fill="none" stroke="#ff7f0e" stroke-width="5.2" stroke-linejoin="round" clip-path="url(#clipLoc)"/>
<text x="740.2" y="44.6" font-size="36.5" textLength="59.5" lengthAdjust="spacingAndGlyphs">loc.</text>
<rect x="132" y="5.5" width="592.8" height="487.9" fill="none" stroke="#000" stroke-width="3.3" stroke-linejoin="miter"/>
<rect x="724.8" y="5.5" width="96.2" height="487.9" fill="none" stroke="#000" stroke-width="3.3"/>
<line x1="120.4" y1="54.78" x2="132" y2="54.78" stroke="#000" stroke-width="3.3" stroke-linecap="round"/>
<line x1="713.2" y1="54.78" x2="724.8" y2="54.78" stroke="#000" stroke-width="3.3" stroke-linecap="round"/>
<line x1="120.4" y1="152.14" x2="132" y2="152.14" stroke="#000" stroke-width="3.3" stroke-linecap="round"/>
<line x1="713.2" y1="152.14" x2="724.8" y2="152.14" stroke="#000" stroke-width="3.3" stroke-linecap="round"/>
<line x1="120.4" y1="249.5" x2="132" y2="249.5" stroke="#000" stroke-width="3.3" stroke-linecap="round"/>
<line x1="713.2" y1="249.5" x2="724.8" y2="249.5" stroke="#000" stroke-width="3.3" stroke-linecap="round"/>
<line x1="120.4" y1="346.86" x2="132" y2="346.86" stroke="#000" stroke-width="3.3" stroke-linecap="round"/>
<line x1="713.2" y1="346.86" x2="724.8" y2="346.86" stroke="#000" stroke-width="3.3" stroke-linecap="round"/>
<line x1="120.4" y1="444.22" x2="132" y2="444.22" stroke="#000" stroke-width="3.3" stroke-linecap="round"/>
<line x1="713.2" y1="444.22" x2="724.8" y2="444.22" stroke="#000" stroke-width="3.3" stroke-linecap="round"/>
<line x1="132" y1="493.4" x2="132" y2="505" stroke="#000" stroke-width="3.3" stroke-linecap="round"/>
<line x1="357" y1="493.4" x2="357" y2="505" stroke="#000" stroke-width="3.3" stroke-linecap="round"/>
<line x1="489.4" y1="493.4" x2="489.4" y2="505" stroke="#000" stroke-width="3.3" stroke-linecap="round"/>
<line x1="724.8" y1="493.4" x2="724.8" y2="505" stroke="#000" stroke-width="3.3" stroke-linecap="round"/>
<text transform="translate(86.48,65.53) scale(1.1020,1)" font-size="28.63">4</text>
<text transform="translate(84.93,162.89) scale(1.1048,1)" font-size="28.21">2</text>
<text transform="translate(85.12,259.98) scale(1.0826,1)" font-size="27.82">0</text>
<text transform="translate(84.93,357.61) scale(1.1048,1)" font-size="28.21">2</text>
<rect x="65.2" y="346.01" width="18.4" height="2.7" fill="#000"/>
<text transform="translate(85.29,454.97) scale(1.0812,1)" font-size="28.63">4</text>
<rect x="65.2" y="443.37" width="18.4" height="2.7" fill="#000"/>
<text font-size="28.4" text-anchor="middle"><tspan x="133" y="545">Γ</tspan><tspan x="359.3" y="545">M</tspan><tspan x="491.8" y="545">K</tspan><tspan x="725.7" y="545">Γ</tspan></text>
<text transform="translate(150.73,62.09) scale(1.0349,1)" font-size="62.48" font-style="italic">ε</text><text transform="translate(181.6,72.3) scale(0.8261,1)" font-size="45.79">E</text><rect x="226.4" y="36.3" width="37.6" height="4.5"/><rect x="226.4" y="48.2" width="37.6" height="4.5"/><text transform="translate(282.37,62.1) scale(1.0712,1)" font-size="61.86">2.0</text>
<rect x="851.2" y="27.5" width="22" height="444.5" fill="url(#cb1)"/>
<rect x="851.2" y="27.5" width="22" height="444.5" fill="none" stroke="#000" stroke-width="3.3"/>
<line x1="873.2" y1="472" x2="884.8" y2="472" stroke="#000" stroke-width="3.3" stroke-linecap="round"/>
<text transform="translate(903.32,483.58) scale(1.0902,1)" font-size="27.82">0.0</text>
<line x1="873.2" y1="421.82" x2="884.8" y2="421.82" stroke="#000" stroke-width="3.3" stroke-linecap="round"/>
<text transform="translate(902.1,433.67) scale(1.1163,1)" font-size="28.21">1.2</text>
<line x1="873.2" y1="371.64" x2="884.8" y2="371.64" stroke="#000" stroke-width="3.3" stroke-linecap="round"/>
<text transform="translate(902.97,383.49) scale(1.0764,1)" font-size="28.21">2.4</text>
<line x1="873.2" y1="321.46" x2="884.8" y2="321.46" stroke="#000" stroke-width="3.3" stroke-linecap="round"/>
<text transform="translate(903.34,333.04) scale(1.0935,1)" font-size="27.82">3.6</text>
<line x1="873.2" y1="271.29" x2="884.8" y2="271.29" stroke="#000" stroke-width="3.3" stroke-linecap="round"/>
<text transform="translate(903.81,282.86) scale(1.0806,1)" font-size="27.82">4.8</text>
<line x1="873.2" y1="221.11" x2="884.8" y2="221.11" stroke="#000" stroke-width="3.3" stroke-linecap="round"/>
<text transform="translate(902.95,232.68) scale(1.1001,1)" font-size="27.82">6.0</text>
<line x1="873.2" y1="170.93" x2="884.8" y2="170.93" stroke="#000" stroke-width="3.3" stroke-linecap="round"/>
<text transform="translate(902.92,182.78) scale(1.0947,1)" font-size="28.21">7.2</text>
<line x1="873.2" y1="120.75" x2="884.8" y2="120.75" stroke="#000" stroke-width="3.3" stroke-linecap="round"/>
<text transform="translate(903.19,132.33) scale(1.0858,1)" font-size="27.82">8.4</text>
<line x1="873.2" y1="70.57" x2="884.8" y2="70.57" stroke="#000" stroke-width="3.3" stroke-linecap="round"/>
<text transform="translate(903.06,82.15) scale(1.1009,1)" font-size="27.82">9.6</text>
<text transform="translate(34.6,251.4) rotate(-90)" font-size="45" text-anchor="middle" textLength="119.5" lengthAdjust="spacingAndGlyphs">E (eV)</text>
</g>
<g transform="translate(0,1279.6)">
<g clip-path="url(#clipAx)"><g filter="url(#cmap)">
<rect x="92" y="-34.5" width="672.8" height="567.9" fill="rgb(8,8,8)"/>
<path d="M215.0,342.5 219.0,343.2 223.0,344.1 226.9,345.4 230.9,346.8 234.9,348.4 238.9,350.0 242.9,351.8 246.9,353.6 250.8,355.3 254.8,357.0 258.8,358.6 262.8,360.0 266.8,361.2 270.7,362.1 274.7,362.4 278.7,362.8 282.7,363.1 286.7,363.5 290.6,363.8 294.6,364.1 298.6,364.5 302.6,364.8 306.6,365.1 310.6,365.4 314.5,365.7 318.5,365.9 322.5,366.2 326.5,366.5 330.5,366.7 334.4,367.0 338.4,367.2 342.4,367.4 346.4,367.6 350.4,367.8 354.4,368.0 358.3,368.2 362.3,368.4 366.3,368.5 370.3,368.7 374.3,368.8 378.2,368.9 382.2,369.0 386.2,369.1 390.2,369.2 394.2,369.3 398.1,369.4 402.1,369.4 406.1,369.4 410.1,369.5 414.1,369.5 418.1,369.5 422.0,369.4 426.0,369.4 430.0,369.3 434.0,369.4 438.0,369.4 441.9,369.5 445.9,369.5 449.9,369.5 453.9,369.4 457.9,369.4 461.9,369.4 465.8,369.3 469.8,369.2 473.8,369.1 477.8,369.0 481.8,368.9 485.7,368.8 489.7,368.7 493.7,368.5 497.7,368.4 501.7,368.2 505.6,368.0 509.6,367.8 513.6,367.6 517.6,367.4 521.6,367.2 525.6,367.0 529.5,366.7 533.5,366.5 537.5,366.2 541.5,365.9 545.5,365.7 549.4,365.4 553.4,365.1 557.4,364.8 561.4,364.5 565.4,364.1 569.4,363.8 573.3,363.5 577.3,363.1 581.3,362.8 585.3,362.4 589.3,362.1 593.2,361.2 597.2,360.0 601.2,358.6 605.2,357.0 609.2,355.3 613.1,353.6 617.1,351.8 621.1,350.0 625.1,348.4 629.1,346.8 633.1,345.4 637.0,344.1 641.0,343.2 645.0,342.5 645.0,409.7 641.0,411.1 637.0,412.7 633.1,414.6 629.1,416.8 625.1,419.0 621.1,421.4 617.1,423.9 613.1,426.3 609.2,428.8 605.2,431.1 601.2,433.4 597.2,435.5 593.2,437.4 589.3,438.9 585.3,439.4 581.3,439.9 577.3,440.3 573.3,440.8 569.4,441.2 565.4,441.7 561.4,442.1 557.4,442.5 553.4,443.0 549.4,443.4 545.5,443.8 541.5,444.2 537.5,444.6 533.5,445.0 529.5,445.3 525.6,445.7 521.6,446.0 517.6,446.4 513.6,446.7 509.6,447.0 505.6,447.3 501.7,447.6 497.7,447.9 493.7,448.2 489.7,448.5 485.7,448.7 481.8,449.0 477.8,449.2 473.8,449.4 469.8,449.6 465.8,449.8 461.9,450.0 457.9,450.2 453.9,450.3 449.9,450.5 445.9,450.6 441.9,450.7 438.0,450.8 434.0,450.9 430.0,450.9 426.0,450.9 422.0,450.8 418.1,450.7 414.1,450.6 410.1,450.5 406.1,450.3 402.1,450.2 398.1,450.0 394.2,449.8 390.2,449.6 386.2,449.4 382.2,449.2 378.2,449.0 374.3,448.7 370.3,448.5 366.3,448.2 362.3,447.9 358.3,447.6 354.4,447.3 350.4,447.0 346.4,446.7 342.4,446.4 338.4,446.0 334.4,445.7 330.5,445.3 326.5,445.0 322.5,444.6 318.5,444.2 314.5,443.8 310.6,443.4 306.6,443.0 302.6,442.5 298.6,442.1 294.6,441.7 290.6,441.2 286.7,440.8 282.7,440.3 278.7,439.9 274.7,439.4 270.7,438.9 266.8,437.4 262.8,435.5 258.8,433.4 254.8,431.1 250.8,428.8 246.9,426.3 242.9,423.9 238.9,421.4 234.9,419.0 230.9,416.8 226.9,414.6 223.0,412.7 219.0,411.1 215.0,409.7Z" fill="url(#g61)" filter="url(#b26_46p2)"/><path d="M215.0,353.7 219.0,354.5 223.0,355.6 226.9,356.9 230.9,358.4 234.9,360.1 238.9,361.9 242.9,363.8 246.9,365.7 250.8,367.6 254.8,369.4 258.8,371.0 262.8,372.6 266.8,373.9 270.7,374.9 274.7,375.3 278.7,375.6 282.7,376.0 286.7,376.4 290.6,376.7 294.6,377.1 298.6,377.4 302.6,377.7 306.6,378.1 310.6,378.4 314.5,378.7 318.5,379.0 322.5,379.3 326.5,379.5 330.5,379.8 334.4,380.1 338.4,380.3 342.4,380.6 346.4,380.8 350.4,381.0 354.4,381.2 358.3,381.4 362.3,381.6 366.3,381.8 370.3,382.0 374.3,382.1 378.2,382.3 382.2,382.4 386.2,382.5 390.2,382.6 394.2,382.7 398.1,382.8 402.1,382.9 406.1,382.9 410.1,383.0 414.1,383.0 418.1,383.0 422.0,383.0 426.0,383.0 430.0,382.9 434.0,383.0 438.0,383.0 441.9,383.0 445.9,383.0 449.9,383.0 453.9,382.9 457.9,382.9 461.9,382.8 465.8,382.7 469.8,382.6 473.8,382.5 477.8,382.4 481.8,382.3 485.7,382.1 489.7,382.0 493.7,381.8 497.7,381.6 501.7,381.4 505.6,381.2 509.6,381.0 513.6,380.8 517.6,380.6 521.6,380.3 525.6,380.1 529.5,379.8 533.5,379.5 537.5,379.3 541.5,379.0 545.5,378.7 549.4,378.4 553.4,378.1 557.4,377.7 561.4,377.4 565.4,377.1 569.4,376.7 573.3,376.4 577.3,376.0 581.3,375.6 585.3,375.3 589.3,374.9 593.2,373.9 597.2,372.6 601.2,371.0 605.2,369.4 609.2,367.6 613.1,365.7 617.1,363.8 621.1,361.9 625.1,360.1 629.1,358.4 633.1,356.9 637.0,355.6 641.0,354.5 645.0,353.7 645.0,398.5 641.0,399.7 637.0,401.3 633.1,403.1 629.1,405.1 625.1,407.3 621.1,409.5 617.1,411.8 613.1,414.2 609.2,416.5 605.2,418.8 601.2,420.9 597.2,422.9 593.2,424.7 589.3,426.1 585.3,426.6 581.3,427.0 577.3,427.5 573.3,427.9 569.4,428.3 565.4,428.8 561.4,429.2 557.4,429.6 553.4,430.0 549.4,430.4 545.5,430.8 541.5,431.1 537.5,431.5 533.5,431.9 529.5,432.2 525.6,432.6 521.6,432.9 517.6,433.2 513.6,433.5 509.6,433.8 505.6,434.1 501.7,434.4 497.7,434.7 493.7,434.9 489.7,435.2 485.7,435.4 481.8,435.6 477.8,435.8 473.8,436.0 469.8,436.2 465.8,436.4 461.9,436.6 457.9,436.7 453.9,436.8 449.9,437.0 445.9,437.1 441.9,437.2 438.0,437.2 434.0,437.3 430.0,437.3 426.0,437.3 422.0,437.2 418.1,437.2 414.1,437.1 410.1,437.0 406.1,436.8 402.1,436.7 398.1,436.6 394.2,436.4 390.2,436.2 386.2,436.0 382.2,435.8 378.2,435.6 374.3,435.4 370.3,435.2 366.3,434.9 362.3,434.7 358.3,434.4 354.4,434.1 350.4,433.8 346.4,433.5 342.4,433.2 338.4,432.9 334.4,432.6 330.5,432.2 326.5,431.9 322.5,431.5 318.5,431.1 314.5,430.8 310.6,430.4 306.6,430.0 302.6,429.6 298.6,429.2 294.6,428.8 290.6,428.3 286.7,427.9 282.7,427.5 278.7,427.0 274.7,426.6 270.7,426.1 266.8,424.7 262.8,422.9 258.8,420.9 254.8,418.8 250.8,416.5 246.9,414.2 242.9,411.8 238.9,409.5 234.9,407.3 230.9,405.1 226.9,403.1 223.0,401.3 219.0,399.7 215.0,398.5Z" fill="url(#g62)" filter="url(#b20_23p1)"/>
<path d="M100.0,174.3 103.9,174.3 107.9,174.3 111.8,174.3 115.8,174.3 119.7,174.3 123.7,174.3 127.6,174.3 131.5,174.3 135.5,174.3 139.4,174.3 143.4,174.3 147.3,174.3 151.2,174.3 155.2,174.3 159.1,174.3 163.1,174.3 167.0,174.3 171.0,174.3 174.9,174.3 178.8,174.3 182.8,174.3 186.7,174.3 190.7,174.3 194.6,174.4 198.6,174.4 202.5,174.4 206.4,174.4 210.4,174.4 214.3,174.4 218.3,174.3 222.2,174.3 226.2,174.3 230.1,174.3 234.0,174.3 238.0,174.3 241.9,174.3 245.9,174.3 249.8,174.3 253.8,174.3 257.7,174.3 261.6,174.3 265.6,174.3 269.5,174.2 273.5,174.0 277.4,173.8 281.3,173.4 285.3,172.4 289.2,170.8 293.2,169.0 297.1,167.2 301.1,165.6 305.0,164.5 305.0,198.1 301.1,199.2 297.1,200.8 293.2,202.6 289.2,204.4 285.3,206.0 281.3,207.0 277.4,207.4 273.5,207.6 269.5,207.8 265.6,207.9 261.6,207.9 257.7,207.9 253.8,207.9 249.8,207.9 245.9,207.9 241.9,207.9 238.0,207.9 234.0,207.9 230.1,207.9 226.2,207.9 222.2,207.9 218.3,207.9 214.3,208.0 210.4,208.0 206.4,208.0 202.5,208.0 198.6,208.0 194.6,208.0 190.7,207.9 186.7,207.9 182.8,207.9 178.8,207.9 174.9,207.9 171.0,207.9 167.0,207.9 163.1,207.9 159.1,207.9 155.2,207.9 151.2,207.9 147.3,207.9 143.4,207.9 139.4,207.9 135.5,207.9 131.5,207.9 127.6,207.9 123.7,207.9 119.7,207.9 115.8,207.9 111.8,207.9 107.9,207.9 103.9,207.9 100.0,207.9Z" fill="url(#g63)" filter="url(#b13_21)"/><path d="M100.0,179.9 103.9,179.9 107.9,179.9 111.8,179.9 115.8,179.9 119.7,179.9 123.7,179.9 127.6,179.9 131.5,179.9 135.5,179.9 139.4,179.9 143.4,179.9 147.3,179.9 151.2,179.9 155.2,179.9 159.1,179.9 163.1,179.9 167.0,179.9 171.0,179.9 174.9,179.9 178.8,179.9 182.8,179.9 186.7,179.9 190.7,179.9 194.6,180.0 198.6,180.0 202.5,180.0 206.4,180.0 210.4,180.0 214.3,180.0 218.3,179.9 222.2,179.9 226.2,179.9 230.1,179.9 234.0,179.9 238.0,179.9 241.9,179.9 245.9,179.9 249.8,179.9 253.8,179.9 257.7,179.9 261.6,179.9 265.6,179.9 269.5,179.8 273.5,179.6 277.4,179.4 281.3,179.0 285.3,178.0 289.2,176.4 293.2,174.6 297.1,172.8 301.1,171.2 305.0,170.1 305.0,192.5 301.1,193.6 297.1,195.2 293.2,197.0 289.2,198.8 285.3,200.4 281.3,201.4 277.4,201.8 273.5,202.0 269.5,202.2 265.6,202.3 261.6,202.3 257.7,202.3 253.8,202.3 249.8,202.3 245.9,202.3 241.9,202.3 238.0,202.3 234.0,202.3 230.1,202.3 226.2,202.3 222.2,202.3 218.3,202.3 214.3,202.4 210.4,202.4 206.4,202.4 202.5,202.4 198.6,202.4 194.6,202.4 190.7,202.3 186.7,202.3 182.8,202.3 178.8,202.3 174.9,202.3 171.0,202.3 167.0,202.3 163.1,202.3 159.1,202.3 155.2,202.3 151.2,202.3 147.3,202.3 143.4,202.3 139.4,202.3 135.5,202.3 131.5,202.3 127.6,202.3 123.7,202.3 119.7,202.3 115.8,202.3 111.8,202.3 107.9,202.3 103.9,202.3 100.0,202.3Z" fill="url(#g64)" filter="url(#b10_10p5)"/>
<path d="M578.0,168.2 582.0,169.5 585.9,171.5 589.9,173.6 593.8,175.2 597.8,175.7 601.7,175.9 605.7,176.0 609.7,176.0 613.6,175.9 617.6,175.8 621.5,175.6 625.5,175.5 629.4,175.5 633.4,175.5 637.3,175.5 641.3,175.5 645.3,175.5 649.2,175.5 653.2,175.5 657.1,175.5 661.1,175.5 665.0,175.5 669.0,175.5 673.0,175.5 676.9,175.5 680.9,175.5 684.8,175.5 688.8,175.5 692.7,175.5 696.7,175.5 700.7,175.5 704.6,175.5 708.6,175.5 712.5,175.5 716.5,175.5 720.4,175.5 724.4,175.5 728.3,175.5 732.3,175.5 736.3,175.5 740.2,175.5 744.2,175.5 748.1,175.5 752.1,175.5 756.0,175.5 760.0,175.5 760.0,206.7 756.0,206.7 752.1,206.7 748.1,206.7 744.2,206.7 740.2,206.7 736.3,206.7 732.3,206.7 728.3,206.7 724.4,206.7 720.4,206.7 716.5,206.7 712.5,206.7 708.6,206.7 704.6,206.7 700.7,206.7 696.7,206.7 692.7,206.7 688.8,206.7 684.8,206.7 680.9,206.7 676.9,206.7 673.0,206.7 669.0,206.7 665.0,206.7 661.1,206.7 657.1,206.7 653.2,206.7 649.2,206.7 645.3,206.7 641.3,206.7 637.3,206.7 633.4,206.7 629.4,206.7 625.5,206.7 621.5,206.8 617.6,207.0 613.6,207.1 609.7,207.2 605.7,207.2 601.7,207.1 597.8,206.9 593.8,206.4 589.9,204.8 585.9,202.7 582.0,200.7 578.0,199.4Z" fill="url(#g65)" filter="url(#b11p7_19p5)"/><path d="M578.0,173.4 582.0,174.7 585.9,176.7 589.9,178.8 593.8,180.4 597.8,180.9 601.7,181.1 605.7,181.2 609.7,181.2 613.6,181.1 617.6,181.0 621.5,180.8 625.5,180.7 629.4,180.7 633.4,180.7 637.3,180.7 641.3,180.7 645.3,180.7 649.2,180.7 653.2,180.7 657.1,180.7 661.1,180.7 665.0,180.7 669.0,180.7 673.0,180.7 676.9,180.7 680.9,180.7 684.8,180.7 688.8,180.7 692.7,180.7 696.7,180.7 700.7,180.7 704.6,180.7 708.6,180.7 712.5,180.7 716.5,180.7 720.4,180.7 724.4,180.7 728.3,180.7 732.3,180.7 736.3,180.7 740.2,180.7 744.2,180.7 748.1,180.7 752.1,180.7 756.0,180.7 760.0,180.7 760.0,201.5 756.0,201.5 752.1,201.5 748.1,201.5 744.2,201.5 740.2,201.5 736.3,201.5 732.3,201.5 728.3,201.5 724.4,201.5 720.4,201.5 716.5,201.5 712.5,201.5 708.6,201.5 704.6,201.5 700.7,201.5 696.7,201.5 692.7,201.5 688.8,201.5 684.8,201.5 680.9,201.5 676.9,201.5 673.0,201.5 669.0,201.5 665.0,201.5 661.1,201.5 657.1,201.5 653.2,201.5 649.2,201.5 645.3,201.5 641.3,201.5 637.3,201.5 633.4,201.5 629.4,201.5 625.5,201.5 621.5,201.6 617.6,201.8 613.6,201.9 609.7,202.0 605.7,202.0 601.7,201.9 597.8,201.7 593.8,201.2 589.9,199.6 585.9,197.5 582.0,195.5 578.0,194.2Z" fill="url(#g66)" filter="url(#b9_9p8)"/>
<path d="M240.0,158.5 244.0,157.6 247.9,156.3 251.9,154.8 255.9,153.2 259.8,151.5 263.8,149.8 267.8,148.2 271.7,146.7 275.7,145.2 279.7,143.6 283.6,142.1 287.6,140.6 291.6,139.3 295.5,138.0 299.5,136.8 303.5,135.9 307.4,135.0 311.4,134.3 315.4,133.6 319.3,133.0 323.3,132.5 327.3,132.0 331.2,131.5 335.2,131.4 339.2,131.2 343.2,131.1 347.1,131.0 351.1,130.9 355.1,130.8 359.0,130.7 363.0,130.6 367.0,130.6 370.9,130.5 374.9,130.4 378.9,130.3 382.8,130.2 386.8,130.1 390.8,130.0 394.7,129.8 398.7,129.7 402.7,129.4 406.6,129.1 410.6,128.8 414.6,128.4 418.5,128.0 422.5,127.6 426.5,127.2 430.4,126.8 434.4,126.4 438.4,125.9 442.3,125.4 446.3,124.8 450.3,124.2 454.2,123.5 458.2,122.8 462.2,122.2 466.1,121.6 470.1,121.2 474.1,120.9 478.0,120.8 482.0,120.8 486.0,121.0 489.9,121.2 493.9,121.5 497.9,121.9 501.8,122.3 505.8,122.8 509.8,123.3 513.8,124.0 517.7,124.9 521.7,125.9 525.7,126.9 529.6,127.9 533.6,129.0 537.6,130.1 541.5,131.5 545.5,133.2 549.5,134.9 553.4,136.8 557.4,138.8 561.4,141.1 565.3,143.5 569.3,146.1 573.3,148.9 577.2,151.6 581.2,154.2 585.2,156.5 589.1,159.0 593.1,161.4 597.1,163.7 601.0,165.6 605.0,167.1 605.0,210.2 601.0,209.2 597.1,207.7 593.1,205.9 589.1,203.9 585.2,201.8 581.2,199.8 577.2,197.7 573.3,195.4 569.3,193.1 565.3,190.9 561.4,188.9 557.4,187.1 553.4,185.6 549.5,184.2 545.5,182.9 541.5,181.7 537.6,180.7 533.6,179.9 529.6,179.2 525.7,178.4 521.7,177.7 517.7,177.1 513.8,176.5 509.8,176.1 505.8,175.6 501.8,175.1 497.9,174.7 493.9,174.3 489.9,174.0 486.0,173.8 482.0,173.6 478.0,173.6 474.1,173.7 470.1,174.0 466.1,174.4 462.2,175.0 458.2,175.6 454.2,176.3 450.3,177.0 446.3,177.6 442.3,178.2 438.4,178.7 434.4,179.2 430.4,179.6 426.5,180.0 422.5,180.4 418.5,180.8 414.6,181.2 410.6,181.6 406.6,181.9 402.7,182.2 398.7,182.5 394.7,182.6 390.8,182.8 386.8,182.9 382.8,183.0 378.9,183.1 374.9,183.2 370.9,183.3 367.0,183.4 363.0,183.4 359.0,183.5 355.1,183.6 351.1,183.7 347.1,183.8 343.2,183.9 339.2,184.0 335.2,184.2 331.2,184.3 327.3,184.5 323.3,184.8 319.3,185.0 315.4,185.3 311.4,185.6 307.4,186.0 303.5,186.5 299.5,187.2 295.5,188.0 291.6,188.9 287.6,190.0 283.6,191.1 279.7,192.3 275.7,193.5 271.7,194.7 267.8,195.9 263.8,197.2 259.8,198.6 255.9,200.0 251.9,201.3 247.9,202.5 244.0,203.5 240.0,204.1Z" fill="url(#g67)" filter="url(#b16p9_31)"/><path d="M240.0,166.1 244.0,165.2 247.9,164.0 251.9,162.6 255.9,161.0 259.8,159.4 263.8,157.7 267.8,156.1 271.7,154.7 275.7,153.2 279.7,151.7 283.6,150.3 287.6,148.9 291.6,147.5 295.5,146.3 299.5,145.2 303.5,144.3 307.4,143.5 311.4,142.8 315.4,142.2 319.3,141.7 323.3,141.2 327.3,140.7 331.2,140.3 335.2,140.2 339.2,140.0 343.2,139.9 347.1,139.8 351.1,139.7 355.1,139.6 359.0,139.5 363.0,139.4 367.0,139.4 370.9,139.3 374.9,139.2 378.9,139.1 382.8,139.0 386.8,138.9 390.8,138.8 394.7,138.6 398.7,138.5 402.7,138.2 406.6,137.9 410.6,137.6 414.6,137.2 418.5,136.8 422.5,136.4 426.5,136.0 430.4,135.6 434.4,135.2 438.4,134.7 442.3,134.2 446.3,133.6 450.3,133.0 454.2,132.3 458.2,131.6 462.2,131.0 466.1,130.4 470.1,130.0 474.1,129.7 478.0,129.6 482.0,129.6 486.0,129.8 489.9,130.0 493.9,130.3 497.9,130.7 501.8,131.1 505.8,131.6 509.8,132.1 513.8,132.8 517.7,133.6 521.7,134.5 525.7,135.5 529.6,136.5 533.6,137.5 537.6,138.6 541.5,139.8 545.5,141.5 549.5,143.1 553.4,144.9 557.4,146.9 561.4,149.0 565.3,151.4 569.3,154.0 573.3,156.6 577.2,159.3 581.2,161.8 585.2,164.1 589.1,166.5 593.1,168.8 597.1,171.0 601.0,172.9 605.0,174.2 605.0,203.1 601.0,201.9 597.1,200.4 593.1,198.5 589.1,196.4 585.2,194.3 581.2,192.2 577.2,190.0 573.3,187.7 569.3,185.3 565.3,183.0 561.4,180.9 557.4,179.1 553.4,177.4 549.5,176.0 545.5,174.6 541.5,173.3 537.6,172.3 533.6,171.5 529.6,170.6 525.7,169.8 521.7,169.1 517.7,168.4 513.8,167.8 509.8,167.3 505.8,166.8 501.8,166.3 497.9,165.9 493.9,165.5 489.9,165.2 486.0,165.0 482.0,164.8 478.0,164.8 474.1,164.9 470.1,165.2 466.1,165.6 462.2,166.2 458.2,166.8 454.2,167.5 450.3,168.2 446.3,168.8 442.3,169.4 438.4,169.9 434.4,170.4 430.4,170.8 426.5,171.2 422.5,171.6 418.5,172.0 414.6,172.4 410.6,172.8 406.6,173.1 402.7,173.4 398.7,173.7 394.7,173.8 390.8,174.0 386.8,174.1 382.8,174.2 378.9,174.3 374.9,174.4 370.9,174.5 367.0,174.6 363.0,174.6 359.0,174.7 355.1,174.8 351.1,174.9 347.1,175.0 343.2,175.1 339.2,175.2 335.2,175.4 331.2,175.5 327.3,175.8 323.3,176.0 319.3,176.3 315.4,176.7 311.4,177.1 307.4,177.5 303.5,178.1 299.5,178.8 295.5,179.6 291.6,180.7 287.6,181.8 283.6,182.9 279.7,184.2 275.7,185.5 271.7,186.7 267.8,187.9 263.8,189.3 259.8,190.7 255.9,192.2 251.9,193.6 247.9,194.8 244.0,195.8 240.0,196.5Z" fill="url(#g68)" filter="url(#b13_15p5)"/>
<path d="M220.0,258.3 224.0,257.4 228.0,256.2 232.0,254.9 236.0,253.5 240.0,252.4 244.0,251.8 248.0,251.2 252.0,250.8 256.0,250.3 260.0,249.8 264.0,249.3 268.0,248.8 272.0,248.3 276.0,247.7 280.0,247.2 284.0,246.7 288.0,246.1 292.0,245.6 296.0,245.2 300.0,244.8 304.0,244.5 308.0,244.2 312.0,244.0 316.0,243.8 320.0,243.7 324.0,243.6 328.0,243.5 332.0,243.5 336.0,243.4 340.0,243.4 344.0,243.4 348.0,243.4 352.0,243.4 356.0,243.4 360.0,243.4 364.0,243.4 368.0,243.4 372.0,243.4 376.0,243.4 380.0,243.4 384.0,243.4 388.0,243.4 392.0,243.4 396.0,243.4 400.0,243.5 404.0,243.5 408.0,243.5 412.0,243.5 416.0,243.5 420.0,243.5 424.0,243.5 428.0,243.5 432.0,243.5 436.0,243.5 440.0,243.5 444.0,243.4 448.0,243.4 452.0,243.4 456.0,243.4 460.0,243.4 464.0,243.4 468.0,243.3 472.0,243.3 476.0,243.3 480.0,243.3 484.0,243.3 488.0,243.3 492.0,243.3 496.0,243.3 500.0,243.3 504.0,243.3 508.0,243.3 512.0,243.3 516.0,243.4 520.0,243.4 524.0,243.4 528.0,243.5 532.0,243.5 536.0,243.6 540.0,243.8 544.0,243.9 548.0,244.1 552.0,244.3 556.0,244.5 560.0,244.8 564.0,245.0 568.0,245.2 572.0,245.4 576.0,245.6 580.0,245.8 584.0,246.3 588.0,246.7 592.0,247.1 596.0,247.6 600.0,248.1 604.0,248.8 608.0,249.5 612.0,250.3 616.0,251.1 620.0,252.0 624.0,253.0 628.0,254.5 632.0,256.0 636.0,257.3 640.0,258.3 640.0,273.9 636.0,272.9 632.0,271.6 628.0,270.1 624.0,268.6 620.0,267.5 616.0,266.4 612.0,265.3 608.0,264.3 604.0,263.4 600.0,262.5 596.0,261.7 592.0,261.0 588.0,260.3 584.0,259.7 580.0,259.0 576.0,258.7 572.0,258.4 568.0,258.1 564.0,257.8 560.0,257.5 556.0,257.2 552.0,256.8 548.0,256.6 544.0,256.3 540.0,256.0 536.0,255.8 532.0,255.6 528.0,255.5 524.0,255.4 520.0,255.4 516.0,255.4 512.0,255.3 508.0,255.3 504.0,255.3 500.0,255.3 496.0,255.3 492.0,255.3 488.0,255.3 484.0,255.3 480.0,255.3 476.0,255.3 472.0,255.3 468.0,255.3 464.0,255.4 460.0,255.4 456.0,255.4 452.0,255.4 448.0,255.4 444.0,255.4 440.0,255.5 436.0,255.5 432.0,255.5 428.0,255.5 424.0,255.5 420.0,255.5 416.0,255.5 412.0,255.5 408.0,255.5 404.0,255.5 400.0,255.5 396.0,255.4 392.0,255.4 388.0,255.4 384.0,255.4 380.0,255.4 376.0,255.4 372.0,255.4 368.0,255.4 364.0,255.4 360.0,255.4 356.0,255.4 352.0,255.4 348.0,255.4 344.0,255.4 340.0,255.4 336.0,255.4 332.0,255.5 328.0,255.6 324.0,255.8 320.0,256.1 316.0,256.4 312.0,256.7 308.0,257.1 304.0,257.5 300.0,258.0 296.0,258.5 292.0,259.1 288.0,259.7 284.0,260.4 280.0,261.1 276.0,261.8 272.0,262.4 268.0,263.1 264.0,263.7 260.0,264.4 256.0,265.1 252.0,265.8 248.0,266.5 244.0,267.2 240.0,268.0 236.0,269.1 232.0,270.5 228.0,271.8 224.0,273.0 220.0,273.9Z" fill="url(#g69)" filter="url(#b10p4_8p7)"/><path d="M220.0,260.9 224.0,260.0 228.0,258.8 232.0,257.5 236.0,256.1 240.0,255.0 244.0,254.4 248.0,253.8 252.0,253.3 256.0,252.8 260.0,252.2 264.0,251.7 268.0,251.2 272.0,250.6 276.0,250.1 280.0,249.5 284.0,248.9 288.0,248.4 292.0,247.9 296.0,247.4 300.0,247.0 304.0,246.7 308.0,246.4 312.0,246.1 316.0,245.9 320.0,245.8 324.0,245.6 328.0,245.5 332.0,245.5 336.0,245.4 340.0,245.4 344.0,245.4 348.0,245.4 352.0,245.4 356.0,245.4 360.0,245.4 364.0,245.4 368.0,245.4 372.0,245.4 376.0,245.4 380.0,245.4 384.0,245.4 388.0,245.4 392.0,245.4 396.0,245.4 400.0,245.5 404.0,245.5 408.0,245.5 412.0,245.5 416.0,245.5 420.0,245.5 424.0,245.5 428.0,245.5 432.0,245.5 436.0,245.5 440.0,245.5 444.0,245.4 448.0,245.4 452.0,245.4 456.0,245.4 460.0,245.4 464.0,245.4 468.0,245.3 472.0,245.3 476.0,245.3 480.0,245.3 484.0,245.3 488.0,245.3 492.0,245.3 496.0,245.3 500.0,245.3 504.0,245.3 508.0,245.3 512.0,245.3 516.0,245.4 520.0,245.4 524.0,245.4 528.0,245.5 532.0,245.5 536.0,245.7 540.0,245.8 544.0,246.0 548.0,246.2 552.0,246.4 556.0,246.6 560.0,246.9 564.0,247.1 568.0,247.4 572.0,247.6 576.0,247.8 580.0,248.0 584.0,248.5 588.0,248.9 592.0,249.4 596.0,249.9 600.0,250.5 604.0,251.2 608.0,252.0 612.0,252.8 616.0,253.7 620.0,254.6 624.0,255.6 628.0,257.1 632.0,258.6 636.0,259.9 640.0,260.9 640.0,271.3 636.0,270.3 632.0,269.0 628.0,267.5 624.0,266.0 620.0,264.9 616.0,263.8 612.0,262.8 608.0,261.9 604.0,261.0 600.0,260.1 596.0,259.4 592.0,258.7 588.0,258.1 584.0,257.5 580.0,256.8 576.0,256.5 572.0,256.3 568.0,256.0 564.0,255.7 560.0,255.4 556.0,255.1 552.0,254.8 548.0,254.5 544.0,254.2 540.0,254.0 536.0,253.8 532.0,253.6 528.0,253.5 524.0,253.4 520.0,253.4 516.0,253.4 512.0,253.3 508.0,253.3 504.0,253.3 500.0,253.3 496.0,253.3 492.0,253.3 488.0,253.3 484.0,253.3 480.0,253.3 476.0,253.3 472.0,253.3 468.0,253.3 464.0,253.4 460.0,253.4 456.0,253.4 452.0,253.4 448.0,253.4 444.0,253.4 440.0,253.5 436.0,253.5 432.0,253.5 428.0,253.5 424.0,253.5 420.0,253.5 416.0,253.5 412.0,253.5 408.0,253.5 404.0,253.5 400.0,253.5 396.0,253.4 392.0,253.4 388.0,253.4 384.0,253.4 380.0,253.4 376.0,253.4 372.0,253.4 368.0,253.4 364.0,253.4 360.0,253.4 356.0,253.4 352.0,253.4 348.0,253.4 344.0,253.4 340.0,253.4 336.0,253.4 332.0,253.5 328.0,253.6 324.0,253.8 320.0,254.0 316.0,254.3 312.0,254.6 308.0,255.0 304.0,255.4 300.0,255.8 296.0,256.3 292.0,256.9 288.0,257.5 284.0,258.1 280.0,258.8 276.0,259.4 272.0,260.1 268.0,260.7 264.0,261.3 260.0,262.0 256.0,262.7 252.0,263.3 248.0,263.9 244.0,264.6 240.0,265.4 236.0,266.5 232.0,267.9 228.0,269.2 224.0,270.4 220.0,271.3Z" fill="url(#g70)" filter="url(#b8_4p4)"/>
<path d="M185.0,274.0 188.8,273.1 192.7,272.0 196.5,270.6 200.4,269.1 204.2,267.4 208.1,265.8 211.9,264.3 215.7,262.9 219.6,261.4 223.4,259.9 227.3,258.4 231.1,257.0 234.9,255.7 238.8,254.5 242.6,253.1 246.5,252.0 250.3,250.9 254.2,250.2 258.0,249.6 258.0,268.8 254.2,269.8 250.3,271.1 246.5,272.5 242.6,274.2 238.8,276.0 234.9,277.6 231.1,279.2 227.3,281.0 223.4,282.9 219.6,284.7 215.7,286.6 211.9,288.3 208.1,289.8 204.2,291.4 200.4,293.1 196.5,294.6 192.7,296.0 188.8,297.1 185.0,298.0Z" fill="url(#g71)" filter="url(#b11p7_13p9)"/><path d="M185.0,278.0 188.8,277.1 192.7,276.0 196.5,274.6 200.4,273.1 204.2,271.4 208.1,269.8 211.9,268.3 215.7,266.9 219.6,265.3 223.4,263.8 227.3,262.2 231.1,260.7 234.9,259.3 238.8,258.1 242.6,256.7 246.5,255.4 250.3,254.3 254.2,253.4 258.0,252.8 258.0,265.6 254.2,266.5 250.3,267.7 246.5,269.1 242.6,270.7 238.8,272.4 234.9,273.9 231.1,275.5 227.3,277.3 223.4,279.0 219.6,280.9 215.7,282.6 211.9,284.3 208.1,285.8 204.2,287.4 200.4,289.1 196.5,290.6 192.7,292.0 188.8,293.1 185.0,294.0Z" fill="url(#g72)" filter="url(#b9_6p9)"/>
<path d="M602.0,249.6 605.8,250.2 609.7,250.9 613.5,252.0 617.4,253.1 621.2,254.5 625.1,255.7 628.9,257.0 632.7,258.4 636.6,259.9 640.4,261.4 644.3,262.9 648.1,264.3 651.9,265.8 655.8,267.4 659.6,269.1 663.5,270.6 667.3,272.0 671.2,273.1 675.0,274.0 675.0,298.0 671.2,297.1 667.3,296.0 663.5,294.6 659.6,293.1 655.8,291.4 651.9,289.8 648.1,288.3 644.3,286.6 640.4,284.7 636.6,282.9 632.7,281.0 628.9,279.2 625.1,277.6 621.2,276.0 617.4,274.2 613.5,272.5 609.7,271.1 605.8,269.8 602.0,268.8Z" fill="url(#g73)" filter="url(#b11p7_13p9)"/><path d="M602.0,252.8 605.8,253.4 609.7,254.3 613.5,255.4 617.4,256.7 621.2,258.1 625.1,259.3 628.9,260.7 632.7,262.2 636.6,263.8 640.4,265.3 644.3,266.9 648.1,268.3 651.9,269.8 655.8,271.4 659.6,273.1 663.5,274.6 667.3,276.0 671.2,277.1 675.0,278.0 675.0,294.0 671.2,293.1 667.3,292.0 663.5,290.6 659.6,289.1 655.8,287.4 651.9,285.8 648.1,284.3 644.3,282.6 640.4,280.9 636.6,279.0 632.7,277.3 628.9,275.5 625.1,273.9 621.2,272.4 617.4,270.7 613.5,269.1 609.7,267.7 605.8,266.5 602.0,265.6Z" fill="url(#g74)" filter="url(#b9_6p9)"/>
<path d="M100.0,273.1 103.9,273.1 107.9,273.1 111.8,273.1 115.8,273.1 119.7,273.0 123.7,273.0 127.6,273.1 131.6,273.1 135.5,273.1 139.5,273.1 143.4,273.1 147.4,273.1 151.3,273.1 155.2,273.1 159.2,273.2 163.1,273.2 167.1,273.2 171.0,273.2 175.0,273.2 178.9,273.2 182.9,273.2 186.8,273.3 190.8,273.3 194.7,273.3 198.6,273.3 202.6,273.4 206.5,273.4 210.5,273.4 214.4,273.4 218.4,273.5 222.3,273.5 226.3,273.6 230.2,273.7 234.2,274.1 238.1,274.4 242.1,274.8 246.0,275.0 246.0,288.2 242.1,288.0 238.1,287.6 234.2,287.3 230.2,286.9 226.3,286.8 222.3,286.7 218.4,286.7 214.4,286.6 210.5,286.6 206.5,286.6 202.6,286.6 198.6,286.5 194.7,286.5 190.8,286.5 186.8,286.5 182.9,286.4 178.9,286.4 175.0,286.4 171.0,286.4 167.1,286.4 163.1,286.4 159.2,286.4 155.2,286.3 151.3,286.3 147.4,286.3 143.4,286.3 139.5,286.3 135.5,286.3 131.6,286.3 127.6,286.3 123.7,286.2 119.7,286.2 115.8,286.3 111.8,286.3 107.9,286.3 103.9,286.3 100.0,286.3Z" fill="url(#g75)" filter="url(#b9p1_8p2)"/><path d="M100.0,275.3 103.9,275.3 107.9,275.3 111.8,275.3 115.8,275.3 119.7,275.2 123.7,275.2 127.6,275.3 131.6,275.3 135.5,275.3 139.5,275.3 143.4,275.3 147.4,275.3 151.3,275.3 155.2,275.3 159.2,275.4 163.1,275.4 167.1,275.4 171.0,275.4 175.0,275.4 178.9,275.4 182.9,275.4 186.8,275.5 190.8,275.5 194.7,275.5 198.6,275.5 202.6,275.6 206.5,275.6 210.5,275.6 214.4,275.6 218.4,275.7 222.3,275.7 226.3,275.8 230.2,275.9 234.2,276.3 238.1,276.6 242.1,277.0 246.0,277.2 246.0,286.0 242.1,285.8 238.1,285.4 234.2,285.1 230.2,284.7 226.3,284.6 222.3,284.5 218.4,284.5 214.4,284.4 210.5,284.4 206.5,284.4 202.6,284.4 198.6,284.3 194.7,284.3 190.8,284.3 186.8,284.3 182.9,284.2 178.9,284.2 175.0,284.2 171.0,284.2 167.1,284.2 163.1,284.2 159.2,284.2 155.2,284.1 151.3,284.1 147.4,284.1 143.4,284.1 139.5,284.1 135.5,284.1 131.6,284.1 127.6,284.1 123.7,284.0 119.7,284.0 115.8,284.1 111.8,284.1 107.9,284.1 103.9,284.1 100.0,284.1Z" fill="url(#g76)" filter="url(#b7_4p1)"/>
<path d="M612.0,276.0 616.0,276.0 620.0,276.0 624.0,276.0 628.0,276.0 632.0,276.0 636.0,276.0 640.0,276.0 644.0,276.0 648.0,276.0 652.0,276.0 656.0,276.0 660.0,276.0 664.0,276.0 668.0,276.0 672.0,276.0 676.0,276.0 680.0,276.0 684.0,276.0 688.0,276.0 692.0,276.0 696.0,276.0 700.0,276.0 704.0,276.0 708.0,276.0 712.0,276.0 716.0,276.0 720.0,276.0 724.0,276.0 728.0,276.0 732.0,276.0 736.0,276.0 740.0,276.0 744.0,276.0 748.0,276.0 752.0,276.0 756.0,276.0 760.0,276.0 760.0,289.2 756.0,289.2 752.0,289.2 748.0,289.2 744.0,289.2 740.0,289.2 736.0,289.2 732.0,289.2 728.0,289.2 724.0,289.2 720.0,289.2 716.0,289.2 712.0,289.2 708.0,289.2 704.0,289.2 700.0,289.2 696.0,289.2 692.0,289.2 688.0,289.2 684.0,289.2 680.0,289.2 676.0,289.2 672.0,289.2 668.0,289.2 664.0,289.2 660.0,289.2 656.0,289.2 652.0,289.2 648.0,289.2 644.0,289.2 640.0,289.2 636.0,289.2 632.0,289.2 628.0,289.2 624.0,289.2 620.0,289.2 616.0,289.2 612.0,289.2Z" fill="url(#g77)" filter="url(#b9p1_8p2)"/><path d="M612.0,278.2 616.0,278.2 620.0,278.2 624.0,278.2 628.0,278.2 632.0,278.2 636.0,278.2 640.0,278.2 644.0,278.2 648.0,278.2 652.0,278.2 656.0,278.2 660.0,278.2 664.0,278.2 668.0,278.2 672.0,278.2 676.0,278.2 680.0,278.2 684.0,278.2 688.0,278.2 692.0,278.2 696.0,278.2 700.0,278.2 704.0,278.2 708.0,278.2 712.0,278.2 716.0,278.2 720.0,278.2 724.0,278.2 728.0,278.2 732.0,278.2 736.0,278.2 740.0,278.2 744.0,278.2 748.0,278.2 752.0,278.2 756.0,278.2 760.0,278.2 760.0,287.0 756.0,287.0 752.0,287.0 748.0,287.0 744.0,287.0 740.0,287.0 736.0,287.0 732.0,287.0 728.0,287.0 724.0,287.0 720.0,287.0 716.0,287.0 712.0,287.0 708.0,287.0 704.0,287.0 700.0,287.0 696.0,287.0 692.0,287.0 688.0,287.0 684.0,287.0 680.0,287.0 676.0,287.0 672.0,287.0 668.0,287.0 664.0,287.0 660.0,287.0 656.0,287.0 652.0,287.0 648.0,287.0 644.0,287.0 640.0,287.0 636.0,287.0 632.0,287.0 628.0,287.0 624.0,287.0 620.0,287.0 616.0,287.0 612.0,287.0Z" fill="url(#g78)" filter="url(#b7_4p1)"/>
<path d="M232.0,297.2 236.0,295.0 240.0,291.9 244.0,288.4 248.0,285.1 252.0,282.5 256.0,280.9 260.0,279.7 264.0,278.8 268.0,278.2 272.0,277.7 272.0,304.1 268.0,304.6 264.0,305.2 260.0,306.1 256.0,307.3 252.0,308.9 248.0,311.5 244.0,314.8 240.0,318.3 236.0,321.4 232.0,323.6Z" fill="url(#g79)" filter="url(#b11p7_16p5)"/><path d="M232.0,301.6 236.0,299.4 240.0,296.3 244.0,292.8 248.0,289.5 252.0,286.9 256.0,285.3 260.0,284.1 264.0,283.2 268.0,282.6 272.0,282.1 272.0,299.7 268.0,300.2 264.0,300.8 260.0,301.7 256.0,302.9 252.0,304.5 248.0,307.1 244.0,310.4 240.0,313.9 236.0,317.0 232.0,319.2Z" fill="url(#g80)" filter="url(#b9_8p2)"/>
<path d="M588.0,277.7 592.0,278.2 596.0,278.8 600.0,279.7 604.0,280.9 608.0,282.5 612.0,285.1 616.0,288.4 620.0,291.9 624.0,295.0 628.0,297.2 628.0,323.6 624.0,321.4 620.0,318.3 616.0,314.8 612.0,311.5 608.0,308.9 604.0,307.3 600.0,306.1 596.0,305.2 592.0,304.6 588.0,304.1Z" fill="url(#g81)" filter="url(#b11p7_16p5)"/><path d="M588.0,282.1 592.0,282.6 596.0,283.2 600.0,284.1 604.0,285.3 608.0,286.9 612.0,289.5 616.0,292.8 620.0,296.3 624.0,299.4 628.0,301.6 628.0,319.2 624.0,317.0 620.0,313.9 616.0,310.4 612.0,307.1 608.0,304.5 604.0,302.9 600.0,301.7 596.0,300.8 592.0,300.2 588.0,299.7Z" fill="url(#g82)" filter="url(#b9_8p2)"/>
<path d="M238.0,297.2 242.0,295.7 246.0,293.8 249.9,291.7 253.9,289.5 257.9,287.6 261.9,286.1 265.9,285.9 269.8,285.8 273.8,285.7 277.8,285.6 281.8,285.5 285.7,285.5 289.7,285.4 293.7,285.3 297.7,285.3 301.7,285.2 305.6,285.2 309.6,285.2 313.6,285.1 317.6,285.1 321.6,285.1 325.5,285.1 329.5,285.1 333.5,285.1 337.5,285.1 341.4,285.1 345.4,285.1 349.4,285.1 353.4,285.1 357.4,285.1 361.3,285.1 365.3,285.1 369.3,285.1 373.3,285.1 377.3,285.1 381.2,285.1 385.2,285.1 389.2,285.1 393.2,285.1 397.1,285.1 401.1,285.1 405.1,285.1 409.1,285.1 413.1,285.1 417.0,285.1 421.0,285.0 425.0,285.0 429.0,285.0 433.0,284.9 436.9,284.8 440.9,284.8 444.9,284.7 448.9,284.6 452.9,284.6 456.8,284.5 460.8,284.4 464.8,284.3 468.8,284.3 472.7,284.2 476.7,284.1 480.7,284.0 484.7,284.0 488.7,283.9 492.6,283.8 496.6,283.7 500.6,283.7 504.6,283.6 508.6,283.6 512.5,283.5 516.5,283.5 520.5,283.4 524.5,283.4 528.4,283.4 532.4,283.4 536.4,283.4 540.4,283.4 544.4,283.4 548.3,283.4 552.3,283.5 556.3,283.5 560.3,283.6 564.3,284.1 568.2,284.6 572.2,285.2 576.2,285.9 580.2,286.7 584.1,287.5 588.1,288.3 592.1,289.1 596.1,289.9 600.1,290.6 604.0,291.3 608.0,291.8 612.0,292.3 612.0,323.5 608.0,323.4 604.0,323.2 600.1,322.9 596.1,322.5 592.1,322.1 588.1,321.7 584.1,321.3 580.2,320.8 576.2,320.4 572.2,320.1 568.2,319.8 564.3,319.7 560.3,319.6 556.3,319.5 552.3,319.5 548.3,319.4 544.4,319.4 540.4,319.4 536.4,319.4 532.4,319.4 528.4,319.4 524.5,319.4 520.5,319.4 516.5,319.5 512.5,319.5 508.6,319.6 504.6,319.6 500.6,319.7 496.6,319.7 492.6,319.8 488.7,319.9 484.7,320.0 480.7,320.0 476.7,320.1 472.7,320.2 468.8,320.3 464.8,320.3 460.8,320.4 456.8,320.5 452.9,320.6 448.9,320.6 444.9,320.7 440.9,320.8 436.9,320.8 433.0,320.9 429.0,321.0 425.0,321.0 421.0,321.0 417.0,321.1 413.1,321.1 409.1,321.1 405.1,321.1 401.1,321.1 397.1,321.1 393.2,321.1 389.2,321.1 385.2,321.1 381.2,321.1 377.3,321.1 373.3,321.1 369.3,321.1 365.3,321.1 361.3,321.1 357.4,321.1 353.4,321.1 349.4,321.1 345.4,321.1 341.4,321.1 337.5,321.1 333.5,321.1 329.5,321.1 325.5,321.1 321.6,321.1 317.6,321.1 313.6,321.1 309.6,321.2 305.6,321.2 301.7,321.2 297.7,321.3 293.7,321.3 289.7,321.4 285.7,321.5 281.8,321.5 277.8,321.6 273.8,321.7 269.8,321.8 265.9,321.9 261.9,322.0 257.9,322.8 253.9,323.9 249.9,325.3 246.0,326.6 242.0,327.7 238.0,328.4Z" fill="url(#g83)" filter="url(#b14p3_21p3)"/><path d="M238.0,302.4 242.0,301.1 246.0,299.3 249.9,297.3 253.9,295.3 257.9,293.4 261.9,292.1 265.9,291.9 269.8,291.8 273.8,291.7 277.8,291.6 281.8,291.5 285.7,291.5 289.7,291.4 293.7,291.3 297.7,291.3 301.7,291.2 305.6,291.2 309.6,291.2 313.6,291.1 317.6,291.1 321.6,291.1 325.5,291.1 329.5,291.1 333.5,291.1 337.5,291.1 341.4,291.1 345.4,291.1 349.4,291.1 353.4,291.1 357.4,291.1 361.3,291.1 365.3,291.1 369.3,291.1 373.3,291.1 377.3,291.1 381.2,291.1 385.2,291.1 389.2,291.1 393.2,291.1 397.1,291.1 401.1,291.1 405.1,291.1 409.1,291.1 413.1,291.1 417.0,291.1 421.0,291.0 425.0,291.0 429.0,291.0 433.0,290.9 436.9,290.8 440.9,290.8 444.9,290.7 448.9,290.6 452.9,290.6 456.8,290.5 460.8,290.4 464.8,290.3 468.8,290.3 472.7,290.2 476.7,290.1 480.7,290.0 484.7,290.0 488.7,289.9 492.6,289.8 496.6,289.7 500.6,289.7 504.6,289.6 508.6,289.6 512.5,289.5 516.5,289.5 520.5,289.4 524.5,289.4 528.4,289.4 532.4,289.4 536.4,289.4 540.4,289.4 544.4,289.4 548.3,289.4 552.3,289.5 556.3,289.5 560.3,289.6 564.3,290.0 568.2,290.5 572.2,291.0 576.2,291.7 580.2,292.4 584.1,293.1 588.1,293.9 592.1,294.6 596.1,295.3 600.1,296.0 604.0,296.6 608.0,297.1 612.0,297.5 612.0,318.3 608.0,318.1 604.0,317.9 600.1,317.5 596.1,317.1 592.1,316.6 588.1,316.1 584.1,315.6 580.2,315.1 576.2,314.7 572.2,314.3 568.2,314.0 564.3,313.7 560.3,313.6 556.3,313.5 552.3,313.5 548.3,313.4 544.4,313.4 540.4,313.4 536.4,313.4 532.4,313.4 528.4,313.4 524.5,313.4 520.5,313.4 516.5,313.5 512.5,313.5 508.6,313.6 504.6,313.6 500.6,313.7 496.6,313.7 492.6,313.8 488.7,313.9 484.7,314.0 480.7,314.0 476.7,314.1 472.7,314.2 468.8,314.3 464.8,314.3 460.8,314.4 456.8,314.5 452.9,314.6 448.9,314.6 444.9,314.7 440.9,314.8 436.9,314.8 433.0,314.9 429.0,315.0 425.0,315.0 421.0,315.0 417.0,315.1 413.1,315.1 409.1,315.1 405.1,315.1 401.1,315.1 397.1,315.1 393.2,315.1 389.2,315.1 385.2,315.1 381.2,315.1 377.3,315.1 373.3,315.1 369.3,315.1 365.3,315.1 361.3,315.1 357.4,315.1 353.4,315.1 349.4,315.1 345.4,315.1 341.4,315.1 337.5,315.1 333.5,315.1 329.5,315.1 325.5,315.1 321.6,315.1 317.6,315.1 313.6,315.1 309.6,315.2 305.6,315.2 301.7,315.2 297.7,315.3 293.7,315.3 289.7,315.4 285.7,315.5 281.8,315.5 277.8,315.6 273.8,315.7 269.8,315.8 265.9,315.9 261.9,316.0 257.9,316.9 253.9,318.2 249.9,319.7 246.0,321.2 242.0,322.4 238.0,323.2Z" fill="url(#g84)" filter="url(#b11_10p6)"/>
<path d="M100.0,360.9 103.9,360.9 107.9,361.0 111.8,361.1 115.8,361.2 119.7,361.3 123.7,361.3 127.6,361.1 131.6,360.8 135.5,360.3 139.5,359.7 143.4,359.0 147.4,358.1 151.3,357.1 155.3,356.1 159.2,355.0 163.2,353.8 167.1,352.7 171.1,351.6 175.0,350.4 178.9,349.4 182.9,348.3 186.8,347.0 190.8,345.8 194.7,344.6 198.7,343.4 202.6,342.2 206.6,341.2 210.5,340.3 214.5,339.2 218.4,338.2 222.4,337.5 226.3,337.0 230.3,336.1 234.2,334.9 238.2,333.5 242.1,332.0 246.1,330.8 250.0,330.0 250.0,358.8 246.1,360.1 242.1,361.8 238.2,363.7 234.2,365.6 230.3,367.2 226.3,368.7 222.4,369.8 218.4,371.0 214.5,372.6 210.5,374.1 206.6,375.4 202.6,376.8 198.7,378.4 194.7,379.9 190.8,381.6 186.8,383.2 182.9,384.8 178.9,386.3 175.0,387.6 171.1,388.8 167.1,389.9 163.2,391.0 159.2,392.2 155.3,393.3 151.3,394.3 147.4,395.3 143.4,396.2 139.5,396.9 135.5,397.5 131.6,398.0 127.6,398.3 123.7,398.5 119.7,398.5 115.8,398.4 111.8,398.3 107.9,398.2 103.9,398.1 100.0,398.1Z" fill="url(#g85)" filter="url(#b10p4_21p4)"/><path d="M100.0,367.1 103.9,367.1 107.9,367.2 111.8,367.3 115.8,367.4 119.7,367.5 123.7,367.5 127.6,367.3 131.6,367.0 135.5,366.5 139.5,365.9 143.4,365.2 147.4,364.3 151.3,363.3 155.3,362.3 159.2,361.2 163.2,360.0 167.1,358.9 171.1,357.8 175.0,356.6 178.9,355.5 182.9,354.3 186.8,353.1 190.8,351.8 194.7,350.5 198.7,349.2 202.6,348.0 206.6,346.9 210.5,345.9 214.5,344.8 218.4,343.6 222.4,342.9 226.3,342.2 230.3,341.3 234.2,340.0 238.2,338.5 242.1,337.0 246.1,335.7 250.0,334.8 250.0,354.0 246.1,355.2 242.1,356.8 238.2,358.6 234.2,360.5 230.3,362.0 226.3,363.4 222.4,364.4 218.4,365.5 214.5,367.0 210.5,368.5 206.6,369.7 202.6,371.1 198.7,372.5 194.7,374.1 190.8,375.6 186.8,377.2 182.9,378.7 178.9,380.1 175.0,381.4 171.1,382.6 167.1,383.7 163.2,384.8 159.2,386.0 155.3,387.1 151.3,388.1 147.4,389.1 143.4,390.0 139.5,390.7 135.5,391.3 131.6,391.8 127.6,392.1 123.7,392.3 119.7,392.3 115.8,392.2 111.8,392.1 107.9,392.0 103.9,391.9 100.0,391.9Z" fill="url(#g86)" filter="url(#b8_10p7)"/>
<path d="M610.0,330.0 613.9,330.8 617.9,332.0 621.8,333.5 625.8,334.9 629.7,336.1 633.7,337.0 637.6,337.5 641.6,338.2 645.5,339.2 649.5,340.3 653.4,341.2 657.4,342.2 661.3,343.4 665.3,344.6 669.2,345.8 673.2,347.0 677.1,348.3 681.1,349.4 685.0,350.4 688.9,351.6 692.9,352.7 696.8,353.9 700.8,355.0 704.7,356.1 708.7,357.1 712.6,358.1 716.6,359.0 720.5,359.7 724.5,360.3 728.4,360.8 732.4,361.1 736.3,361.3 740.3,361.3 744.2,361.2 748.2,361.1 752.1,361.0 756.1,360.9 760.0,360.9 760.0,398.1 756.1,398.1 752.1,398.2 748.2,398.3 744.2,398.4 740.3,398.5 736.3,398.5 732.4,398.3 728.4,398.0 724.5,397.5 720.5,396.9 716.6,396.2 712.6,395.3 708.7,394.3 704.7,393.3 700.8,392.2 696.8,391.1 692.9,389.9 688.9,388.8 685.0,387.6 681.1,386.3 677.1,384.8 673.2,383.2 669.2,381.6 665.3,379.9 661.3,378.4 657.4,376.8 653.4,375.4 649.5,374.1 645.5,372.6 641.6,371.0 637.6,369.8 633.7,368.7 629.7,367.2 625.8,365.6 621.8,363.7 617.9,361.8 613.9,360.1 610.0,358.8Z" fill="url(#g87)" filter="url(#b10p4_21p4)"/><path d="M610.0,334.8 613.9,335.7 617.9,337.0 621.8,338.5 625.8,340.0 629.7,341.3 633.7,342.2 637.6,342.9 641.6,343.6 645.5,344.8 649.5,345.9 653.4,346.9 657.4,348.0 661.3,349.2 665.3,350.5 669.2,351.8 673.2,353.1 677.1,354.3 681.1,355.5 685.0,356.6 688.9,357.8 692.9,358.9 696.8,360.1 700.8,361.2 704.7,362.3 708.7,363.3 712.6,364.3 716.6,365.2 720.5,365.9 724.5,366.5 728.4,367.0 732.4,367.3 736.3,367.5 740.3,367.5 744.2,367.4 748.2,367.3 752.1,367.2 756.1,367.1 760.0,367.1 760.0,391.9 756.1,391.9 752.1,392.0 748.2,392.1 744.2,392.2 740.3,392.3 736.3,392.3 732.4,392.1 728.4,391.8 724.5,391.3 720.5,390.7 716.6,390.0 712.6,389.1 708.7,388.1 704.7,387.1 700.8,386.0 696.8,384.9 692.9,383.7 688.9,382.6 685.0,381.4 681.1,380.1 677.1,378.7 673.2,377.2 669.2,375.6 665.3,374.1 661.3,372.5 657.4,371.1 653.4,369.7 649.5,368.5 645.5,367.0 641.6,365.5 637.6,364.4 633.7,363.4 629.7,362.0 625.8,360.5 621.8,358.6 617.9,356.8 613.9,355.2 610.0,354.0Z" fill="url(#g88)" filter="url(#b8_10p7)"/>
</g></g>
<line x1="132" y1="249.5" x2="724.8" y2="249.5" stroke="#757575" stroke-width="5.4" stroke-dasharray="22.4 10.4" stroke-dashoffset="-0.8"/>
<path d="M132.0,348.3 136.0,348.6 140.0,348.6 144.0,348.3 148.0,347.8 152.0,347.0 156.0,346.1 160.0,344.9 164.0,343.5 168.0,341.9 172.0,340.1 176.0,338.1 180.0,336.0 184.0,333.7 188.0,331.2 192.0,328.6 196.0,325.9 200.0,323.1 204.0,320.1 208.0,317.1 212.0,314.0 216.0,310.8 220.0,307.5 224.0,304.3 228.0,300.9 232.0,297.6 236.0,294.3 240.0,290.9 244.0,287.6 248.0,284.3 252.0,281.0 256.0,277.8 260.0,274.6 264.0,271.5 268.0,268.5 272.0,265.5 276.0,262.7 280.0,259.9 284.0,257.3 288.0,254.7 292.0,252.3 296.0,250.1 300.0,247.9 304.0,245.9 308.0,244.1 312.0,242.3 316.0,240.8 320.0,239.3 324.0,238.0 328.0,236.8 332.0,235.8 336.0,234.9 340.0,234.0 344.0,233.3 348.0,232.7 352.0,232.1 356.0,231.6 360.0,231.2 364.0,230.8 368.0,230.4 372.0,230.0 376.0,229.6 380.0,229.2 384.0,228.8 388.0,228.3 392.0,227.8 396.0,227.3 400.0,226.7 404.0,226.2 408.0,225.5 412.0,224.9 416.0,224.2 420.0,223.6 424.0,222.9 428.0,222.2 432.0,221.6 436.0,221.0 440.0,220.4 444.0,219.9 448.0,219.4 452.0,218.9 456.0,218.6 460.0,218.3 464.0,218.1 468.0,217.9 472.0,217.9 476.0,217.9 480.0,218.1 484.0,218.3 488.0,218.7 492.0,219.1 496.0,219.7 500.0,220.3 504.0,221.1 508.0,222.0 512.0,223.1 516.0,224.2 520.0,225.5 524.0,226.8 528.0,228.3 532.0,229.9 536.0,231.6 540.0,233.5 544.0,235.4 548.0,237.5 552.0,239.6 556.0,241.9 560.0,244.2 564.0,246.7 568.0,249.2 572.0,251.8 576.0,254.5 580.0,257.3 584.0,260.1 588.0,263.0 592.0,266.0 596.0,269.0 600.0,272.0 604.0,275.1 608.0,278.2 612.0,281.3 616.0,284.5 620.0,287.6 624.0,290.8 628.0,294.0 632.0,297.1 636.0,300.2 640.0,303.3 644.0,306.4 648.0,309.4 652.0,312.4 656.0,315.3 660.0,318.2 664.0,321.0 668.0,323.7 672.0,326.3 676.0,328.8 680.0,331.2 684.0,333.5 688.0,335.7 692.0,337.8 696.0,339.7 700.0,341.4 704.0,343.0 708.0,344.4 712.0,345.7 716.0,346.7 720.0,347.6 724.0,348.2 724.8,348.3" fill="none" stroke="#3e3f41" stroke-width="5.2" stroke-linejoin="round"/>
<line x1="724.8" y1="54.78" x2="821" y2="54.78" stroke="#b2b2b2" stroke-width="3"/>
<line x1="724.8" y1="152.14" x2="821" y2="152.14" stroke="#b2b2b2" stroke-width="3"/>
<line x1="724.8" y1="249.5" x2="821" y2="249.5" stroke="#b2b2b2" stroke-width="3"/>
<line x1="724.8" y1="346.86" x2="821" y2="346.86" stroke="#b2b2b2" stroke-width="3"/>
<line x1="724.8" y1="444.22" x2="821" y2="444.22" stroke="#b2b2b2" stroke-width="3"/>
<path d="M729.8,5.5 C729.8,5.8 729.8,2.37 729.8,7.3 C729.8,12.23 729.73,27.57 729.8,35.1 C729.87,42.63 729.9,46.7 730.2,52.5 C730.5,58.3 730.78,64.12 731.6,69.9 C732.42,75.68 733.57,81.42 735.1,87.2 C736.63,92.98 738.68,99.77 740.8,104.6 C742.92,109.43 744.9,112.33 747.8,116.2 C750.7,120.07 754.15,123.93 758.2,127.8 C762.25,131.67 767.27,135.55 772.1,139.4 C776.93,143.25 782.57,147.05 787.2,150.9 C791.83,154.75 796.92,158.63 799.9,162.5 C802.88,166.37 805.3,170.23 805.1,174.1 C804.9,177.97 802.47,181.85 798.7,185.7 C794.93,189.55 787.9,193.35 782.5,197.2 C777.1,201.05 770.53,204.93 766.3,208.8 C762.07,212.67 758.45,217.3 757.1,220.4 C755.75,223.5 755.12,224.5 758.2,227.4 C761.28,230.3 769.42,235.1 775.6,237.8 C781.78,240.5 788.35,241.53 795.3,243.6 C802.25,245.67 817.3,247.83 817.3,250.2 C817.3,252.57 801.48,255.18 795.3,257.8 C789.12,260.42 783.38,263.02 780.2,265.9 C777.02,268.78 776.2,270.67 776.2,275.1 C776.2,279.53 779.15,286.7 780.2,292.5 C781.25,298.3 782.22,305.07 782.5,309.9 C782.78,314.73 783.05,316.68 781.9,321.5 C780.75,326.32 778.2,333.02 775.6,338.8 C773,344.58 769.58,350.4 766.3,356.2 C763.02,362 759.37,367.82 755.9,373.6 C752.43,379.38 748.58,385.12 745.5,390.9 C742.42,396.68 739.53,402.5 737.4,408.3 C735.27,414.1 733.87,418.95 732.7,425.7 C731.53,432.45 730.97,438.18 730.4,448.8 C729.83,459.42 729.5,481.97 729.3,489.4 C729.1,496.83 729.22,492.73 729.2,493.4" fill="none" stroke="#d62728" stroke-width="5.2" stroke-linejoin="round" clip-path="url(#clipLoc)"/>
<text x="740.2" y="44.6" font-size="36.5" textLength="59.5" lengthAdjust="spacingAndGlyphs">loc.</text>
<rect x="132" y="5.5" width="592.8" height="487.9" fill="none" stroke="#000" stroke-width="3.3" stroke-linejoin="miter"/>
<rect x="724.8" y="5.5" width="96.2" height="487.9" fill="none" stroke="#000" stroke-width="3.3"/>
<line x1="120.4" y1="54.78" x2="132" y2="54.78" stroke="#000" stroke-width="3.3" stroke-linecap="round"/>
<line x1="713.2" y1="54.78" x2="724.8" y2="54.78" stroke="#000" stroke-width="3.3" stroke-linecap="round"/>
<line x1="120.4" y1="152.14" x2="132" y2="152.14" stroke="#000" stroke-width="3.3" stroke-linecap="round"/>
<line x1="713.2" y1="152.14" x2="724.8" y2="152.14" stroke="#000" stroke-width="3.3" stroke-linecap="round"/>
<line x1="120.4" y1="249.5" x2="132" y2="249.5" stroke="#000" stroke-width="3.3" stroke-linecap="round"/>
<line x1="713.2" y1="249.5" x2="724.8" y2="249.5" stroke="#000" stroke-width="3.3" stroke-linecap="round"/>
<line x1="120.4" y1="346.86" x2="132" y2="346.86" stroke="#000" stroke-width="3.3" stroke-linecap="round"/>
<line x1="713.2" y1="346.86" x2="724.8" y2="346.86" stroke="#000" stroke-width="3.3" stroke-linecap="round"/>
<line x1="120.4" y1="444.22" x2="132" y2="444.22" stroke="#000" stroke-width="3.3" stroke-linecap="round"/>
<line x1="713.2" y1="444.22" x2="724.8" y2="444.22" stroke="#000" stroke-width="3.3" stroke-linecap="round"/>
<line x1="132" y1="493.4" x2="132" y2="505" stroke="#000" stroke-width="3.3" stroke-linecap="round"/>
<line x1="357" y1="493.4" x2="357" y2="505" stroke="#000" stroke-width="3.3" stroke-linecap="round"/>
<line x1="489.4" y1="493.4" x2="489.4" y2="505" stroke="#000" stroke-width="3.3" stroke-linecap="round"/>
<line x1="724.8" y1="493.4" x2="724.8" y2="505" stroke="#000" stroke-width="3.3" stroke-linecap="round"/>
<text transform="translate(86.48,65.53) scale(1.1020,1)" font-size="28.63">4</text>
<text transform="translate(84.93,162.89) scale(1.1048,1)" font-size="28.21">2</text>
<text transform="translate(85.12,259.98) scale(1.0826,1)" font-size="27.82">0</text>
<text transform="translate(84.93,357.61) scale(1.1048,1)" font-size="28.21">2</text>
<rect x="65.2" y="346.01" width="18.4" height="2.7" fill="#000"/>
<text transform="translate(85.29,454.97) scale(1.0812,1)" font-size="28.63">4</text>
<rect x="65.2" y="443.37" width="18.4" height="2.7" fill="#000"/>
<text font-size="28.4" text-anchor="middle"><tspan x="133" y="545">Γ</tspan><tspan x="359.3" y="545">M</tspan><tspan x="491.8" y="545">K</tspan><tspan x="725.7" y="545">Γ</tspan></text>
<text transform="translate(150.73,62.09) scale(1.0349,1)" font-size="62.48" font-style="italic">ε</text><text transform="translate(181.6,72.3) scale(0.8261,1)" font-size="45.79">E</text><rect x="226.4" y="36.3" width="37.6" height="4.5"/><rect x="226.4" y="48.2" width="37.6" height="4.5"/><text transform="translate(283.89,62.1) scale(1.0529,1)" font-size="61.86">5.0</text>
<rect x="851.2" y="27.5" width="22" height="444.5" fill="url(#cb2)"/>
<rect x="851.2" y="27.5" width="22" height="444.5" fill="none" stroke="#000" stroke-width="3.3"/>
<line x1="873.2" y1="472" x2="884.8" y2="472" stroke="#000" stroke-width="3.3" stroke-linecap="round"/>
<text transform="translate(903.32,483.58) scale(1.0902,1)" font-size="27.82">0.0</text>
<line x1="873.2" y1="422.93" x2="884.8" y2="422.93" stroke="#000" stroke-width="3.3" stroke-linecap="round"/>
<text transform="translate(903.31,434.51) scale(1.0943,1)" font-size="27.82">0.6</text>
<line x1="873.2" y1="373.86" x2="884.8" y2="373.86" stroke="#000" stroke-width="3.3" stroke-linecap="round"/>
<text transform="translate(902.1,385.71) scale(1.1163,1)" font-size="28.21">1.2</text>
<line x1="873.2" y1="324.79" x2="884.8" y2="324.79" stroke="#000" stroke-width="3.3" stroke-linecap="round"/>
<text transform="translate(902.11,336.37) scale(1.1258,1)" font-size="27.82">1.8</text>
<line x1="873.2" y1="275.72" x2="884.8" y2="275.72" stroke="#000" stroke-width="3.3" stroke-linecap="round"/>
<text transform="translate(902.97,287.57) scale(1.0764,1)" font-size="28.21">2.4</text>
<line x1="873.2" y1="226.65" x2="884.8" y2="226.65" stroke="#000" stroke-width="3.3" stroke-linecap="round"/>
<text transform="translate(903.35,238.22) scale(1.0894,1)" font-size="27.82">3.0</text>
<line x1="873.2" y1="177.57" x2="884.8" y2="177.57" stroke="#000" stroke-width="3.3" stroke-linecap="round"/>
<text transform="translate(903.34,189.15) scale(1.0935,1)" font-size="27.82">3.6</text>
<line x1="873.2" y1="128.5" x2="884.8" y2="128.5" stroke="#000" stroke-width="3.3" stroke-linecap="round"/>
<text transform="translate(903.81,140.35) scale(1.0712,1)" font-size="28.21">4.2</text>
<line x1="873.2" y1="79.43" x2="884.8" y2="79.43" stroke="#000" stroke-width="3.3" stroke-linecap="round"/>
<text transform="translate(903.81,91.01) scale(1.0806,1)" font-size="27.82">4.8</text>
<line x1="873.2" y1="30.36" x2="884.8" y2="30.36" stroke="#000" stroke-width="3.3" stroke-linecap="round"/>
<text transform="translate(903.29,41.94) scale(1.0673,1)" font-size="28.23">5.4</text>
<text transform="translate(34.6,251.4) rotate(-90)" font-size="45" text-anchor="middle" textLength="119.5" lengthAdjust="spacingAndGlyphs">E (eV)</text>
</g>
<g transform="translate(0,1919.4)">
<g clip-path="url(#clipAx)"><g filter="url(#cmap)">
<rect x="92" y="-34.5" width="672.8" height="567.9" fill="rgb(8,8,8)"/>
<path d="M215.0,342.5 219.0,343.2 223.0,344.1 226.9,345.4 230.9,346.8 234.9,348.4 238.9,350.0 242.9,351.8 246.9,353.6 250.8,355.3 254.8,357.0 258.8,358.6 262.8,360.0 266.8,361.2 270.7,362.1 274.7,362.4 278.7,362.8 282.7,363.1 286.7,363.5 290.6,363.8 294.6,364.1 298.6,364.5 302.6,364.8 306.6,365.1 310.6,365.4 314.5,365.7 318.5,365.9 322.5,366.2 326.5,366.5 330.5,366.7 334.4,367.0 338.4,367.2 342.4,367.4 346.4,367.6 350.4,367.8 354.4,368.0 358.3,368.2 362.3,368.4 366.3,368.5 370.3,368.7 374.3,368.8 378.2,368.9 382.2,369.0 386.2,369.1 390.2,369.2 394.2,369.3 398.1,369.4 402.1,369.4 406.1,369.4 410.1,369.5 414.1,369.5 418.1,369.5 422.0,369.4 426.0,369.4 430.0,369.3 434.0,369.4 438.0,369.4 441.9,369.5 445.9,369.5 449.9,369.5 453.9,369.4 457.9,369.4 461.9,369.4 465.8,369.3 469.8,369.2 473.8,369.1 477.8,369.0 481.8,368.9 485.7,368.8 489.7,368.7 493.7,368.5 497.7,368.4 501.7,368.2 505.6,368.0 509.6,367.8 513.6,367.6 517.6,367.4 521.6,367.2 525.6,367.0 529.5,366.7 533.5,366.5 537.5,366.2 541.5,365.9 545.5,365.7 549.4,365.4 553.4,365.1 557.4,364.8 561.4,364.5 565.4,364.1 569.4,363.8 573.3,363.5 577.3,363.1 581.3,362.8 585.3,362.4 589.3,362.1 593.2,361.2 597.2,360.0 601.2,358.6 605.2,357.0 609.2,355.3 613.1,353.6 617.1,351.8 621.1,350.0 625.1,348.4 629.1,346.8 633.1,345.4 637.0,344.1 641.0,343.2 645.0,342.5 645.0,409.7 641.0,411.1 637.0,412.7 633.1,414.6 629.1,416.8 625.1,419.0 621.1,421.4 617.1,423.9 613.1,426.3 609.2,428.8 605.2,431.1 601.2,433.4 597.2,435.5 593.2,437.4 589.3,438.9 585.3,439.4 581.3,439.9 577.3,440.3 573.3,440.8 569.4,441.2 565.4,441.7 561.4,442.1 557.4,442.5 553.4,443.0 549.4,443.4 545.5,443.8 541.5,444.2 537.5,444.6 533.5,445.0 529.5,445.3 525.6,445.7 521.6,446.0 517.6,446.4 513.6,446.7 509.6,447.0 505.6,447.3 501.7,447.6 497.7,447.9 493.7,448.2 489.7,448.5 485.7,448.7 481.8,449.0 477.8,449.2 473.8,449.4 469.8,449.6 465.8,449.8 461.9,450.0 457.9,450.2 453.9,450.3 449.9,450.5 445.9,450.6 441.9,450.7 438.0,450.8 434.0,450.9 430.0,450.9 426.0,450.9 422.0,450.8 418.1,450.7 414.1,450.6 410.1,450.5 406.1,450.3 402.1,450.2 398.1,450.0 394.2,449.8 390.2,449.6 386.2,449.4 382.2,449.2 378.2,449.0 374.3,448.7 370.3,448.5 366.3,448.2 362.3,447.9 358.3,447.6 354.4,447.3 350.4,447.0 346.4,446.7 342.4,446.4 338.4,446.0 334.4,445.7 330.5,445.3 326.5,445.0 322.5,444.6 318.5,444.2 314.5,443.8 310.6,443.4 306.6,443.0 302.6,442.5 298.6,442.1 294.6,441.7 290.6,441.2 286.7,440.8 282.7,440.3 278.7,439.9 274.7,439.4 270.7,438.9 266.8,437.4 262.8,435.5 258.8,433.4 254.8,431.1 250.8,428.8 246.9,426.3 242.9,423.9 238.9,421.4 234.9,419.0 230.9,416.8 226.9,414.6 223.0,412.7 219.0,411.1 215.0,409.7Z" fill="url(#g89)" filter="url(#b26_46p2)"/><path d="M215.0,353.7 219.0,354.5 223.0,355.6 226.9,356.9 230.9,358.4 234.9,360.1 238.9,361.9 242.9,363.8 246.9,365.7 250.8,367.6 254.8,369.4 258.8,371.0 262.8,372.6 266.8,373.9 270.7,374.9 274.7,375.3 278.7,375.6 282.7,376.0 286.7,376.4 290.6,376.7 294.6,377.1 298.6,377.4 302.6,377.7 306.6,378.1 310.6,378.4 314.5,378.7 318.5,379.0 322.5,379.3 326.5,379.5 330.5,379.8 334.4,380.1 338.4,380.3 342.4,380.6 346.4,380.8 350.4,381.0 354.4,381.2 358.3,381.4 362.3,381.6 366.3,381.8 370.3,382.0 374.3,382.1 378.2,382.3 382.2,382.4 386.2,382.5 390.2,382.6 394.2,382.7 398.1,382.8 402.1,382.9 406.1,382.9 410.1,383.0 414.1,383.0 418.1,383.0 422.0,383.0 426.0,383.0 430.0,382.9 434.0,383.0 438.0,383.0 441.9,383.0 445.9,383.0 449.9,383.0 453.9,382.9 457.9,382.9 461.9,382.8 465.8,382.7 469.8,382.6 473.8,382.5 477.8,382.4 481.8,382.3 485.7,382.1 489.7,382.0 493.7,381.8 497.7,381.6 501.7,381.4 505.6,381.2 509.6,381.0 513.6,380.8 517.6,380.6 521.6,380.3 525.6,380.1 529.5,379.8 533.5,379.5 537.5,379.3 541.5,379.0 545.5,378.7 549.4,378.4 553.4,378.1 557.4,377.7 561.4,377.4 565.4,377.1 569.4,376.7 573.3,376.4 577.3,376.0 581.3,375.6 585.3,375.3 589.3,374.9 593.2,373.9 597.2,372.6 601.2,371.0 605.2,369.4 609.2,367.6 613.1,365.7 617.1,363.8 621.1,361.9 625.1,360.1 629.1,358.4 633.1,356.9 637.0,355.6 641.0,354.5 645.0,353.7 645.0,398.5 641.0,399.7 637.0,401.3 633.1,403.1 629.1,405.1 625.1,407.3 621.1,409.5 617.1,411.8 613.1,414.2 609.2,416.5 605.2,418.8 601.2,420.9 597.2,422.9 593.2,424.7 589.3,426.1 585.3,426.6 581.3,427.0 577.3,427.5 573.3,427.9 569.4,428.3 565.4,428.8 561.4,429.2 557.4,429.6 553.4,430.0 549.4,430.4 545.5,430.8 541.5,431.1 537.5,431.5 533.5,431.9 529.5,432.2 525.6,432.6 521.6,432.9 517.6,433.2 513.6,433.5 509.6,433.8 505.6,434.1 501.7,434.4 497.7,434.7 493.7,434.9 489.7,435.2 485.7,435.4 481.8,435.6 477.8,435.8 473.8,436.0 469.8,436.2 465.8,436.4 461.9,436.6 457.9,436.7 453.9,436.8 449.9,437.0 445.9,437.1 441.9,437.2 438.0,437.2 434.0,437.3 430.0,437.3 426.0,437.3 422.0,437.2 418.1,437.2 414.1,437.1 410.1,437.0 406.1,436.8 402.1,436.7 398.1,436.6 394.2,436.4 390.2,436.2 386.2,436.0 382.2,435.8 378.2,435.6 374.3,435.4 370.3,435.2 366.3,434.9 362.3,434.7 358.3,434.4 354.4,434.1 350.4,433.8 346.4,433.5 342.4,433.2 338.4,432.9 334.4,432.6 330.5,432.2 326.5,431.9 322.5,431.5 318.5,431.1 314.5,430.8 310.6,430.4 306.6,430.0 302.6,429.6 298.6,429.2 294.6,428.8 290.6,428.3 286.7,427.9 282.7,427.5 278.7,427.0 274.7,426.6 270.7,426.1 266.8,424.7 262.8,422.9 258.8,420.9 254.8,418.8 250.8,416.5 246.9,414.2 242.9,411.8 238.9,409.5 234.9,407.3 230.9,405.1 226.9,403.1 223.0,401.3 219.0,399.7 215.0,398.5Z" fill="url(#g90)" filter="url(#b20_23p1)"/>
<path d="M100.0,175.5 104.0,175.5 108.0,175.5 112.0,175.5 116.0,175.5 120.0,175.5 124.0,175.5 128.0,175.5 132.0,175.5 136.0,175.5 140.0,175.5 144.0,175.5 148.0,175.5 152.0,175.5 156.0,175.5 160.0,175.5 164.0,175.5 168.0,175.5 172.0,175.5 176.0,175.5 180.0,175.5 184.0,175.5 188.0,175.6 192.0,175.6 196.0,175.6 200.0,175.6 204.0,175.6 208.0,175.5 212.0,175.5 216.0,175.5 220.0,175.5 224.0,175.5 228.0,175.5 232.0,175.5 236.0,175.5 240.0,175.5 244.0,175.5 248.0,175.5 252.0,175.5 256.0,175.5 260.0,175.3 264.0,175.1 268.0,174.7 272.0,174.0 276.0,172.4 280.0,170.6 284.0,168.6 288.0,166.9 292.0,165.7 292.0,196.9 288.0,198.1 284.0,199.8 280.0,201.8 276.0,203.6 272.0,205.2 268.0,205.9 264.0,206.3 260.0,206.5 256.0,206.7 252.0,206.7 248.0,206.7 244.0,206.7 240.0,206.7 236.0,206.7 232.0,206.7 228.0,206.7 224.0,206.7 220.0,206.7 216.0,206.7 212.0,206.7 208.0,206.7 204.0,206.8 200.0,206.8 196.0,206.8 192.0,206.8 188.0,206.8 184.0,206.7 180.0,206.7 176.0,206.7 172.0,206.7 168.0,206.7 164.0,206.7 160.0,206.7 156.0,206.7 152.0,206.7 148.0,206.7 144.0,206.7 140.0,206.7 136.0,206.7 132.0,206.7 128.0,206.7 124.0,206.7 120.0,206.7 116.0,206.7 112.0,206.7 108.0,206.7 104.0,206.7 100.0,206.7Z" fill="url(#g91)" filter="url(#b11p7_19p5)"/><path d="M100.0,180.7 104.0,180.7 108.0,180.7 112.0,180.7 116.0,180.7 120.0,180.7 124.0,180.7 128.0,180.7 132.0,180.7 136.0,180.7 140.0,180.7 144.0,180.7 148.0,180.7 152.0,180.7 156.0,180.7 160.0,180.7 164.0,180.7 168.0,180.7 172.0,180.7 176.0,180.7 180.0,180.7 184.0,180.7 188.0,180.8 192.0,180.8 196.0,180.8 200.0,180.8 204.0,180.8 208.0,180.7 212.0,180.7 216.0,180.7 220.0,180.7 224.0,180.7 228.0,180.7 232.0,180.7 236.0,180.7 240.0,180.7 244.0,180.7 248.0,180.7 252.0,180.7 256.0,180.7 260.0,180.5 264.0,180.3 268.0,179.9 272.0,179.2 276.0,177.6 280.0,175.8 284.0,173.8 288.0,172.1 292.0,170.9 292.0,191.7 288.0,192.9 284.0,194.6 280.0,196.6 276.0,198.4 272.0,200.0 268.0,200.7 264.0,201.1 260.0,201.3 256.0,201.5 252.0,201.5 248.0,201.5 244.0,201.5 240.0,201.5 236.0,201.5 232.0,201.5 228.0,201.5 224.0,201.5 220.0,201.5 216.0,201.5 212.0,201.5 208.0,201.5 204.0,201.6 200.0,201.6 196.0,201.6 192.0,201.6 188.0,201.6 184.0,201.5 180.0,201.5 176.0,201.5 172.0,201.5 168.0,201.5 164.0,201.5 160.0,201.5 156.0,201.5 152.0,201.5 148.0,201.5 144.0,201.5 140.0,201.5 136.0,201.5 132.0,201.5 128.0,201.5 124.0,201.5 120.0,201.5 116.0,201.5 112.0,201.5 108.0,201.5 104.0,201.5 100.0,201.5Z" fill="url(#g92)" filter="url(#b9_9p8)"/>
<path d="M575.0,170.6 578.9,172.0 582.9,174.1 586.8,176.2 590.7,177.7 594.7,178.0 598.6,178.0 602.6,177.9 606.5,177.6 610.4,177.2 614.4,176.8 618.3,176.4 622.2,176.0 626.2,175.7 630.1,175.5 634.0,175.4 638.0,175.4 641.9,175.4 645.9,175.3 649.8,175.3 653.7,175.3 657.7,175.3 661.6,175.3 665.5,175.3 669.5,175.3 673.4,175.3 677.3,175.3 681.3,175.3 685.2,175.4 689.1,175.4 693.1,175.4 697.0,175.4 701.0,175.4 704.9,175.4 708.8,175.5 712.8,175.5 716.7,175.5 720.6,175.5 724.6,175.5 728.5,175.5 732.4,175.5 736.4,175.5 740.3,175.5 744.3,175.5 748.2,175.5 752.1,175.5 756.1,175.5 760.0,175.5 760.0,206.7 756.1,206.7 752.1,206.7 748.2,206.7 744.3,206.7 740.3,206.7 736.4,206.7 732.4,206.7 728.5,206.7 724.6,206.7 720.6,206.7 716.7,206.7 712.8,206.7 708.8,206.7 704.9,206.6 701.0,206.6 697.0,206.6 693.1,206.6 689.1,206.6 685.2,206.6 681.3,206.5 677.3,206.5 673.4,206.5 669.5,206.5 665.5,206.5 661.6,206.5 657.7,206.5 653.7,206.5 649.8,206.5 645.9,206.5 641.9,206.6 638.0,206.6 634.0,206.6 630.1,206.7 626.2,206.9 622.2,207.2 618.3,207.6 614.4,208.0 610.4,208.4 606.5,208.8 602.6,209.1 598.6,209.2 594.7,209.2 590.7,208.9 586.8,207.4 582.9,205.3 578.9,203.2 575.0,201.8Z" fill="url(#g93)" filter="url(#b11p7_19p5)"/><path d="M575.0,175.8 578.9,177.2 582.9,179.3 586.8,181.4 590.7,182.9 594.7,183.2 598.6,183.2 602.6,183.1 606.5,182.8 610.4,182.4 614.4,182.0 618.3,181.6 622.2,181.2 626.2,180.9 630.1,180.7 634.0,180.6 638.0,180.6 641.9,180.6 645.9,180.5 649.8,180.5 653.7,180.5 657.7,180.5 661.6,180.5 665.5,180.5 669.5,180.5 673.4,180.5 677.3,180.5 681.3,180.5 685.2,180.6 689.1,180.6 693.1,180.6 697.0,180.6 701.0,180.6 704.9,180.6 708.8,180.7 712.8,180.7 716.7,180.7 720.6,180.7 724.6,180.7 728.5,180.7 732.4,180.7 736.4,180.7 740.3,180.7 744.3,180.7 748.2,180.7 752.1,180.7 756.1,180.7 760.0,180.7 760.0,201.5 756.1,201.5 752.1,201.5 748.2,201.5 744.3,201.5 740.3,201.5 736.4,201.5 732.4,201.5 728.5,201.5 724.6,201.5 720.6,201.5 716.7,201.5 712.8,201.5 708.8,201.5 704.9,201.4 701.0,201.4 697.0,201.4 693.1,201.4 689.1,201.4 685.2,201.4 681.3,201.3 677.3,201.3 673.4,201.3 669.5,201.3 665.5,201.3 661.6,201.3 657.7,201.3 653.7,201.3 649.8,201.3 645.9,201.3 641.9,201.4 638.0,201.4 634.0,201.4 630.1,201.5 626.2,201.7 622.2,202.0 618.3,202.4 614.4,202.8 610.4,203.2 606.5,203.6 602.6,203.9 598.6,204.0 594.7,204.0 590.7,203.7 586.8,202.2 582.9,200.1 578.9,198.0 575.0,196.6Z" fill="url(#g94)" filter="url(#b9_9p8)"/>
<path d="M240.0,161.0 244.0,160.0 247.9,158.7 251.9,157.2 255.9,155.5 259.8,153.7 263.8,152.0 267.8,150.3 271.7,148.7 275.7,147.3 279.7,145.7 283.6,144.2 287.6,142.8 291.6,141.5 295.5,140.4 299.5,139.2 303.5,138.4 307.4,137.7 311.4,137.1 315.4,136.5 319.3,136.0 323.3,135.5 327.3,135.0 331.2,134.6 335.2,134.4 339.2,134.3 343.2,134.2 347.1,134.1 351.1,134.0 355.1,133.9 359.0,133.8 363.0,133.7 367.0,133.6 370.9,133.5 374.9,133.4 378.9,133.3 382.8,133.2 386.8,133.1 390.8,133.0 394.7,132.9 398.7,132.8 402.7,132.7 406.6,132.6 410.6,132.5 414.6,132.4 418.5,132.2 422.5,132.0 426.5,131.8 430.4,131.5 434.4,131.2 438.4,130.9 442.3,130.6 446.3,130.3 450.3,130.0 454.2,129.7 458.2,129.4 462.2,129.2 466.1,129.0 470.1,128.9 474.1,128.8 478.0,128.7 482.0,128.7 486.0,128.7 489.9,128.7 493.9,128.8 497.9,128.9 501.8,129.1 505.8,129.4 509.8,129.8 513.8,130.2 517.7,130.8 521.7,131.7 525.7,133.1 529.6,134.6 533.6,136.3 537.6,138.2 541.5,140.1 545.5,142.1 549.5,144.0 553.4,145.9 557.4,148.1 561.4,150.7 565.3,153.3 569.3,155.9 573.3,158.4 577.2,160.9 581.2,163.1 585.2,165.3 589.1,167.5 593.1,169.6 597.1,171.5 601.0,173.1 605.0,174.4 605.0,217.6 601.0,216.7 597.1,215.5 593.1,214.0 589.1,212.3 585.2,210.4 581.2,208.6 577.2,206.7 573.3,204.7 569.3,202.5 565.3,200.3 561.4,198.1 557.4,195.9 553.4,194.1 549.5,192.6 545.5,191.1 541.5,189.5 537.6,188.0 533.6,186.5 529.6,185.2 525.7,184.1 521.7,183.1 517.7,182.4 513.8,181.8 509.8,181.4 505.8,181.0 501.8,180.7 497.9,180.5 493.9,180.4 489.9,180.3 486.0,180.3 482.0,180.3 478.0,180.3 474.1,180.4 470.1,180.5 466.1,180.6 462.2,180.8 458.2,181.0 454.2,181.3 450.3,181.6 446.3,181.9 442.3,182.2 438.4,182.5 434.4,182.8 430.4,183.1 426.5,183.4 422.5,183.6 418.5,183.8 414.6,184.0 410.6,184.1 406.6,184.2 402.7,184.3 398.7,184.4 394.7,184.5 390.8,184.6 386.8,184.7 382.8,184.8 378.9,184.9 374.9,185.0 370.9,185.1 367.0,185.2 363.0,185.3 359.0,185.4 355.1,185.5 351.1,185.6 347.1,185.7 343.2,185.8 339.2,185.9 335.2,186.0 331.2,186.2 327.3,186.4 323.3,186.8 319.3,187.1 315.4,187.5 311.4,187.9 307.4,188.4 303.5,189.0 299.5,189.6 295.5,190.3 291.6,191.1 287.6,192.0 283.6,193.0 279.7,194.1 275.7,195.4 271.7,196.5 267.8,197.8 263.8,199.2 259.8,200.7 255.9,202.2 251.9,203.6 247.9,204.8 244.0,205.9 240.0,206.6Z" fill="url(#g95)" filter="url(#b16p9_30p5)"/><path d="M240.0,168.6 244.0,167.6 247.9,166.4 251.9,164.9 255.9,163.3 259.8,161.5 263.8,159.8 267.8,158.2 271.7,156.7 275.7,155.3 279.7,153.7 283.6,152.3 287.6,151.0 291.6,149.8 295.5,148.7 299.5,147.6 303.5,146.8 307.4,146.2 311.4,145.6 315.4,145.0 319.3,144.5 323.3,144.0 327.3,143.5 331.2,143.2 335.2,143.0 339.2,142.9 343.2,142.8 347.1,142.7 351.1,142.6 355.1,142.5 359.0,142.4 363.0,142.3 367.0,142.2 370.9,142.1 374.9,142.0 378.9,141.9 382.8,141.8 386.8,141.7 390.8,141.6 394.7,141.5 398.7,141.4 402.7,141.3 406.6,141.2 410.6,141.1 414.6,141.0 418.5,140.8 422.5,140.6 426.5,140.4 430.4,140.1 434.4,139.8 438.4,139.5 442.3,139.2 446.3,138.9 450.3,138.6 454.2,138.3 458.2,138.0 462.2,137.8 466.1,137.6 470.1,137.5 474.1,137.4 478.0,137.3 482.0,137.3 486.0,137.3 489.9,137.3 493.9,137.4 497.9,137.5 501.8,137.7 505.8,138.0 509.8,138.4 513.8,138.8 517.7,139.4 521.7,140.3 525.7,141.6 529.6,143.0 533.6,144.7 537.6,146.5 541.5,148.3 545.5,150.2 549.5,152.1 553.4,153.9 557.4,156.1 561.4,158.6 565.3,161.1 569.3,163.7 573.3,166.1 577.2,168.5 581.2,170.7 585.2,172.9 589.1,175.0 593.1,177.0 597.1,178.8 601.0,180.4 605.0,181.6 605.0,210.4 601.0,209.4 597.1,208.1 593.1,206.6 589.1,204.8 585.2,202.9 581.2,201.0 577.2,199.1 573.3,197.0 569.3,194.8 565.3,192.5 561.4,190.2 557.4,187.9 553.4,186.0 549.5,184.5 545.5,182.9 541.5,181.3 537.6,179.7 533.6,178.2 529.6,176.8 525.7,175.6 521.7,174.6 517.7,173.8 513.8,173.2 509.8,172.8 505.8,172.4 501.8,172.1 497.9,171.9 493.9,171.8 489.9,171.7 486.0,171.7 482.0,171.7 478.0,171.7 474.1,171.8 470.1,171.9 466.1,172.0 462.2,172.2 458.2,172.4 454.2,172.7 450.3,173.0 446.3,173.3 442.3,173.6 438.4,173.9 434.4,174.2 430.4,174.5 426.5,174.8 422.5,175.0 418.5,175.2 414.6,175.4 410.6,175.5 406.6,175.6 402.7,175.7 398.7,175.8 394.7,175.9 390.8,176.0 386.8,176.1 382.8,176.2 378.9,176.3 374.9,176.4 370.9,176.5 367.0,176.6 363.0,176.7 359.0,176.8 355.1,176.9 351.1,177.0 347.1,177.1 343.2,177.2 339.2,177.3 335.2,177.4 331.2,177.6 327.3,177.9 323.3,178.2 319.3,178.6 315.4,179.0 311.4,179.5 307.4,180.0 303.5,180.5 299.5,181.2 295.5,182.0 291.6,182.9 287.6,183.8 283.6,184.9 279.7,186.0 275.7,187.4 271.7,188.5 267.8,189.8 263.8,191.3 259.8,192.8 255.9,194.4 251.9,195.8 247.9,197.1 244.0,198.2 240.0,199.0Z" fill="url(#g96)" filter="url(#b13_15p2)"/>
<path d="M100.0,278.9 104.0,278.9 108.0,278.9 112.0,278.9 116.0,279.0 120.0,279.0 124.0,279.0 128.0,278.9 132.0,278.9 136.0,278.7 140.0,278.5 144.0,278.2 148.0,278.0 152.0,277.7 156.0,277.4 160.0,277.1 164.0,276.8 168.0,276.4 172.0,276.1 176.0,275.7 180.0,275.4 184.0,275.0 188.0,274.6 192.0,274.1 196.0,273.6 200.0,273.1 204.0,272.5 208.0,271.8 212.0,271.1 216.0,270.3 220.0,269.4 224.0,268.5 228.0,267.3 232.0,266.0 236.0,264.3 240.0,262.3 244.0,260.3 248.0,258.3 252.0,256.3 256.0,253.9 260.0,251.7 264.0,249.5 268.0,247.8 272.0,246.3 276.0,244.8 280.0,243.4 284.0,242.1 288.0,240.9 292.0,239.8 296.0,238.9 300.0,238.1 304.0,237.3 308.0,236.6 312.0,236.0 316.0,235.5 320.0,235.2 324.0,234.9 328.0,234.7 332.0,234.4 336.0,234.2 340.0,234.1 344.0,233.9 348.0,233.7 352.0,233.5 356.0,233.4 360.0,233.2 364.0,233.0 368.0,232.9 372.0,232.8 376.0,232.6 380.0,232.5 384.0,232.3 388.0,232.2 392.0,232.1 396.0,231.9 400.0,231.8 404.0,231.7 408.0,231.6 412.0,231.5 416.0,231.4 420.0,231.3 424.0,231.3 428.0,231.2 432.0,231.2 436.0,231.2 440.0,231.2 444.0,231.2 448.0,231.2 452.0,231.2 456.0,231.3 460.0,231.3 464.0,231.4 468.0,231.5 472.0,231.6 476.0,231.7 480.0,231.8 484.0,232.0 488.0,232.1 492.0,232.3 496.0,232.6 500.0,232.9 504.0,233.2 508.0,233.6 512.0,234.0 516.0,234.4 520.0,234.8 524.0,235.3 528.0,235.8 532.0,236.4 536.0,237.2 540.0,238.0 544.0,238.8 548.0,239.7 552.0,240.6 556.0,241.5 560.0,242.3 564.0,243.4 568.0,244.3 572.0,245.3 576.0,246.3 580.0,247.5 584.0,248.9 588.0,250.4 592.0,252.0 596.0,253.6 600.0,255.1 604.0,256.4 608.0,257.6 612.0,258.8 616.0,259.9 620.0,261.2 624.0,262.1 628.0,263.0 632.0,263.9 636.0,264.9 640.0,265.8 644.0,266.8 648.0,267.7 652.0,268.4 656.0,269.0 660.0,269.6 664.0,270.2 668.0,270.8 672.0,271.4 676.0,272.0 680.0,272.5 684.0,273.0 688.0,273.5 692.0,274.0 696.0,274.3 700.0,274.8 704.0,275.3 708.0,275.7 712.0,275.9 716.0,276.1 720.0,276.3 724.0,276.4 728.0,276.5 732.0,276.6 736.0,276.6 740.0,276.6 744.0,276.6 748.0,276.5 752.0,276.5 756.0,276.5 760.0,276.4 760.0,300.4 756.0,300.5 752.0,300.5 748.0,300.5 744.0,300.6 740.0,300.6 736.0,300.6 732.0,300.6 728.0,300.5 724.0,300.4 720.0,300.3 716.0,300.1 712.0,299.9 708.0,299.7 704.0,299.3 700.0,298.8 696.0,298.3 692.0,297.8 688.0,297.3 684.0,296.7 680.0,296.1 676.0,295.4 672.0,294.8 668.0,294.1 664.0,293.4 660.0,292.7 656.0,292.0 652.0,291.3 648.0,290.2 644.0,289.0 640.0,287.8 636.0,286.5 632.0,285.3 628.0,284.0 624.0,282.8 620.0,281.6 616.0,279.9 612.0,278.2 608.0,276.6 604.0,274.9 600.0,273.1 596.0,271.2 592.0,269.1 588.0,267.0 584.0,265.0 580.0,263.1 576.0,261.7 572.0,260.4 568.0,259.2 564.0,258.0 560.0,256.7 556.0,255.7 552.0,254.7 548.0,253.7 544.0,252.6 540.0,251.6 536.0,250.6 532.0,249.7 528.0,249.0 524.0,248.5 520.0,248.0 516.0,247.6 512.0,247.2 508.0,246.8 504.0,246.4 500.0,246.1 496.0,245.8 492.0,245.5 488.0,245.3 484.0,245.2 480.0,245.0 476.0,244.9 472.0,244.8 468.0,244.7 464.0,244.6 460.0,244.5 456.0,244.5 452.0,244.4 448.0,244.4 444.0,244.4 440.0,244.4 436.0,244.4 432.0,244.4 428.0,244.4 424.0,244.5 420.0,244.5 416.0,244.6 412.0,244.7 408.0,244.8 404.0,244.9 400.0,245.0 396.0,245.1 392.0,245.3 388.0,245.4 384.0,245.5 380.0,245.7 376.0,245.8 372.0,246.0 368.0,246.1 364.0,246.2 360.0,246.4 356.0,246.6 352.0,246.7 348.0,246.9 344.0,247.1 340.0,247.3 336.0,247.4 332.0,247.6 328.0,247.9 324.0,248.1 320.0,248.4 316.0,248.7 312.0,249.4 308.0,250.2 304.0,251.0 300.0,252.0 296.0,253.0 292.0,254.2 288.0,255.4 284.0,256.8 280.0,258.3 276.0,259.9 272.0,261.6 268.0,263.3 264.0,265.6 260.0,268.6 256.0,271.8 252.0,275.0 248.0,278.0 244.0,280.9 240.0,283.9 236.0,286.8 232.0,289.5 228.0,291.5 224.0,293.0 220.0,294.4 216.0,295.7 212.0,296.8 208.0,297.9 204.0,298.9 200.0,299.5 196.0,300.0 192.0,300.5 188.0,301.0 184.0,301.4 180.0,301.8 176.0,302.1 172.0,302.5 168.0,302.7 164.0,302.8 160.0,302.9 156.0,303.0 152.0,303.0 148.0,303.0 144.0,303.0 140.0,303.0 136.0,302.9 132.0,302.9 128.0,302.9 124.0,303.0 120.0,303.0 116.0,303.0 112.0,302.9 108.0,302.9 104.0,302.9 100.0,302.9Z" fill="url(#g97)" filter="url(#b9p1_12)"/><path d="M100.0,282.9 104.0,282.9 108.0,282.9 112.0,282.9 116.0,283.0 120.0,283.0 124.0,283.0 128.0,282.9 132.0,282.9 136.0,282.7 140.0,282.5 144.0,282.4 148.0,282.2 152.0,281.9 156.0,281.7 160.0,281.4 164.0,281.1 168.0,280.8 172.0,280.5 176.0,280.1 180.0,279.8 184.0,279.4 188.0,279.0 192.0,278.5 196.0,278.0 200.0,277.5 204.0,276.9 208.0,276.2 212.0,275.4 216.0,274.5 220.0,273.6 224.0,272.6 228.0,271.4 232.0,269.9 236.0,268.0 240.0,265.9 244.0,263.7 248.0,261.6 252.0,259.4 256.0,256.9 260.0,254.5 264.0,252.2 268.0,250.3 272.0,248.8 276.0,247.3 280.0,245.9 284.0,244.6 288.0,243.3 292.0,242.2 296.0,241.3 300.0,240.4 304.0,239.6 308.0,238.9 312.0,238.2 316.0,237.7 320.0,237.4 324.0,237.1 328.0,236.9 332.0,236.6 336.0,236.4 340.0,236.3 344.0,236.1 348.0,235.9 352.0,235.7 356.0,235.6 360.0,235.4 364.0,235.2 368.0,235.1 372.0,235.0 376.0,234.8 380.0,234.7 384.0,234.5 388.0,234.4 392.0,234.3 396.0,234.1 400.0,234.0 404.0,233.9 408.0,233.8 412.0,233.7 416.0,233.6 420.0,233.5 424.0,233.5 428.0,233.4 432.0,233.4 436.0,233.4 440.0,233.4 444.0,233.4 448.0,233.4 452.0,233.4 456.0,233.5 460.0,233.5 464.0,233.6 468.0,233.7 472.0,233.8 476.0,233.9 480.0,234.0 484.0,234.2 488.0,234.3 492.0,234.5 496.0,234.8 500.0,235.1 504.0,235.4 508.0,235.8 512.0,236.2 516.0,236.6 520.0,237.0 524.0,237.5 528.0,238.0 532.0,238.6 536.0,239.4 540.0,240.2 544.0,241.1 548.0,242.1 552.0,243.0 556.0,243.9 560.0,244.7 564.0,245.8 568.0,246.8 572.0,247.8 576.0,248.9 580.0,250.1 584.0,251.6 588.0,253.2 592.0,254.9 596.0,256.6 600.0,258.1 604.0,259.5 608.0,260.8 612.0,262.0 616.0,263.3 620.0,264.6 624.0,265.5 628.0,266.5 632.0,267.5 636.0,268.5 640.0,269.5 644.0,270.5 648.0,271.4 652.0,272.2 656.0,272.9 660.0,273.5 664.0,274.1 668.0,274.7 672.0,275.3 676.0,275.9 680.0,276.5 684.0,277.0 688.0,277.5 692.0,277.9 696.0,278.3 700.0,278.8 704.0,279.3 708.0,279.7 712.0,279.9 716.0,280.1 720.0,280.3 724.0,280.4 728.0,280.5 732.0,280.6 736.0,280.6 740.0,280.6 744.0,280.6 748.0,280.5 752.0,280.5 756.0,280.5 760.0,280.4 760.0,296.4 756.0,296.5 752.0,296.5 748.0,296.5 744.0,296.6 740.0,296.6 736.0,296.6 732.0,296.6 728.0,296.5 724.0,296.4 720.0,296.3 716.0,296.1 712.0,295.9 708.0,295.7 704.0,295.3 700.0,294.8 696.0,294.3 692.0,293.8 688.0,293.3 684.0,292.8 680.0,292.2 676.0,291.5 672.0,290.9 668.0,290.2 664.0,289.5 660.0,288.8 656.0,288.1 652.0,287.5 648.0,286.5 644.0,285.3 640.0,284.1 636.0,282.9 632.0,281.7 628.0,280.5 624.0,279.3 620.0,278.2 616.0,276.5 612.0,275.0 608.0,273.4 604.0,271.8 600.0,270.1 596.0,268.2 592.0,266.2 588.0,264.2 584.0,262.3 580.0,260.5 576.0,259.1 572.0,257.9 568.0,256.7 564.0,255.6 560.0,254.3 556.0,253.4 552.0,252.4 548.0,251.3 544.0,250.3 540.0,249.3 536.0,248.4 532.0,247.5 528.0,246.8 524.0,246.3 520.0,245.8 516.0,245.4 512.0,245.0 508.0,244.6 504.0,244.2 500.0,243.9 496.0,243.6 492.0,243.3 488.0,243.1 484.0,243.0 480.0,242.8 476.0,242.7 472.0,242.6 468.0,242.5 464.0,242.4 460.0,242.3 456.0,242.3 452.0,242.2 448.0,242.2 444.0,242.2 440.0,242.2 436.0,242.2 432.0,242.2 428.0,242.2 424.0,242.3 420.0,242.3 416.0,242.4 412.0,242.5 408.0,242.6 404.0,242.7 400.0,242.8 396.0,242.9 392.0,243.1 388.0,243.2 384.0,243.3 380.0,243.5 376.0,243.6 372.0,243.8 368.0,243.9 364.0,244.0 360.0,244.2 356.0,244.4 352.0,244.5 348.0,244.7 344.0,244.9 340.0,245.1 336.0,245.2 332.0,245.4 328.0,245.7 324.0,245.9 320.0,246.2 316.0,246.5 312.0,247.1 308.0,247.9 304.0,248.7 300.0,249.7 296.0,250.7 292.0,251.8 288.0,253.0 284.0,254.4 280.0,255.8 276.0,257.4 272.0,259.0 268.0,260.7 264.0,262.9 260.0,265.8 256.0,268.8 252.0,271.9 248.0,274.7 244.0,277.5 240.0,280.3 236.0,283.1 232.0,285.6 228.0,287.5 224.0,288.9 220.0,290.2 216.0,291.4 212.0,292.5 208.0,293.6 204.0,294.5 200.0,295.1 196.0,295.6 192.0,296.1 188.0,296.6 184.0,297.0 180.0,297.4 176.0,297.7 172.0,298.1 168.0,298.3 164.0,298.5 160.0,298.6 156.0,298.7 152.0,298.8 148.0,298.8 144.0,298.9 140.0,298.9 136.0,298.9 132.0,298.9 128.0,298.9 124.0,299.0 120.0,299.0 116.0,299.0 112.0,298.9 108.0,298.9 104.0,298.9 100.0,298.9Z" fill="url(#g98)" filter="url(#b7_6)"/>
<path d="M250.0,296.1 254.0,294.6 258.0,292.7 262.0,290.5 266.0,288.2 270.0,285.9 274.0,283.8 278.0,282.1 282.0,281.4 286.0,281.2 290.0,281.1 294.0,281.0 298.0,280.9 302.0,280.8 306.0,280.7 310.0,280.7 314.0,280.6 318.0,280.6 322.0,280.6 326.0,280.6 330.0,280.6 334.0,280.6 338.0,280.6 342.0,280.6 346.0,280.7 350.0,280.7 354.0,280.8 358.0,280.8 362.0,280.9 366.0,280.9 370.0,281.0 374.0,281.0 378.0,281.1 382.0,281.2 386.0,281.2 390.0,281.3 394.0,281.3 398.0,281.4 402.0,281.4 406.0,281.4 410.0,281.5 414.0,281.5 418.0,281.5 422.0,281.5 426.0,281.5 430.0,281.5 434.0,281.4 438.0,281.4 442.0,281.4 446.0,281.3 450.0,281.3 454.0,281.2 458.0,281.2 462.0,281.1 466.0,281.1 470.0,281.0 474.0,281.0 478.0,280.9 482.0,280.9 486.0,280.8 490.0,280.8 494.0,280.7 498.0,280.7 502.0,280.7 506.0,280.6 510.0,280.6 514.0,280.6 518.0,280.6 522.0,280.6 526.0,280.6 530.0,280.6 534.0,280.6 538.0,280.7 542.0,280.7 546.0,280.8 550.0,280.9 554.0,281.0 558.0,281.1 562.0,281.2 566.0,281.3 570.0,281.5 574.0,282.5 578.0,283.8 582.0,285.3 586.0,287.0 590.0,288.8 594.0,290.5 598.0,292.2 602.0,293.7 606.0,295.0 610.0,296.1 610.0,339.3 606.0,338.7 602.0,337.9 598.0,336.8 594.0,335.6 590.0,334.4 586.0,333.1 582.0,331.9 578.0,330.9 574.0,330.0 570.0,329.5 566.0,329.3 562.0,329.2 558.0,329.1 554.0,329.0 550.0,328.9 546.0,328.8 542.0,328.7 538.0,328.7 534.0,328.6 530.0,328.6 526.0,328.6 522.0,328.6 518.0,328.6 514.0,328.6 510.0,328.6 506.0,328.6 502.0,328.7 498.0,328.7 494.0,328.7 490.0,328.8 486.0,328.8 482.0,328.9 478.0,328.9 474.0,329.0 470.0,329.0 466.0,329.1 462.0,329.1 458.0,329.2 454.0,329.2 450.0,329.3 446.0,329.3 442.0,329.4 438.0,329.4 434.0,329.4 430.0,329.5 426.0,329.5 422.0,329.5 418.0,329.5 414.0,329.5 410.0,329.5 406.0,329.4 402.0,329.4 398.0,329.4 394.0,329.3 390.0,329.3 386.0,329.2 382.0,329.2 378.0,329.1 374.0,329.0 370.0,329.0 366.0,328.9 362.0,328.9 358.0,328.8 354.0,328.8 350.0,328.7 346.0,328.7 342.0,328.6 338.0,328.6 334.0,328.6 330.0,328.6 326.0,328.6 322.0,328.6 318.0,328.6 314.0,328.6 310.0,328.7 306.0,328.7 302.0,328.8 298.0,328.9 294.0,329.0 290.0,329.1 286.0,329.2 282.0,329.4 278.0,329.8 274.0,330.9 270.0,332.3 266.0,333.9 262.0,335.6 258.0,337.2 254.0,338.5 250.0,339.3Z" fill="url(#g99)" filter="url(#b18p2_28p8)"/><path d="M250.0,303.3 254.0,301.9 258.0,300.1 262.0,298.0 266.0,295.8 270.0,293.6 274.0,291.7 278.0,290.1 282.0,289.4 286.0,289.2 290.0,289.1 294.0,289.0 298.0,288.9 302.0,288.8 306.0,288.7 310.0,288.7 314.0,288.6 318.0,288.6 322.0,288.6 326.0,288.6 330.0,288.6 334.0,288.6 338.0,288.6 342.0,288.6 346.0,288.7 350.0,288.7 354.0,288.8 358.0,288.8 362.0,288.9 366.0,288.9 370.0,289.0 374.0,289.0 378.0,289.1 382.0,289.2 386.0,289.2 390.0,289.3 394.0,289.3 398.0,289.4 402.0,289.4 406.0,289.4 410.0,289.5 414.0,289.5 418.0,289.5 422.0,289.5 426.0,289.5 430.0,289.5 434.0,289.4 438.0,289.4 442.0,289.4 446.0,289.3 450.0,289.3 454.0,289.2 458.0,289.2 462.0,289.1 466.0,289.1 470.0,289.0 474.0,289.0 478.0,288.9 482.0,288.9 486.0,288.8 490.0,288.8 494.0,288.7 498.0,288.7 502.0,288.7 506.0,288.6 510.0,288.6 514.0,288.6 518.0,288.6 522.0,288.6 526.0,288.6 530.0,288.6 534.0,288.6 538.0,288.7 542.0,288.7 546.0,288.8 550.0,288.9 554.0,289.0 558.0,289.1 562.0,289.2 566.0,289.3 570.0,289.5 574.0,290.4 578.0,291.7 582.0,293.1 586.0,294.7 590.0,296.4 594.0,298.0 598.0,299.6 602.0,301.1 606.0,302.3 610.0,303.3 610.0,332.1 606.0,331.4 602.0,330.5 598.0,329.4 594.0,328.1 590.0,326.8 586.0,325.4 582.0,324.1 578.0,323.0 574.0,322.1 570.0,321.5 566.0,321.3 562.0,321.2 558.0,321.1 554.0,321.0 550.0,320.9 546.0,320.8 542.0,320.7 538.0,320.7 534.0,320.6 530.0,320.6 526.0,320.6 522.0,320.6 518.0,320.6 514.0,320.6 510.0,320.6 506.0,320.6 502.0,320.7 498.0,320.7 494.0,320.7 490.0,320.8 486.0,320.8 482.0,320.9 478.0,320.9 474.0,321.0 470.0,321.0 466.0,321.1 462.0,321.1 458.0,321.2 454.0,321.2 450.0,321.3 446.0,321.3 442.0,321.4 438.0,321.4 434.0,321.4 430.0,321.5 426.0,321.5 422.0,321.5 418.0,321.5 414.0,321.5 410.0,321.5 406.0,321.4 402.0,321.4 398.0,321.4 394.0,321.3 390.0,321.3 386.0,321.2 382.0,321.2 378.0,321.1 374.0,321.0 370.0,321.0 366.0,320.9 362.0,320.9 358.0,320.8 354.0,320.8 350.0,320.7 346.0,320.7 342.0,320.6 338.0,320.6 334.0,320.6 330.0,320.6 326.0,320.6 322.0,320.6 318.0,320.6 314.0,320.6 310.0,320.7 306.0,320.7 302.0,320.8 298.0,320.9 294.0,321.0 290.0,321.1 286.0,321.2 282.0,321.4 278.0,321.9 274.0,323.0 270.0,324.6 266.0,326.3 262.0,328.1 258.0,329.8 254.0,331.2 250.0,332.1Z" fill="url(#g100)" filter="url(#b14_14p4)"/>
<path d="M100.0,355.9 104.0,355.9 108.0,356.0 112.0,356.1 116.0,356.2 120.0,356.2 124.0,356.2 128.0,356.1 132.0,355.9 136.0,355.6 140.0,355.1 144.0,354.6 148.0,353.9 152.0,353.2 156.0,352.5 160.0,351.6 164.0,350.8 168.0,349.8 172.0,348.8 176.0,347.8 180.0,346.6 184.0,345.2 188.0,343.8 192.0,342.4 196.0,341.0 200.0,339.7 204.0,338.7 208.0,337.5 212.0,336.6 216.0,336.1 220.0,335.6 224.0,334.6 228.0,333.3 232.0,332.0 236.0,330.8 240.0,330.0 240.0,358.8 236.0,360.1 232.0,361.8 228.0,363.7 224.0,365.5 220.0,367.2 216.0,368.6 212.0,370.1 208.0,371.8 204.0,373.7 200.0,375.2 196.0,376.9 192.0,378.7 188.0,380.6 184.0,382.4 180.0,384.2 176.0,385.9 172.0,387.2 168.0,388.2 164.0,389.2 160.0,390.0 156.0,390.9 152.0,391.6 148.0,392.3 144.0,393.0 140.0,393.5 136.0,394.0 132.0,394.3 128.0,394.5 124.0,394.6 120.0,394.6 116.0,394.6 112.0,394.5 108.0,394.4 104.0,394.3 100.0,394.3Z" fill="url(#g101)" filter="url(#b10p4_21p9)"/><path d="M100.0,362.3 104.0,362.3 108.0,362.4 112.0,362.5 116.0,362.6 120.0,362.6 124.0,362.6 128.0,362.5 132.0,362.3 136.0,362.0 140.0,361.5 144.0,361.0 148.0,360.3 152.0,359.6 156.0,358.9 160.0,358.0 164.0,357.2 168.0,356.2 172.0,355.2 176.0,354.2 180.0,352.9 184.0,351.4 188.0,349.9 192.0,348.4 196.0,347.0 200.0,345.6 204.0,344.5 208.0,343.2 212.0,342.2 216.0,341.5 220.0,340.8 224.0,339.8 228.0,338.4 232.0,336.9 236.0,335.7 240.0,334.8 240.0,354.0 236.0,355.2 232.0,356.8 228.0,358.7 224.0,360.4 220.0,361.9 216.0,363.2 212.0,364.5 208.0,366.1 204.0,367.8 200.0,369.3 196.0,370.9 192.0,372.6 188.0,374.4 184.0,376.2 180.0,378.0 176.0,379.5 172.0,380.8 168.0,381.8 164.0,382.8 160.0,383.6 156.0,384.5 152.0,385.2 148.0,385.9 144.0,386.6 140.0,387.1 136.0,387.6 132.0,387.9 128.0,388.1 124.0,388.2 120.0,388.2 116.0,388.2 112.0,388.1 108.0,388.0 104.0,387.9 100.0,387.9Z" fill="url(#g102)" filter="url(#b8_10p9)"/>
<path d="M620.0,330.0 624.0,330.8 628.0,332.0 632.0,333.3 636.0,334.6 640.0,335.6 644.0,336.1 648.0,336.6 652.0,337.5 656.0,338.7 660.0,339.7 664.0,341.0 668.0,342.4 672.0,343.8 676.0,345.2 680.0,346.6 684.0,347.8 688.0,348.8 692.0,349.8 696.0,350.8 700.0,351.7 704.0,352.5 708.0,353.3 712.0,354.0 716.0,354.6 720.0,355.1 724.0,355.6 728.0,355.9 732.0,356.1 736.0,356.2 740.0,356.2 744.0,356.2 748.0,356.1 752.0,356.0 756.0,355.9 760.0,355.9 760.0,394.3 756.0,394.3 752.0,394.4 748.0,394.5 744.0,394.6 740.0,394.6 736.0,394.6 732.0,394.5 728.0,394.3 724.0,394.0 720.0,393.5 716.0,393.0 712.0,392.4 708.0,391.7 704.0,390.9 700.0,390.1 696.0,389.2 692.0,388.2 688.0,387.2 684.0,385.9 680.0,384.2 676.0,382.4 672.0,380.6 668.0,378.7 664.0,376.9 660.0,375.2 656.0,373.7 652.0,371.8 648.0,370.1 644.0,368.6 640.0,367.2 636.0,365.5 632.0,363.7 628.0,361.8 624.0,360.1 620.0,358.8Z" fill="url(#g103)" filter="url(#b10p4_21p9)"/><path d="M620.0,334.8 624.0,335.7 628.0,336.9 632.0,338.4 636.0,339.8 640.0,340.8 644.0,341.5 648.0,342.2 652.0,343.2 656.0,344.5 660.0,345.6 664.0,347.0 668.0,348.4 672.0,349.9 676.0,351.4 680.0,352.9 684.0,354.2 688.0,355.2 692.0,356.2 696.0,357.2 700.0,358.1 704.0,358.9 708.0,359.7 712.0,360.4 716.0,361.0 720.0,361.5 724.0,362.0 728.0,362.3 732.0,362.5 736.0,362.6 740.0,362.6 744.0,362.6 748.0,362.5 752.0,362.4 756.0,362.3 760.0,362.3 760.0,387.9 756.0,387.9 752.0,388.0 748.0,388.1 744.0,388.2 740.0,388.2 736.0,388.2 732.0,388.1 728.0,387.9 724.0,387.6 720.0,387.1 716.0,386.6 712.0,386.0 708.0,385.3 704.0,384.5 700.0,383.7 696.0,382.8 692.0,381.8 688.0,380.8 684.0,379.5 680.0,378.0 676.0,376.2 672.0,374.4 668.0,372.6 664.0,370.9 660.0,369.3 656.0,367.8 652.0,366.1 648.0,364.5 644.0,363.2 640.0,361.9 636.0,360.4 632.0,358.7 628.0,356.8 624.0,355.2 620.0,354.0Z" fill="url(#g104)" filter="url(#b8_10p9)"/>
</g></g>
<line x1="132" y1="249.5" x2="724.8" y2="249.5" stroke="#757575" stroke-width="5.4" stroke-dasharray="22.4 10.4" stroke-dashoffset="-0.8"/>
<path d="M132.0,348.3 136.0,348.6 140.0,348.6 144.0,348.3 148.0,347.8 152.0,347.0 156.0,346.1 160.0,344.9 164.0,343.5 168.0,341.9 172.0,340.1 176.0,338.1 180.0,336.0 184.0,333.7 188.0,331.2 192.0,328.6 196.0,325.9 200.0,323.1 204.0,320.1 208.0,317.1 212.0,314.0 216.0,310.8 220.0,307.5 224.0,304.3 228.0,300.9 232.0,297.6 236.0,294.3 240.0,290.9 244.0,287.6 248.0,284.3 252.0,281.0 256.0,277.8 260.0,274.6 264.0,271.5 268.0,268.5 272.0,265.5 276.0,262.7 280.0,259.9 284.0,257.3 288.0,254.7 292.0,252.3 296.0,250.1 300.0,247.9 304.0,245.9 308.0,244.1 312.0,242.3 316.0,240.8 320.0,239.3 324.0,238.0 328.0,236.8 332.0,235.8 336.0,234.9 340.0,234.0 344.0,233.3 348.0,232.7 352.0,232.1 356.0,231.6 360.0,231.2 364.0,230.8 368.0,230.4 372.0,230.0 376.0,229.6 380.0,229.2 384.0,228.8 388.0,228.3 392.0,227.8 396.0,227.3 400.0,226.7 404.0,226.2 408.0,225.5 412.0,224.9 416.0,224.2 420.0,223.6 424.0,222.9 428.0,222.2 432.0,221.6 436.0,221.0 440.0,220.4 444.0,219.9 448.0,219.4 452.0,218.9 456.0,218.6 460.0,218.3 464.0,218.1 468.0,217.9 472.0,217.9 476.0,217.9 480.0,218.1 484.0,218.3 488.0,218.7 492.0,219.1 496.0,219.7 500.0,220.3 504.0,221.1 508.0,222.0 512.0,223.1 516.0,224.2 520.0,225.5 524.0,226.8 528.0,228.3 532.0,229.9 536.0,231.6 540.0,233.5 544.0,235.4 548.0,237.5 552.0,239.6 556.0,241.9 560.0,244.2 564.0,246.7 568.0,249.2 572.0,251.8 576.0,254.5 580.0,257.3 584.0,260.1 588.0,263.0 592.0,266.0 596.0,269.0 600.0,272.0 604.0,275.1 608.0,278.2 612.0,281.3 616.0,284.5 620.0,287.6 624.0,290.8 628.0,294.0 632.0,297.1 636.0,300.2 640.0,303.3 644.0,306.4 648.0,309.4 652.0,312.4 656.0,315.3 660.0,318.2 664.0,321.0 668.0,323.7 672.0,326.3 676.0,328.8 680.0,331.2 684.0,333.5 688.0,335.7 692.0,337.8 696.0,339.7 700.0,341.4 704.0,343.0 708.0,344.4 712.0,345.7 716.0,346.7 720.0,347.6 724.0,348.2 724.8,348.3" fill="none" stroke="#3e3f41" stroke-width="5.2" stroke-linejoin="round"/>
<line x1="724.8" y1="54.78" x2="821" y2="54.78" stroke="#b2b2b2" stroke-width="3"/>
<line x1="724.8" y1="152.14" x2="821" y2="152.14" stroke="#b2b2b2" stroke-width="3"/>
<line x1="724.8" y1="249.5" x2="821" y2="249.5" stroke="#b2b2b2" stroke-width="3"/>
<line x1="724.8" y1="346.86" x2="821" y2="346.86" stroke="#b2b2b2" stroke-width="3"/>
<line x1="724.8" y1="444.22" x2="821" y2="444.22" stroke="#b2b2b2" stroke-width="3"/>
<path d="M729.8,5.5 C729.8,5.83 729.73,-0.37 729.8,7.5 C729.87,15.37 730,42.27 730.2,52.7 C730.4,63.13 730.67,64.32 731,70.1 C731.33,75.88 731.52,81.62 732.2,87.4 C732.88,93.18 733.75,99 735.1,104.8 C736.45,110.6 738,116.42 740.3,122.2 C742.6,127.98 745.33,133.72 748.9,139.5 C752.47,145.28 758.22,152.07 761.7,156.9 C765.18,161.73 767.78,164.63 769.8,168.5 C771.82,172.37 774.18,176.23 773.8,180.1 C773.42,183.97 770.28,187.85 767.5,191.7 C764.72,195.55 759.9,199.35 757.1,203.2 C754.3,207.05 751.1,210.93 750.7,214.8 C750.3,218.67 751.13,223.12 754.7,226.4 C758.27,229.68 765.88,232.07 772.1,234.5 C778.32,236.93 784.47,239.17 792,241 C799.53,242.83 817.33,243.63 817.3,245.5 C817.27,247.37 799.52,249.93 791.8,252.2 C784.08,254.47 775.15,257.17 771,259.1 C766.85,261.03 767.68,261.1 766.9,263.8 C766.12,266.5 767.37,270.48 766.3,275.3 C765.23,280.12 761.95,286.9 760.5,292.7 C759.05,298.5 758.17,304.32 757.6,310.1 C757.03,315.88 757.77,321.62 757.1,327.4 C756.43,333.18 755.15,339 753.6,344.8 C752.05,350.6 749.83,356.4 747.8,362.2 C745.77,368 743.33,373.82 741.4,379.6 C739.47,385.38 737.73,391.12 736.2,396.9 C734.67,402.68 733.17,407.55 732.2,414.3 C731.23,421.05 730.88,424.85 730.4,437.4 C729.92,449.95 729.5,480.27 729.3,489.6 C729.1,498.93 729.22,492.77 729.2,493.4" fill="none" stroke="#9467bd" stroke-width="5.2" stroke-linejoin="round" clip-path="url(#clipLoc)"/>
<text x="740.2" y="44.6" font-size="36.5" textLength="59.5" lengthAdjust="spacingAndGlyphs">loc.</text>
<rect x="132" y="5.5" width="592.8" height="487.9" fill="none" stroke="#000" stroke-width="3.3" stroke-linejoin="miter"/>
<rect x="724.8" y="5.5" width="96.2" height="487.9" fill="none" stroke="#000" stroke-width="3.3"/>
<line x1="120.4" y1="54.78" x2="132" y2="54.78" stroke="#000" stroke-width="3.3" stroke-linecap="round"/>
<line x1="713.2" y1="54.78" x2="724.8" y2="54.78" stroke="#000" stroke-width="3.3" stroke-linecap="round"/>
<line x1="120.4" y1="152.14" x2="132" y2="152.14" stroke="#000" stroke-width="3.3" stroke-linecap="round"/>
<line x1="713.2" y1="152.14" x2="724.8" y2="152.14" stroke="#000" stroke-width="3.3" stroke-linecap="round"/>
<line x1="120.4" y1="249.5" x2="132" y2="249.5" stroke="#000" stroke-width="3.3" stroke-linecap="round"/>
<line x1="713.2" y1="249.5" x2="724.8" y2="249.5" stroke="#000" stroke-width="3.3" stroke-linecap="round"/>
<line x1="120.4" y1="346.86" x2="132" y2="346.86" stroke="#000" stroke-width="3.3" stroke-linecap="round"/>
<line x1="713.2" y1="346.86" x2="724.8" y2="346.86" stroke="#000" stroke-width="3.3" stroke-linecap="round"/>
<line x1="120.4" y1="444.22" x2="132" y2="444.22" stroke="#000" stroke-width="3.3" stroke-linecap="round"/>
<line x1="713.2" y1="444.22" x2="724.8" y2="444.22" stroke="#000" stroke-width="3.3" stroke-linecap="round"/>
<line x1="132" y1="493.4" x2="132" y2="505" stroke="#000" stroke-width="3.3" stroke-linecap="round"/>
<line x1="357" y1="493.4" x2="357" y2="505" stroke="#000" stroke-width="3.3" stroke-linecap="round"/>
<line x1="489.4" y1="493.4" x2="489.4" y2="505" stroke="#000" stroke-width="3.3" stroke-linecap="round"/>
<line x1="724.8" y1="493.4" x2="724.8" y2="505" stroke="#000" stroke-width="3.3" stroke-linecap="round"/>
<text transform="translate(86.48,65.53) scale(1.1020,1)" font-size="28.63">4</text>
<text transform="translate(84.93,162.89) scale(1.1048,1)" font-size="28.21">2</text>
<text transform="translate(85.12,259.98) scale(1.0826,1)" font-size="27.82">0</text>
<text transform="translate(84.93,357.61) scale(1.1048,1)" font-size="28.21">2</text>
<rect x="65.2" y="346.01" width="18.4" height="2.7" fill="#000"/>
<text transform="translate(85.29,454.97) scale(1.0812,1)" font-size="28.63">4</text>
<rect x="65.2" y="443.37" width="18.4" height="2.7" fill="#000"/>
<text font-size="28.4" text-anchor="middle"><tspan x="133" y="545">Γ</tspan><tspan x="359.3" y="545">M</tspan><tspan x="491.8" y="545">K</tspan><tspan x="725.7" y="545">Γ</tspan></text>
<text transform="translate(150.73,62.09) scale(1.0349,1)" font-size="62.48" font-style="italic">ε</text><text transform="translate(181.6,72.3) scale(0.8261,1)" font-size="45.79">E</text><rect x="226.4" y="36.3" width="37.6" height="4.5"/><rect x="226.4" y="48.2" width="37.6" height="4.5"/><text transform="translate(282.31,62.1) scale(1.0797,1)" font-size="61.86">10.0</text>
<rect x="851.2" y="27.5" width="22" height="444.5" fill="url(#cb3)"/>
<rect x="851.2" y="27.5" width="22" height="444.5" fill="none" stroke="#000" stroke-width="3.3"/>
<line x1="873.2" y1="472" x2="884.8" y2="472" stroke="#000" stroke-width="3.3" stroke-linecap="round"/>
<text transform="translate(903.32,483.58) scale(1.0902,1)" font-size="27.82">0.0</text>
<line x1="873.2" y1="426.06" x2="884.8" y2="426.06" stroke="#000" stroke-width="3.3" stroke-linecap="round"/>
<text transform="translate(903.31,437.64) scale(1.0939,1)" font-size="27.82">0.8</text>
<line x1="873.2" y1="380.11" x2="884.8" y2="380.11" stroke="#000" stroke-width="3.3" stroke-linecap="round"/>
<text transform="translate(902.11,391.69) scale(1.1263,1)" font-size="27.82">1.6</text>
<line x1="873.2" y1="334.17" x2="884.8" y2="334.17" stroke="#000" stroke-width="3.3" stroke-linecap="round"/>
<text transform="translate(902.97,346.02) scale(1.0764,1)" font-size="28.21">2.4</text>
<line x1="873.2" y1="288.23" x2="884.8" y2="288.23" stroke="#000" stroke-width="3.3" stroke-linecap="round"/>
<text transform="translate(903.34,299.81) scale(1.0988,1)" font-size="27.82">3.2</text>
<line x1="873.2" y1="242.28" x2="884.8" y2="242.28" stroke="#000" stroke-width="3.3" stroke-linecap="round"/>
<text transform="translate(903.81,253.86) scale(1.0770,1)" font-size="27.82">4.0</text>
<line x1="873.2" y1="196.34" x2="884.8" y2="196.34" stroke="#000" stroke-width="3.3" stroke-linecap="round"/>
<text transform="translate(903.81,207.92) scale(1.0806,1)" font-size="27.82">4.8</text>
<line x1="873.2" y1="150.4" x2="884.8" y2="150.4" stroke="#000" stroke-width="3.3" stroke-linecap="round"/>
<text transform="translate(903.28,161.98) scale(1.0951,1)" font-size="27.82">5.6</text>
<line x1="873.2" y1="104.45" x2="884.8" y2="104.45" stroke="#000" stroke-width="3.3" stroke-linecap="round"/>
<text transform="translate(902.96,116.03) scale(1.0919,1)" font-size="27.82">6.4</text>
<line x1="873.2" y1="58.51" x2="884.8" y2="58.51" stroke="#000" stroke-width="3.3" stroke-linecap="round"/>
<text transform="translate(902.92,70.36) scale(1.0947,1)" font-size="28.21">7.2</text>
<text transform="translate(34.6,251.4) rotate(-90)" font-size="45" text-anchor="middle" textLength="119.5" lengthAdjust="spacingAndGlyphs">E (eV)</text>
</g>
</svg>
</body></html>
